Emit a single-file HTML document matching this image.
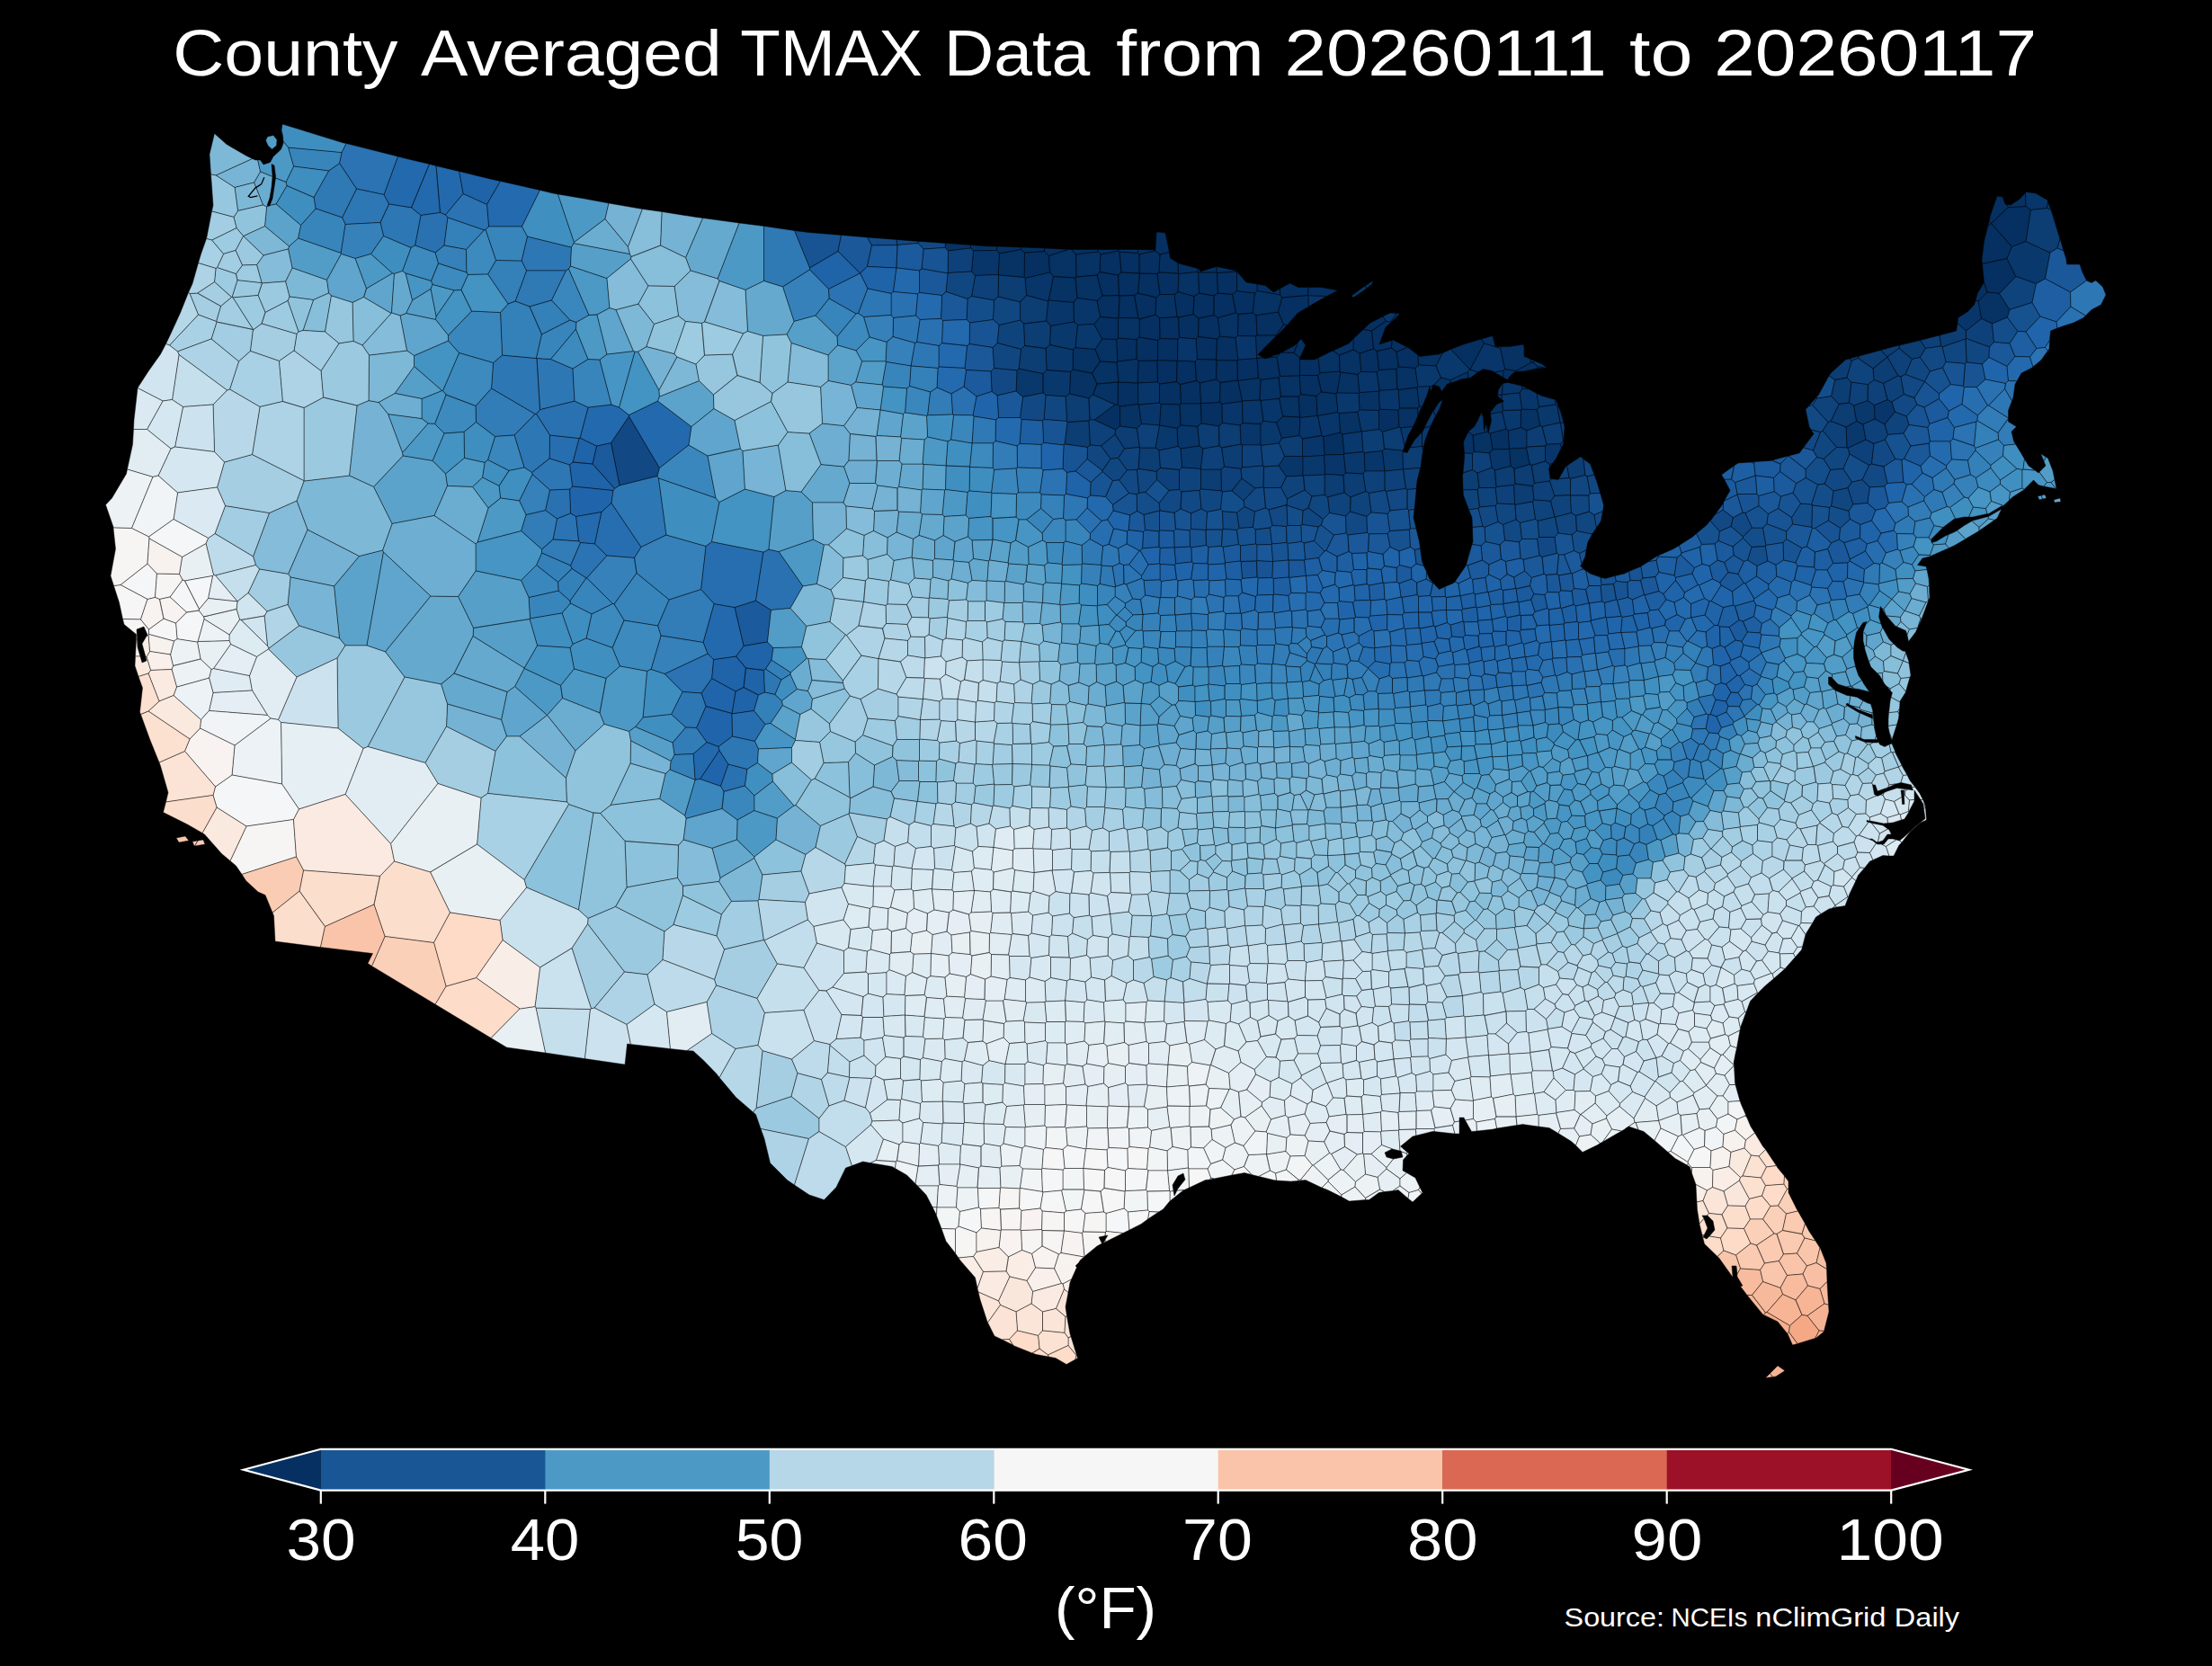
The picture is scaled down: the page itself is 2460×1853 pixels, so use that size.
<!DOCTYPE html>
<html><head><meta charset="utf-8"><title>County Averaged TMAX</title>
<style>html,body{margin:0;padding:0;background:#000;overflow:hidden}svg{display:block}text{font-family:"Liberation Sans",sans-serif;fill:#fff}</style></head>
<body><svg width="2460" height="1853" viewBox="0 0 2460 1853">
<rect width="2460" height="1853" fill="#000"/>
<g stroke="#000" stroke-opacity=".8" stroke-width=".55" stroke-linejoin="round"><path fill="#053061" d="M1139.5,281l-.5 27.5l1 1l27.5-6.5l-1-18.5l-5-5zM1108.5,278.5l3 3.5l24-4.5l0-2.5l-27-1zM1161.5,276l-11.5-.5l-14.5-.5l0 2.5l4 3.5l22-1.5zM1161.5,279.5l5 5l22-7l-27-1.5zM1196.5,283l24.5-3l-.5-2.5l-29 0zM1240.5,478l5-4l0-22l-2.5-2l-3 0l-23 17zM1359,449.5l-2.5-2l-21 1l0 .5l.5 22l19.5 3l4-3.5zM1243,450l2.5 2l20.5-2.5l-.5-23.5l-.5 0l-21-1l-.5 0zM1289.5,448l1.5 1.5l21 .5l1.5-1l-1-21.5l-4-3l-19 2.5zM1313.5,449l22 0l0-.5l-1-22.5l-4-2.5l-18 4zM1376.5,423l-19.5 2.5l-.5 22l2.5 2l22.5-3l0-.5l-4.5-22.5zM1287.5,425l-.5-24l-21 .5l-1 24.5l.5 0zM1287.5,425l2 2l19-2.5l.5-23l-21.5-1l-.5 .5zM1308.5,424.5l4 3l18-4l-1.5-21.5l-19.5-1l-.5 .5zM1331.5,399.5l-2.5 2.5l1.5 21.5l4 2.5l18-4l.5-21.5l-.5-.5zM1353,400.5l-.5 21.5l4.5 3.5l19.5-2.5l-.5-22zM1376,401l.5 22l.5 .5l22.5-3l-1.5-22l-.5 0l-20.5 1.5zM1398,398.5l1.5 22l2.5 2l20-2.5l1.5-1.5l-3.5-21.5l-10 1l-3 1l-1.5-1zM1243,402l21-2.5l0-22l-20.5-1.5l-2 1.5zM1287,401l.5-.5l0-22l-20.5-3.5l-3 2.5l0 22l2 2zM1309.5,401l.5-24l-20-.5l-2.5 2l0 22l21.5 1zM1332.5,374.5l-2.5 2.5l1.5 22.5l21 .5l1-23zM1352.5,400l.5 .5l23 .5l1-1l-3-24.5l-17-1.5l-3.5 3zM1419,373l-21 0l-1.5 1l1 24.5l.5 0l7.5-.5l-6.5-3.5l8-8.5l12-12zM1225.5,377l16 .5l2-1.5l0-22l-20-1.5l-7 8zM1290,376.5l-.5-23l-4.5-3.5l-18 5l0 20l20.5 3.5zM1311.5,375.5l-1-22.5l-1.5-.5l-19.5 1l.5 23l20 .5zM1333,354l-6-4.5l-16.5 3.5l1 22.5l18.5 1.5l2.5-2.5zM1357,374l-2.5-20.5l-4.5-3l-17 3.5l-.5 20.5l21 2.5zM1376.5,373.5l20 .5l1.5-1l-1-22.5l-3.5-2.5l-16.5 1.5zM1397,350.5l1 22.5l21 0l8.5-12l-6-14zM1220,334.5l3.5 18l20 1.5l.5-.5l1-24.5l-.5-.5l-18.5 .5zM1245,329l-1 24.5l22 .5l-4.5-25.5zM1266,354l1 1l18-5l1-19l-20.5-5l-4 2.5zM1327,349.5l1-20l-18-5l-4 3l3 25l1.5 .5zM1350,329l-16.5-3l-5.5 3.5l-1 20l6 4.5l17-3.5zM1354.5,326l-4.5 3l0 21.5l4.5 3l20-5.5l-4-20.5zM1370.5,327.5l4 20.5l2.5 1.5l16.5-1.5l2-22l-20-2.5zM1244.5,328.5l-1-22.5l-20.5-3.5l-3 3.5l6 23zM1265.5,326l2-22l-.5 0l-20-1l-3.5 3l1 22.5l.5 .5l16.5-.5zM1286,331l4-3.5l-3-23l-19.5-.5l-2 22zM1290,327.5l16 0l4-3l1-20l-.5-.5l-21.5-1l-2 1.5zM1353.5,303.5l-.5-.5l-20.5 0l1 23l16.5 3l4.5-3zM1375.5,302.5l-.5-.5l-21.5 1.5l1 22.5l16 1.5l5-4zM1398,323.5l25.5 4.5l0-7l-7 4l-9.5-7.5l-9-1.5zM1243.5,306l3.5-3l-2-23l-1-1l-20 4l-1 19.5zM1265.5,281.5l-20.5-1.5l2 23l20 1l0-21zM1267,304l.5 0l19.5 .5l2-1.5l1-20l-5.5-4l-17.5 4zM1290,283l-1 20l21.5 1l-.5-11.5l-8.5-5.5l-1-6.5zM1310.5,304l.5 .5l21-2l0-4l-21-5.5l-1-.5zM1332,302.5l.5 .5l20.5 0l0-6.5l-18 5.5l-2-3.5l-1 0zM1374.5,301l-21.5-4.5l0 6.5l.5 .5l21.5-1.5zM1224,283l20-4l0-1.5l-23.5 0l.5 2.5zM1284.5,279l0-1l-19-.5l0 4l1.5 1.5zM1286,259l-1 19l-.5 0l0 1l5.5 4l10.5-2.5l-4.5-21.5l-8-1zM1439,392.5l4.5-12l-3.5 3.5l-14.5 8l-.5 0zM1427.5,361l-8.5 12l0 1l6.5-6l5.5-6zM1455,329l-.5-.5l-29 2.5l-4 16l6 14l3.5 1l12.5-14l12-7zM1423.5,328l2 3l29-2.5l.5-9l-11.5 0l-9-4.5l-11 6zM1454.5,328.5l.5 .5l20.5 .5l12.5-6.5l-19-3.5l-14 0zM1494.5,505.5l.5-1l-2-21.5l-2.5-2l-19 4.5l1.5 20.5zM1533.5,456.5l0 21l4 3l18.5-5.5l-1-19l-20.5-1zM1446.5,438.5l-2.5 2.5l1.5 23l.5 .5l19-2l-1-22zM1469.5,436l-4-18.5l-20 0l-.5 .5l1.5 20.5l17.5 2zM1490,413l-22 1.5l-2.5 3l4 18.5l16.5 2l1-1l4-23zM1445.5,400l-.5 0l.5-1.5l0-1l-6.5-5l-14-.5l-1.5 1l-3.5 4l3.5 21.5l21.5-.5l.5-.5zM1445.5,417.5l20 0l2.5-3l-2-16.5l-4 2l-16.5 0zM1531,414l2.5-2.5l-2-21l-4-2.5l-15.5 5l1.5 20.5zM1555.5,408l-2.5-16.5l-5.5-4.5l-16 3.5l2 21l19.5-1zM1553,391.5l2.5 16.5l18.5 1.5l3.5-3.5l-.5-11l-11.5-9zM1439,392.5l6.5 5l.5 0l6-13.5l-5-7l-3.5 3.5zM1505,389l7 4l15.5-5l-2-20l-9.5-1.5l-8 7.5l-3 3zM1546.5,358l-5-1l-16 11l2 20l4 2.5l16-3.5l.5-8.5l-14 4.5l7-19l6-5.5zM1547.5,387l5.5 4.5l12.5-5.5l-.5 0l-16-8l-1 .5zM1678.5,499.5l0-.5l-1-20l-2.5-2l-18 5l3 18zM1686,412.5l-12.5-2l-1.5 1.5l-.5 7.5l5 3l2-3.5l5.5-5l2.5-.5zM1710,407.5l-4.5-4l-2.5-.5l-17 9.5l.5 1l8.5-.5l14-3l1 0zM1710,407.5l0 2.5l8-1zM2232,287.5l5.5-13l-23-26l-4 3.5l-4 16.5l-2.5 20l.5 5zM2214.5,248.5l-2.5-2.5l-1.5 6zM1650.5,382l-3-5l-20 6l-14 5.5l21 22.5l.5 0zM2253,268.5l5.5-35l-5.5-4l-19.5 1l-19 18l23 26zM2232,287.5l-27.5 6l2 20.5l3.5 11l13.5 1.5l18.5-19zM1546.5,358l.5 .5l10-9.5l-4-.5zM2200,335l10-10l-3.5-11l-7.5 12.5l-2 8zM1525.5,368l16-11l-3.5-5l-14 7l-8 7.5zM2214.5,248.5l19-18l-2-3l-1.5-.5l-2.5-7l-.5-1l-6-1l-7.5 21.5l-1.5 6.5zM1707,401.5l-5.5-2.5l1.5 4l2.5 .5z"/>
<path fill="#063264" d="M1190.5,413.5l-1 24.5l21.5 5l4.5-4l4.5-12l-5.5-12l-21.5-4zM1193.5,389l-.5 22l21.5 4l9-13l-5.5-13.5l-22-2zM1196,309l-24.5-1.5l-5.5 26.5l28 2.5l4-5zM1220,334.5l6-5.5l-6-23l-23 2l-1 1l2 22.5zM1139.5,281l-4-3.5l-24 4.5l-1.5 23.5l.5 .5l28.5 2.5zM1166.5,284.5l1 18.5l4 4.5l24.5 1.5l1-1l-.5-25l-5-5.5l-1.5 0l-1.5 0zM1220,306l3-3.5l1-19.5l-3-3l-24.5 3l.5 25zM1051,275.5l3.5 3.5l25-3l0-3.5l-28-2zM1079.5,276l3 3l26-.5l0-4.5l-8.5 0l-20.5-1.5zM1245.5,452l0 22l19 2.5l5-5l-3-21.5l-.5-.5zM1312,450l-21-.5l-1.5 23.5l19.5 3.5l4-3.5zM1332,474.5l4-3.5l-.5-22l-22 0l-1.5 1l1 23zM1220,427l-4.5 12l24.5 11l3 0l.5-25zM1352.5,422l-18 4l1 22.5l21-1l.5-22zM1381.5,446l19.5-1l1-22.5l-2.5-2l-22.5 3zM1424.5,441l-2.5-21l-20 2.5l-1 22.5l1 .5l20.5-2zM1220,427l23.5-2l.5 0l-2-22l-18.5-1l-9 13zM1244,425l21 1l1-24.5l-2-2l-21 2.5l-1 1zM1223.5,402l18.5 1l1-1l-1.5-24.5l-16-.5l-7.5 11.5zM1420,397l3.5-4l-13.5 5zM1264,377.5l3-2.5l0-20l-1-1l-22-.5l-.5 .5l0 22zM1374.5,348l-20 5.5l2.5 20.5l17 1.5l2.5-2l.5-24zM1306,327.5l-16 0l-4 3.5l-1 19l4.5 3.5l19.5-1zM1393.5,348l3.5 2.5l24.5-3.5l4-16l-2-3l-25.5-4.5l-2.5 2.5zM1332,302.5l-21 2l-1 20l18 5l5.5-3.5l-1-23zM1375.5,302.5l0 21l20 2.5l2.5-2.5l0-7.5l-12-2l-10-11.5zM1265.5,277.5l-21.5 0l0 1.5l1 1l20.5 1.5zM1446,464.5l-.5-.5l-19-1l-7 7l6 17.5l19.5-3zM1490.5,481l2.5 2l21-3l-4-22l-21 1.5zM1571.5,474.5l2.5-5l3-7.5l-.5-8l-20 0l-1.5 2l1 19l1.5 1zM1578.5,452l-2 2l.5 8l4.5-10zM1444,441l-19.5 0l-2 2.5l4 19.5l19 1zM1465,462.5l.5 0l22.5-4l-2-20.5l-16.5-2l-5.5 4.5zM1512,456l21.5 .5l1-1.5l-1-20l-21.5 1.5l-1 1zM1576.5,454l2-2l-2.5-21l-21 2.5l1.5 20.5zM1445,418l-21.5 .5l-1.5 1.5l2.5 21l19.5 0l2.5-2.5zM1491,414l-4 23l24 .5l1-1l-2-20zM1534,434.5l20-1.5l-1-22.5l-19.5 1l-2.5 2.5zM1555,433.5l21-2.5l1-1l-3-20.5l-18.5-1.5l-2.5 2.5l1 22.5zM1468,414.5l22-1.5l-.5-18l-7-5l-2.5 1l-14 7zM1513.5,413.5l-1.5-20.5l-7-4l-15.5 6l.5 18l1 1l19 2.5zM1577.5,406l19.5 1l7.5-14.5l-4.5 1.5l-21 2.5l-2-1.5zM1489.5,395l15.5-6l0-12l-5 5l-17.5 8zM1697.5,498l-19 1l0 .5l1.5 19l4 3l17.5-5zM1637.5,504.5l2-2l-1.5-18.5l-4.5-3.5l-1 .5l-5 10.5l1 12.5zM1654,480l-16 4l1.5 18.5l17 1.5l3.5-4l-3-18l-1.5-1l0 .5l0-.5zM1709.5,455.5l-17-.5l-1 1l-.5 19.5l7 3.5l15-5.5zM1670.5,458l1-1.5l-.5-9.5l-6.5 2.5l-7 9l0 2zM1613,422.5l-10.5-2.5l-8 8l6 2l3 5.5l6-8.5l3.5-1zM1604,446l.5-2.5l-2 2zM1632.5,413.5l-19.5 9l0 3.5l5.5-1.5l6-2.5l8.5-1.5zM1672,412l-10 2l7.5 4.5l2 1zM1693,432.5l7.5 .5l-8-4l-.5 0zM1520,320.5l6-4.5l1-4l-9.5 6.5zM2233.5,230.5l19.5-1l-.5-15l-6.5 7l-10 6.5l-4.5-.5zM1701.5,399l-6.5-2.5l0-11l-1-2.5l-15 2.5l-8.5 0l-2 2l5 23l12.5 2l17-9.5zM1650.5,382l18 5.5l2-2l-7.5 0l-3-12l-12.5 3.5zM2203.5,354.5l12 5.5l17-7l2.5-8.5l-11.5-18l-13.5-1.5l-10 10z"/>
<path fill="#08366a" d="M1166,334l-.5 1l-2 22l5 5.5l26-4.5l-.5-21.5zM1223.5,352.5l-3.5-18l-22-3l-4 5l.5 21.5l4 3.5l18-1zM1141.5,328.5l24 6.5l.5-1l5.5-26.5l-4-4.5l-27.5 6.5zM1111.5,282l-3-3.5l-26 .5l-2 23l4 4.5l25.5-1zM1332,474.5l-19-1.5l-4 3.5l1 20l3 2.5l21-3zM1402,471.5l-20-1l-3 2.5l1 21l1.5 1l20.5 0zM1266.5,450l3 21.5l20 1.5l1.5-23.5l-1.5-1.5zM1382,470.5l-.5-24l-22.5 3l.5 21l19.5 2.5zM1405,468.5l-3-23l-1-.5l-19.5 1l0 .5l.5 24l20 1zM1419.5,470l7-7l-4-19.5l-20.5 2l3 23zM1266,449.5l.5 .5l23-2l0-21l-2-2l-22 1zM1329,402l2.5-2.5l-1.5-22.5l-18.5-1.5l-1.5 1.5l-.5 24zM1377,400l20.5-1.5l-1-24.5l-20-.5l-2.5 2zM1375,302l.5 .5l.5 0l-1-1.5l-.5 0zM1455,329l.5 12l6.5-4l13.5-7.5zM1449,508l-.5-.5l-20 0l-6.5 10.5l8.5 12l18.5-1zM1473.5,527.5l20.5 1l2.5-2.5l-2-20.5l-21.5 .5l-.5 .5zM1537.5,501.5l-20.5 2l1 20.5l22 0zM1473,506l-1.5-20.5l-1.5-1l-21.5 3.5l0 19.5l.5 .5l23.5-1.5zM1465.5,462.5l-.5 0l-19 2l-1 20l3.5 3.5l21.5-3.5zM1490.5,481l-1.5-21.5l-1-1l-22.5 4l4.5 22l1.5 1zM1555,456l1.5-2l-1.5-20.5l-1-.5l-20 1.5l-.5 .5l1 20zM1578.5,452l3 0l.5-.5l5-12l3-9.5l1.5 5.5l1.5-5.5l0-.5l-16 .5l-1 1zM1512,436.5l21.5-1.5l.5-.5l-3-20.5l-17.5-.5l-3.5 3zM1659,520l3.5 3l17.5-4.5l-1.5-19l-18.5 .5l-3.5 4zM1735.5,493.5l-15.5 .5l-1.5 2l0 17l5 3.5l3-1l4-5.5l6-12zM1691,475.5l-13.5 3.5l1 20l19-1l.5-1l0-18zM1633.5,480.5l4.5 3.5l16-4l-.5-8.5l0-2l-3 10l-1-15l-1-3.5l-2.5 .5l-2.5 6l-4 7l-6 5zM1654,480l1.5 1l-2-9.5zM1602.5,445.5l-3 3l-5.5 9l2.5 5.5l5-9.5l2.5-7.5zM1648.5,461l-1-2.5l-1.5 3zM1670,439.5l-4.5-.5l0 1.5l5 4.5zM1693,432.5l-3 4.5l2.5 18l17 .5l2-3l-2.5-15l-8.5-4.5zM1730,450l2 2l1-.5l-2.5-6.5l-1-.5zM1635,411l-.5 0l-2 2.5l.5 7l2.5-.5l8-6zM1670.5,439l.5-12.5l-.5 .5l-4 6.5l-1 5.5l4.5 .5zM1670.5,439l19.5-2l3-4.5l-1-3.5l-15-3.5l-6 1zM1517.5,318.5l-2.5 1.5l-12 9l2 2l9-6l6-4.5zM1705.5,403.5l4.5 4l8 1.5l2-.5l-6-4l-7-3zM1541.5,357l5 1l6.5-9.5l-7-.5l-8 4zM2276.5,231.5l1-7l-.5-2l-13-7.5l-10.5-1.5l-1 1l.5 15l5.5 4zM1672,412l1.5-1.5l-5-23l-18-5.5l-15.5 29l8.5 3l6-3.5l10 2l2.5 1.5zM2186.5,368l17-13.5l-3.5-19.5l-3-.5l-1.5 4.5l-7 7.5l-11 7l-.5 6zM2099,444.5l-14.5 6l.5 15.5l11 6l11.5-14l-3.5-11zM1695,385.5l0-2.5l-1 0z"/>
<path fill="#09386d" d="M1131,412l-1 23l7.5 6.5l22.5-4.5l0-21.5l-27-5.5zM1160,415.5l0 21.5l3 2.5l22 1.5l4.5-3l1-24.5l-26.5-2zM1167.5,383.5l-4.5 4l1 24l26.5 2l2.5-2.5l.5-22zM1198.5,361.5l-4-3.5l-26 4.5l-1 21l26 5.5l2.5-2.5zM1218,388.5l7.5-11.5l-9-16.5l-18 1l-2.5 25zM1338,499l-4-3l-21 3l1.5 21l21 1.5zM1310,496.5l-1-20l-19.5-3.5l-4.5 25l4 3zM1402.5,495.5l20-2.5l3-5.5l-6-17.5l-14.5-1.5l-3 3l0 23.5zM1449.5,529l23.5-1l.5-.5l-1-21l-23.5 1.5l0 21zM1518,524l-1-20.5l-1-1l-21 2l-.5 1l2 20.5l19.5 1zM1537.5,501.5l2.5 22.5l20.5-2l-.5-19.5l0-1l0-.5l-20.5-2zM1581.5,496.5l1 5l1-5.5zM1514,480l-21 3l2 21.5l21-2l-1.5-22.5zM1562,496l4-11.5l5.5-10l-14 1.5zM1581.5,496.5l0-16l-8.5 9l-5 8.5zM1583.5,496l1.5-6.5l5-13l1-2.5l-7 2l-2 4.5l-.5 0l0 16zM1510,458l4 22l.5 0l19-2.5l0-21l-21.5-.5zM1591,474l4.5-9.5l1-1.5l-2.5-5.5l-.5 0l-6.5 12l-3 6.5zM1486,438l2 20.5l1 1l21-1.5l2-2l-1-18.5l-24-.5zM1593,429.5l.5-1l0-.5l1 0l8-8l-5.5-13l-19.5-1l-3.5 3.5l3 20.5zM1723.5,516.5l0 3l3-4zM1738.5,490l-3 3.5l1 4.5l2-4l.5-4zM1657,482l18-5l-4.5-19l-13 2.5l1 7l-3 13.5zM1670.5,458l4.5 19l2.5 2l13.5-3.5l.5-19.5l-20 .5zM1711.5,452.5l-2 3l3.5 18l2 1l20-4.5l-3-18l-2-2zM1735,470l.5 .5l3.5-.5l-3-11l-3-7.5l-1 .5zM1691.5,456l1-1l-2.5-18l-19.5 2l-.5 .5l.5 5.5l2 1l-1.5 1l.5 9.5zM1711.5,452.5l18.5-2.5l-.5-5.5l-15.5-4.5l-5-2.5zM2276.5,231.5l4.5 2l-3.5-9zM2264.5,315.5l10-5.5l5.5-29l-27-12.5l-15.5 6l-5.5 13l10 20zM2084.5,450.5l-7.5-5l-15.5 5.5l3 17.5l7.5 3.5l13-6zM2075,489l-3-17l-7.5-3.5l-11.5 6.5l1 23l1 .5zM1613.5,388.5l-9 4l-7.5 14.5l5.5 13l10.5 2.5l19.5-9l2-2.5z"/>
<path fill="#0c3d73" d="M1135.5,388.5l-2.5 21.5l27 5.5l4-4l-1-24l-23.5-3zM1163,387.5l4.5-4l1-21l-5-5.5l-25 3l1 24.5zM1141.5,328.5l-7 7.5l0 20l4 4l25-3l2-22zM1110.5,306l-.5 24l24.5 6l7-7.5l-1.5-19l-1-1zM1211,468l-24 1.5l-3 24.5l25.5 3.5l3-2.5zM1189.5,438l-4.5 3l1.5 27.5l.5 1l24-1.5l1-1l-1-24zM1211,443l1 24l5 0l23-17l-24.5-11zM1358.5,546l-.5-24l-22.5 0l0 22zM1285,498l-17.5 0l-1.5 23.5l20 3l4.5-4l-1.5-19.5zM1381.5,495l-1.5-1l-21.5 4l3 21l18.5 2.5l1.5-1.5zM1250.5,499l17-1.5l-3-21l-19-2.5l-5 4l-.5 5zM1338,499l18-3l-.5-22l-19.5-3l-4 3.5l2 21.5zM1379,473l-19.5-2.5l-4 3.5l.5 22l2.5 2l21.5-4zM1494,528.5l-20.5-1l-.5 .5l0 22.5l3.5 2.5l18.5-5zM1502,553l17-6.5l-3-19.5l-19.5-1l-2.5 2.5l1 19.5zM1560.5,522l19-1.5l.5-1l2-15l.5-3l-1-5l-13.5 1.5l-3 5.5l-5-1zM1448.5,488l-3.5-3.5l-19.5 3l-3 5.5l6 14.5l20 0zM1537.5,480.5l-4-3l-19 2.5l1.5 22.5l1 1l20.5-2l2-2.5zM1557.5,476l-1.5-1l-18.5 5.5l2 18.5l20.5 2l.5 0l1.5-5zM1684.5,561l.5 .5l19.5-3.5l1.5-2l-1.5-15.5l-19.5-2.5l-1.5 1.5zM1643,544.5l2-2l-2-16.5l-5.5-3.5l-10.5 3.5l-.5 3.5l.5 15.5zM1662.5,523l-3.5-3l-16 6l2 16.5l18 0l1-1zM1683.5,539.5l1.5-1.5l-1-16.5l-4-3l-17.5 4.5l1.5 18.5zM1701.5,516.5l-17.5 5l1 16.5l19.5 2.5l2-3l-3.5-20zM1703,517.5l3.5 20l17-2.5l1-2l0-1l-.5 0l-1.5-11l1-1.5l0-3l-5-3.5zM1745,531.5l1.5 1l16.5-4l-2-18l-3-2.5l-.5 0l-15 10zM1637.5,522.5l0-18l-9-.5l0 5.5l-1.5 16.5zM1718.5,496l-20.5 1l-.5 1l4 18.5l1.5 1l15.5-4.5zM1713,473.5l-15 5.5l0 18l20.5-1l1.5-2l-5-19.5zM1715,474.5l5 19.5l15.5-.5l3-3.5l-3-19.5l-.5-.5zM1735.5,470.5l3 19.5l.5 0l1-15l-1-5zM2158.5,385l1.5 1l26-9l.5-.5l0-8.5l-9.5-8.5l-1.5 8.5l-18.5 5zM2141.5,387.5l-6-9l-23 5.5l-.5 3.5l14.5 12l9-2zM2280,281l8-5l3-10l-7-23l-3-9.5l-4.5-2l-18 2l-5.5 35zM2040.5,422.5l13.5-2.5l5.5-19l-3-2l-4 1l-16.5 15l-2 3zM2091.5,389.5l-24 6.5l-1 2.5l16.5 11.5l16-13zM2083,410l1 12.5l10.5 4l16.5-8.5l-12-21zM2045,449.5l-9 19l17 6.5l11.5-6.5l-3-17.5l-5-3zM2112,387.5l.5-3.5l-8.5 2l-12.5 3.5l7.5 7.5zM2059.5,401l7-2.5l1-2.5l-11 3zM2036.5,440.5l8.5 9l11.5-1.5l2.5-23l-5-5l-13.5 2.5z"/>
<path fill="#0e4179" d="M1110,305.5l-25.5 1l-4 23l25 4.5l4.5-4l.5-24zM1080.5,302l2-23l-3-3l-25 3l-.5 24.5zM1212,467l-1 1l1.5 27l12 1l15.5-13l.5-5l-23.5-11zM1300,545.5l11.5-1l0-22l-21-2l-4.5 4l.5 9zM1370,546l11-14l-1-10.5l-18.5-2.5l-3.5 3l.5 24l1 1zM1313,499l-3-2.5l-21 4.5l1.5 19.5l21 2l3-2.5zM1335.5,522l22.5 0l3.5-3l-3-21l-2.5-2l-18 3l-2.5 22.5zM1404.5,518l-2-22.5l-.5-.5l-20.5 0l0 25zM1289.5,473l-20-1.5l-5 5l3 21l0 .5l17.5 0zM1522.5,548.5l17.5-3l0-21.5l-22 0l-2 3l3 19.5zM1560.5,522l-20.5 2l0 21.5l1.5 1l22-3zM1575,543.5l1-8.5l3.5-14.5l-19 1.5l3 21.5l1.5 1zM1663,542.5l2 17.5l19.5 1l-1-21.5l-19.5 2zM1706.5,537.5l-2 3l1.5 15.5l18.5 1.5l4.5-6l-5.5-16.5zM1724.5,533l4.5 0l-4.5-1zM1639.5,502.5l-2 2l0 18l5.5 3.5l16-6l-2.5-16zM2085,466l-13 6l3 17l9 4.5l12.5-4.5l3-5.5l-3.5-11.5zM1235,510.5l8.5-1l7-10.5l-10.5-16l-15.5 13zM2094.5,426.5l-10.5-4l-6.5 5l-.5 18l7.5 5l14.5-6zM2186.5,368l0 8.5l26 9.5l5-5.5l-2-20.5l-12-5.5zM2057,505l21.5 12.5l3-1.5l2.5-22.5l-9-4.5l-20 9.5zM2077.5,427.5l-18.5-2.5l-2.5 23l5 3l15.5-5.5zM2053,475l-17-6.5l-3 1l-6 9.5l15.5 18.5l11.5 .5zM2158.5,385l-1.5-12l-12 3l-9.5 2.5l6 9zM1370,546l13 11l13-14l-15-11zM2099,397l12 21l3 1l5-2.5l7.5-17l-14.5-12zM2117.5,438.5l-3.5-19.5l-3-1l-16.5 8.5l4.5 18l5 2.5z"/>
<path fill="#0f437b" d="M1109,381.5l26.5 7l4-4l-1-24.5l-4-4l-23.5 5.5zM1334,545.5l1.5-1.5l0-22l0-.5l-21-1.5l-3 2.5l0 22l2.5 2.5zM1380,521.5l1 10.5l15 11l9-1l.5-23l-1-1l-23 2zM1430.5,530l-8.5-12l-16.5 1l-.5 23l.5 .5l19 0zM1264.5,522.5l1.5-1l1.5-23.5l0-.5l-17 1.5l-7 10.5l10 13.5zM1405.5,519l16.5-1l6.5-10.5l-6-14.5l-20 2.5l2 22.5zM1476.5,553l2 17.5l18 3.5l5-5l.5-16l-7-5zM1501.5,569l18.5 5.5l5-4.5l-2.5-21.5l-3.5-2l-17 6.5zM1430.5,530l-6 12.5l7 12.5l19.5-10l-1.5-16l-.5 0zM1451,545l8 7l14-1.5l0-22.5l-23.5 1zM1710,579.5l19-4.5l-4.5-17.5l-18.5-1.5l-1.5 2l3 19.5zM1747.5,570.5l-1-19.5l0-.5l-17.5 1l-4.5 6l4.5 17.5l.5 0zM1644,565.5l1.5-1.5l-2.5-19.5l-16 .5l.5 6l6 16zM1663,562.5l2-2.5l-2-17.5l-18 0l-2 2l2.5 19.5zM1724.5,533l-1 2l5.5 16.5l17.5-1l0-18l-1.5-1l-11.5 1l-.5 1l-4-.5zM1745,531.5l-2.5-13.5l-1 .5l-8 14zM2260,336.5l4.5-21l-22.5-8l-18.5 19l11.5 18zM2020.5,443l-5 7.5l17.5 19l3-1l9-19l-8.5-9zM2066.5,398.5l-7 2.5l-5.5 19l5 5l18.5 2.5l6.5-5l-1-12.5zM2107.5,458l-11.5 14l3.5 11.5l17.5-1.5l6-9.5l-2.5-9.5z"/>
<path fill="#114781" d="M1109,381.5l-5 5l1.5 23l25.5 2.5l2-2l2.5-21.5zM1104.5,355.5l6.5 6l23.5-5.5l0-20l-24.5-6l-4.5 4zM1080.5,329.5l4-23l-4-4.5l-26.5 1.5l0 .5l-2 20.5l24 8zM1209.5,497.5l-.5 13l17 13l9-13l-10.5-14.5l-12-1zM1185,441l-22-1.5l-2 27l25.5 2zM1336,566l6.5 3.5l15-3l2-19.5l-1-1l-23-2l-1.5 1.5zM1286.5,533.5l-.5-9l-20-3l-1.5 1l2 26l7.5-1zM1395.5,569l-11.5-5.5l-8.5 6.5l2.5 17.5l15.5-1zM1466,586l3.5-2l2-6.5l-16.5-12.5l-6 3l-1 15.5zM1478.5,570.5l-2-17.5l-3.5-2.5l-14 1.5l-4 13l16.5 12.5zM1729,597.5l4-4.5l-3.5-18l-.5 0l-19 4.5l1.5 18zM1733,593l15 2l5.5-4.5l-1-17l-5-3l-18 4.5zM1767.5,569l-15 4.5l1 17l16.5 3.5l2-1.5l2-3.5l1.5-2l-2.5-14.5zM1671.5,583.5l14.5-5.5l-1-16.5l-.5-.5l-19.5-1l-2 2.5l3 18zM1704.5,558l-19.5 3.5l1 16.5l4.5 3.5l17-4zM1746.5,551l1 19.5l5 3l15-4.5l-.5-18zM1768.5,549l-3.5-19l-2-1.5l-16.5 4l0 18l0 .5l20.5 0zM1765,530l3.5 19l11-.5l0-.5l-3-10.5l-3.5-9.5zM1763,528.5l2 1.5l8-2l-4.5-12l-7.5-5.5zM2295,279l-3.5-12l-.5-1l-3 10zM2056,568.5l5-7.5l-6-18.5l-16 3.5l-2.5 17zM2160,386l4 16.5l21.5 2l1.5-1.5l-1-26zM2146.5,413l-11-15.5l-9 2l-7.5 17l21.5 8zM2050,521.5l7-16.5l-2-6.5l-1-.5l-11.5-.5l-14.5 13l7.5 12zM2186,377l1 26l17.5 2l7.5-7.5l.5-11.5l-26-9.5zM1226,523.5l0 1l11.5 10l7-.5l9-11l-10-13.5l-8.5 1zM1431,561.5l0 .5l18 6l6-3l4-13l-8-7l-19.5 10zM2028,510.5l14.5-13l-15.5-18.5l-2.5 1.5l-8 20.5l4 7.5z"/>
<path fill="#124984" d="M1130,435l1-23l-25.5-2.5l-3.5 3.5l1 22.5l6 4.5zM997.5,272.5l.5 0l23-2l.5-2l-24.5-2zM1021,270.5l6 6.5l24-1.5l.5-5l-28.5-2l-1.5 0zM1163,439.5l-3-2.5l-22.5 4.5l-3 23l1.5 2l23.5 1.5l1.5-1.5zM1290,568l16 2.5l7-4.5l1-19l-2.5-2.5l-11.5 1l-11 14zM1324.5,571l11.5-5l-2-20.5l-20 1.5l-1 19zM1405.5,542.5l-.5-.5l-9 1l-13 14l1 6.5l11.5 5.5l12-4zM1405.5,542.5l2 22.5l3.5 2l20-5.5l.5-6.5l-7-12.5zM1266.5,548.5l-2-26l-11 .5l-9 11l11 14.5l8.5 1.5zM1378,587.5l-2.5-17.5l-16-1.5l.5 20l15.5 1zM1415,584.5l15.5 1l1.5-1l-1-22.5l0-.5l-20 5.5zM1496.5,574l.5 19l2 2l21.5-2.5l-.5-18l-18.5-5.5zM1546,568l-4.5-21.5l-1.5-1l-17.5 3l2.5 21.5l18 1.5zM1565,566l0-21.5l-1.5-1l-22 3l4.5 21.5zM1573,566.5l2-20.5l0-2.5l-10 1l0 21.5l1.5 1.5zM1729,597.5l-17.5 0l-2 2l2.5 18.5l3 1.5l16.5-4zM1770,594l0 1.5l2-3zM1673.5,601l16 2l3-3.5l-2-18l-4.5-3.5l-14.5 5.5zM1773,572.5l2.5 14.5l5-7.5l2-11zM1663,562.5l-17.5 1.5l-1.5 1.5l5 20l2 1l15-6zM679.5,492.5l9.5 47.5l42-10.5l2.5-9l-34-57.5zM2077,559.5l2.5-17.5l-8.5-8.5l-11.5 2.5l-4.5 6.5l6 18.5zM2129,442.5l-11.5-4l-13.5 8.5l3.5 11l13 5l11.5-13zM2033,469.5l-17.5-19l-4 1l-3.5 4l4 19l2 3.5l10.5 2.5l2.5-1.5zM2160.5,409l3.5-6.5l-4-16.5l-1.5-1l-17 2.5l-6 10l11 15.5zM2024.5,480.5l-10.5-2.5l3 4.5l-11.5 15.5l11 3zM2095,519l13-8.5l-11.5-21.5l-12.5 4.5l-2.5 22.5zM2071,533.5l8.5 8.5l16.5-1l3-3.5l-4-18.5l-13.5-3l-3 1.5zM2039,546l16-3.5l4.5-6.5l-9.5-14.5l-14.5 1l-6.5 15.5zM1941,570.5l-3-.5l-10.5 5.5l-2.5 10l13.5 11.5l10-10zM2140.5,424.5l-21.5-8l-5 2.5l3.5 19.5l11.5 4zM1902,579.5l10.5 11.5l12.5-5.5l2.5-10l-11.5-8.5l-8.5 5z"/>
<path fill="#144e8a" d="M1080.5,329.5l-4.5 3l-1 23l3.5 3.5l26-3.5l1-21.5zM997,266.5l-32.5-2.5l5 9l28-.5zM1266.5,548.5l-2.5 1.5l.5 18.5l7.5 4l17.5-4.5l.5 0l-1-8.5l-15-12zM1357.5,566.5l2 2l16 1.5l8.5-6.5l-1-6.5l-13-11l-10.5 1zM1414,605.5l.5-.5l-2-18l-16.5 2l.5 16l1.5 1zM1341,589.5l.5-.5l1-19.5l-6.5-3.5l-11.5 5l0 17.5zM1396,589l16.5-2l2.5-2.5l-4-17.5l-3.5-2l-12 4l-2 17.5zM1449,568l-18-6l1 22.5l15 0l1-1zM1770,594l-16.5-3.5l-5.5 4.5l2.5 17.5l6 3l7.5-3.5l2-9.5l4-7zM1711.5,597.5l-1.5-18l-2.5-2l-17 4l2 18l17 0zM1633.5,567l3.5 8.5l.5 11l11.5-1l-5-20zM1943.5,623l10.5 6.5l12-5.5l-2.5-16.5l-15.5 1zM2217.5,380.5l17.5 1.5l9-13.5l-11.5-15.5l-17 7zM2050,521.5l9.5 14.5l11.5-2.5l7.5-16l-21.5-12.5zM2015,586.5l.5-24.5l-1-1l-12-1l-10 15.5l1 7.5zM2015.5,450.5l5-7.5l-.5-1l-8.5 9.5zM2036.5,563l2.5-17l-10-8l-7.5 1l-7 22l1 1l19 2.5zM2057.5,577.5l-1.5-9l-19.5-5.5l-2 1.5l-1 14.5l13 8.5zM2020.5,443l16-2.5l4-18l-6.5-4.5l-11.5 21l-2.5 3zM2008,531.5l13.5 7.5l7.5-1l6.5-15.5l-7.5-12l-7.5-2l-12.5 13.5zM1948.5,587l-10 10l0 1.5l9.5 10l15.5-1l.5-1l-3.5-19.5z"/>
<path fill="#175290" d="M1323,590l.5 18l1.5 1l16.5-2.5l-.5-17l-16.5-1zM1341.5,606.5l2.5 2l14.5-1l1-18.5l-18 0l-.5 .5zM1375.5,589.5l-15.5-1l-.5 .5l-1 18.5l1.5 1l17.5-3zM1378,587.5l-2.5 2l2 16l2 1.5l17-2l-.5-16l-2.5-2.5zM1431,603.5l-.5-18l-15.5-1l-2.5 2.5l2 18zM1447.5,602.5l-.5-18l-15 0l-1.5 1l.5 18l1 1zM1272,572.5l1.5 17l15.5 1.5l.5-1l0-22zM1359.5,589l.5-.5l-.5-20l-2-2l-15 3l-1 19.5zM1568.5,608.5l-1-19.5l-22 1.5l-2.5 3l3 15l10 4.5zM1545.5,590.5l22-1.5l1-1l-2-20.5l-1.5-1.5l-19 2l-3 3.5zM1566.5,567.5l2 20.5l6.5 0l-3-12.5l1-9zM1651,586.5l1 16l16 3.5l5.5-5l-2-17.5l-5.5-3zM1779.5,548.5l-11 .5l-1.5 2l.5 18l5.5 3.5l9.5-4l1-6.5l-3.5-12.5zM2125,496l-8-14l-17.5 1.5l-3 5.5l11.5 21.5l7 1l2.5-1zM1965,582.5l1.5-11l-10.5-9l-15 8l7.5 16.5l12 0zM1987,591l-22-8.5l-4.5 4.5l3.5 19.5l19-3l3.5-4zM1892.5,605.5l14.5-.5l4-3.5l1.5-10.5l-10.5-11.5l-.5 0l-3 4l-12 10zM2140.5,424.5l16 13.5l13-10.5l-9-18.5l-14 4zM1997.5,537.5l-3.5 10.5l8.5 12l12 1l7-22l-13.5-7.5zM2018.5,587.5l15-8.5l1-14.5l-19-2.5l-.5 24.5l.5 1zM1473,613l2-.5l8.5-17.5l-14-11l-3.5 2l-4.5 15.5zM2269,352l-9-15.5l-25 8l-2.5 8.5l11.5 15.5l9 .5zM1289,559.5l11-14l-13.5-12l-12.5 14z"/>
<path fill="#185493" d="M1078.5,359l-.5 23.5l26 4l5-5l2-20l-6.5-6zM1054.5,279l-3.5-3.5l-24 1.5l-2 22l29 5l0-.5zM1229.5,552.5l8-18l-11.5-10l-13 12l-.5 14.5zM1184,494l-1 1l-1 26.5l4.5 4l9.5-1.5l13-13.5l.5-13zM1161,466.5l-1.5 1.5l1 24.5l22.5 2.5l1-1l3-24.5l-.5-1zM1255.5,548.5l-18 13l.5 6.5l18.5 5l8-4.5l-.5-18.5zM1397.5,624l-17.5 .5l1.5 19l16.5-1.5zM1399,643l16-.5l.5-18l-17.5-1l-.5 .5l.5 18zM1398,623.5l0-17.5l-1.5-1l-17 2l0 17l.5 .5l17.5-.5zM1415.5,624.5l17.5-1.5l-1-18.5l-1-1l-16.5 1.5l-.5 .5zM1451.5,622.5l15-2l6.5-7.5l-11.5-11.5l-11.5 2.5zM1450,604l11.5-2.5l4.5-15.5l-18-2.5l-1 1l.5 18zM1290,568l-.5 0l0 22l16 .5l2-2l-1.5-18zM1307.5,588.5l15.5 1.5l1.5-1.5l0-17.5l-11.5-5l-7 4.5zM1483.5,595l13.5-2l-.5-19l-18-3.5l-7 7l-2 6.5zM1525,570l-5 4.5l.5 18l2 1.5l20.5-.5l2.5-3l-2.5-19zM1573,611.5l2 15.5l8.5 2.5l-2-5l-2-14.5zM1760,633l3.5 1.5l-4-3.5zM1756.5,615.5l2.5 12l4-8.5l1-7zM1712,618l-2.5-18.5l-17 0l-3 3.5l1.5 18l3 1.5zM1739.5,617l11-4.5l-2.5-17.5l-15-2l-4 4.5l2.5 18l2 1.5zM1649,585.5l-11.5 1l.5 16l-1 3l10 1.5l5-4.5l-1-16zM1797.5,667l-3-17.5l-13.5 1l-1 1l1.5 17.5l3 1.5zM1810.5,664.5l-.5-17l-12.5-1l-3 3l3 17.5l1 .5zM1781,650.5l13.5-1l3-3l-1.5-6l-11 3l-5-1.5zM1813,645.5l11.5 .5l2.5-3l-2-13l-13.5 5.5zM900.5,298l31.5-18.5l3.5-18l-36.5-3l-15.5-2zM1993.5,583l-1-7.5l-15-10l-11 6l-1.5 11l22 8.5zM2187,403l-1.5 1.5l-2 25l1 1l14 0l9.5-8.5l-3.5-17zM1938.5,597l-13.5-11.5l-12.5 5.5l-1.5 10.5l16 6.5l11.5-9.5zM1983,603.5l.5 19.5l13.5 3l7-16.5l-17.5-10zM1943.5,623l4.5-14.5l-9.5-10l-11.5 9.5l1 9.5l11.5 7zM2183.5,429.5l2-25l-21.5-2l-3.5 6.5l9 18.5zM2002.5,560l-8.5-12l-13.5 4l-3 13.5l15 10zM2140,453l16.5-9.5l0-5.5l-16-13.5l-11.5 18l3 7.5zM2146,471.5l-6-18.5l-8-3l-11.5 13l2.5 9.5l21 3zM2046.5,587.5l-13-8.5l-15 8.5l18 16.5l9-4zM1956,562.5l0-11l-2-2l-22 0l0 .5l6 20l3 .5zM1244.5,534l-7 .5l-8 18l8 9l18-13z"/>
<path fill="#1a5899" d="M1105.5,409.5l-1.5-23l-26-4l-2.5 2l-2.5 25l1.5 2l27.5 1.5zM1075,355.5l1-23l-24-8l-4.5 4l-1 26l2 2zM1022.5,301l0 24.5l25 3l4.5-4l2-20.5l-29-5zM1134.5,464.5l3-23l-7.5-6.5l-21 5l1.5 24.5zM1452.5,640.5l-2-17.5l-17.5 0l.5 19l.5 .5zM1415.5,624.5l-1.5-19l-16 .5l0 17.5zM1433,623l17.5 0l1-.5l-1.5-18.5l-2.5-1.5l-15.5 2zM1307.5,588.5l-2 2l.5 18.5l17.5-1l-.5-18zM1264.5,568.5l-8 4.5l-1.5 16.5l16.5 2l2-2l-1.5-17zM1500,613.5l-1-18.5l-2-2l-13.5 2l-8.5 17.5l12 6.5zM1521.5,613.5l1-19.5l-2-1.5l-21.5 2.5l1 18.5l3.5 2l16.5-.5zM1538,616.5l8-8l-3-15l-20.5 .5l-1 19.5zM1568.5,588l-1 1l1 19.5l4.5 3l6.5-1.5l-1-7.5l-3.5-14.5zM1712,618l-18 4.5l1.5 12.5l8 7.5l13.5-4l-2-19zM1731.5,615.5l-16.5 4l2 19l2.5 1l12-1l2-21.5zM1669.5,622l-1.5-16l-16-3.5l-5 4.5l1.5 16l7.5 5zM1691,621l-1.5-18l-16-2l-5.5 5l1.5 16l5 2.5zM1828.5,661.5l.5 .5l16-4.5l-4-16l-14 1.5l-2.5 3zM1733.5,640l-2-1.5l-12 1l1.5 19l12.5 .5l2.5-2zM1747.5,637.5l-14 2.5l2.5 17l12 .5l2.5-3l-2-16.5zM1841,641.5l4-5l-3-13.5l-8.5 1.5l-8 5l-.5 .5l2 13zM1739.5,617l-6 0l-2 21.5l2 1.5l14-2.5zM932,279.5l24.5 24.5l8-7.5l5-23.5l-5-9l-29-2.5zM1989,507l19 15l12.5-13.5l-4-7.5l-11-3l-4.5 6zM2125,496l-7.5 14.5l18.5 8l10.5-11.5l-1-14zM2057.5,622l-6.5-18.5l-5.5-3.5l-9 4l-4 6.5l6 16l16.5-.5l2-2zM1964,606.5l-.5 1l2.5 16.5l9 4.5l8.5-5.5l-.5-19.5zM1916,567l11.5 8.5l10.5-5.5l-6-20l-14.5 7l-1 2zM2117,536.5l-2-25l-7-1l-13 8.5l4 18.5zM2004,609.5l5.5-1.5l6-20.5l-.5-1l-21.5-3.5l-6.5 8l-.5 8.5zM1966.5,571.5l11-6l3-13.5l-7.5-5.5l-17 5l0 11zM2096.5,565l4-5.5l-4.5-18.5l-16.5 1l-2.5 17.5l9 8zM1952.5,529l-.5 0l-22.5 7.5l2.5 13l22 0zM2069,583.5l12.5-4.5l4.5-11.5l-9-8l-16 1.5l-5 7.5l1.5 9zM2146.5,491l-2.5-15.5l-21-3l-6 9.5l8 14l20.5-3zM1922,636.5l-9.5 11.5l1.5 3l12.5 7l13-9.5l-6.5-10zM2288,276l-8 5l-5.5 29l28 15l18-13l-4.5-9l-3-9l-14.5 0l-.5-5.5l-3-9.5zM2212,397.5l20 10l9-11l-6-14.5l-17.5-1.5l-5 5.5zM1989,507l-9 9l-.5 8.5l18 13l10.5-6l0-9.5zM1928,617.5l-10.5 8l4.5 11l11 2l6.5-14zM1196,524l17 12.5l13-12l0-1l-17-13z"/>
<path fill="#1b5a9c" d="M1102,413l-27.5-1.5l-2.5 18.5l14 11l17-5.5zM997.5,272.5l-28 .5l-5 23.5l32.5 1.5l1-25.5zM1021,270.5l-23 2l-1 25.5l25.5 3l2.5-2l2-22zM1415,642.5l1 1l17.5-1.5l-.5-19l-17.5 1.5zM1325.5,625l-.5-16l-1.5-1l-17.5 1l1.5 18zM1377.5,605.5l-17.5 3l2.5 17.5l17-2l0-17zM1289,608.5l0-17.5l-15.5-1.5l-2 2l-1 18.5zM1306,609l-.5-18.5l-16-.5l-.5 1l0 17.5l1 1zM1570,644l-.5-12.5l-13-3l-3.5 3l.5 16l2.5 1.5zM1706,660.5l-4.5-9l-15.5 3.5l2 14l1 1l13.5-3zM1703.5,642.5l-8-7.5l-12 7l2 12.5l.5 .5l15.5-3.5zM1635.5,642.5l2 2l14.5-2l3.5-3.5l.5-11l-7.5-5l-16.5 6zM1759.5,631l-2-1.5l1.5-2l-2.5-12l-6-3l-11 4.5l8 20.5l1 .5l11.5-5zM1648.5,623l-1.5-16l-10-1.5l-6.5 22.5l1.5 1zM1707,680.5l14-4l-3-15l-12-1l-3.5 6.5zM1750.5,654.5l-2.5 3l2 15l2.5 1.5l14.5-3l-3.5-15.5zM1767,671l.5 0l14-2l-1.5-17.5l-13 0l-3.5 4zM1810,647.5l.5 17l5 2.5l13-5.5l-4-15.5l-11.5-.5zM1763.5,634.5l3.5 17l13 0l1-1l-1-8.5l-11.5-4zM1797.5,646.5l12.5 1l3-2l-1.5-10l-5 2.5l-10.5 2.5zM659,516l24.5 27.5l5.5-3.5l-9.5-47.5l-16 3.5zM857.5,678.5l-17-10.5l-23.5 7.5l10 43l26.5-4.5zM1938.5,691l-4.5-1.5l-11 8l7 14.5l7 1.5l6.5-10.5zM1882,638l2.5-6.5l-15.5-14.5l-4 3l-3 20l1.5 2.5zM1910,623l-9 6.5l3.5 14.5l8 4l9.5-11.5l-4.5-11zM1994,548l3.5-10.5l-18-13l-7 7l.5 15l7.5 5.5zM1932,550l0-.5l-2.5-13l-4-3.5l-8 0l6.5 12.5l-6.5 11.5zM1950.5,515l1.5 14l.5 0l20 2.5l7-7l.5-8.5l-9.5-4l-2 .5l-17 1zM2166,464.5l1.5-7.5l-11-13.5l-16.5 9.5l6 18.5zM2051,603.5l17.5-5l.5-15l-11.5-6l-11 10l-1 12.5zM1980,516l9-9l-18.5 5zM1916,567l.5-8l-1.5 3l-7.5 10zM1927,608l-16-6.5l-4 3.5l3 18l7.5 2.5l10.5-8z"/>
<path fill="#1d5fa2" d="M1158,494.5l2.5-2l-1-24.5l-23.5-1.5l-2 27zM1433.5,642l-17.5 1.5l.5 17.5l16.5 1.5l3-3l-2-17zM1380,624.5l-.5-.5l-17 2l-.5 1l2 17l16 1l1.5-1.5zM1452.5,640.5l13-1l5-5l-4-14l-15 2l-1 .5zM1306.5,628.5l1-1.5l-1.5-18l-16 .5l-.5 17.5l.5 .5zM1325.5,625l1.5 1.5l16 .5l1-18.5l-2.5-2l-16.5 2.5zM1360,608.5l-1.5-1l-14.5 1l-1 18.5l1 1l18-1l.5-1zM1540,666.5l-1-18l-1-.5l-15.5 3l1 16.5l1 .5zM1558,664l1 .5l17-3l-.5-13.5l-5.5-4l-14 5zM1576,661.5l1.5 2l13-1l3-14l-7.5-4.5l-10.5 4zM1485,637l2-2l0-16l-12-6.5l-2 .5l-6.5 7.5l4 14zM1503.5,615.5l-3.5-2l-13 5.5l0 16l15.5 1.5l3-3zM1627,709l2.5-2.5l-1.5-14.5l-1-1l-14 4l1.5 13zM1676,687l.5 14l13.5 1.5l1.5-2l0-16l-1-.5zM1626.5,677.5l-1 1l1.5 12.5l1 1l15.5-.5l.5-1.5l-1.5-14l-1-1zM1688,669l-16 2.5l-.5 .5l3 13.5l1.5 1.5l14.5-3l-1.5-14zM1624,662.5l2.5 15l15-2.5l-1-14l-1.5-1.5zM1671.5,656.5l-2-1.5l-14.5 3.5l3 14l13.5-.5l.5-.5zM1685.5,654.5l-14 2l.5 15l16-2.5l-2-14zM1593.5,648.5l-3 14l1.5 1.5l15.5-.5l-.5-11l-6.5 3l-6.5-7zM1640.5,661l14-2.5l-2.5-16l-14.5 2l1.5 15zM1683.5,642l-7.5-3.5l-7.5 6.5l1 10l2 1.5l14-2zM1622,649l13.5-6.5l-3.5-13.5l-1.5-1l-.5 1.5l-12 17.5zM1674.5,624.5l-5-2.5l-13.5 6l-.5 11l13 6l7.5-6.5zM1683.5,642l12-7l-1.5-12.5l-3-1.5l-16.5 3.5l1.5 14zM1736.5,676.5l3.5 16.5l14-1.5l-1.5-17.5l-2.5-1.5zM1786.5,687l16.5-1.5l-4.5-18l-1-.5l-13 3.5l1 16zM1804,686.5l12-2l1.5-1.5l-2-16l-5-2.5l-12 3l4.5 18zM1835,679l9.5-1l8.5-11l-3-6.5l-5-3l-16 4.5zM1733.5,659l2 17l1 .5l13.5-4l-2-15l-12-.5zM1718,661.5l3-3l-1.5-19l-2.5-1l-13.5 4l-2 9l4.5 9zM1748.5,638l2 16.5l13 1l3.5-4l-3.5-17l-3.5-1.5zM1842,623l2-4l0-1l-2 1l-8.5 5.5zM1953,673l-2.5-5l-21 6l4.5 15.5l4.5 1.5l12-5.5zM1867.5,607l2.5 8l20.5-6.5l2-3l-6-12l-4 3.5l-15 9.5zM2018.5,587.5l-3 0l-6 20.5l9 6l14-3.5l4-6.5zM2287,358l16-17l-.5-16l-28-15l-10 5.5l-4.5 21l9 15.5zM1842,623l3 13.5l17 3.5l3-20l-21-1zM1950.5,515l1-1.5l-4 .5zM1925.5,533l4 3.5l22.5-7.5l-1.5-14l-3-1l-14.5 1l-4.5 3zM1997,626l2 3.5l18.5 1.5l1-17l-9-6l-5.5 1.5zM1910.5,695.5l2 1.5l10.5 .5l11-8l-4.5-15.5l-2-1l-11 2.5zM1976,641l-1-12.5l-9-4.5l-12 5.5l-.5 11.5l13.5 9zM2074.5,613l2-8l-8-6.5l-17.5 5l6.5 18.5zM1973,546.5l-.5-15l-20-2.5l1.5 20.5l2 2zM2032.5,610.5l-14 3.5l-1 17l2 3l12.5 0l6.5-7.5zM1925.5,533l3-15l-14 10l3 5zM1933,638.5l6.5 10l1.5 .5l12.5-8l.5-11.5l-10.5-6.5l-4 1.5zM1950.5,685.5l-12 5.5l5 12l14 1l2-10.5zM1586,644l7.5 4.5l.5 0l-4.5-5l-3-7.5zM2244,368.5l-9 13.5l6 14.5l16.5 .5l7.5-9.5l-12-18.5z"/>
<path fill="#1f63a8" d="M997,298l-32.5-1.5l-8 7.5l8.5 17l26 5.5l2.5-2zM1213,536.5l-17-12.5l-9.5 1.5l-1 24l24 4.5l3-3zM1399,643l-1 19l18-.5l.5-.5l-.5-17.5l-1-1zM1344,628l-1-1l-16-.5l-2.5 17.5l2.5 1.5l16.5-.5zM1270.5,610l1-18.5l-16.5-2l-1.5 1.5l-.5 14l14 7.5l1 0zM1561.5,681.5l16-.5l0-17.5l-1.5-2l-17 3zM1523.5,667.5l-1-16.5l-2.5-1.5l-14 2l1 16.5zM1520,649.5l0-16l-14.5 0l-3 3l2.5 14l1 1zM1522.5,651l15.5-3l-2-14.5l-15-1.5l-1 1.5l0 16zM1553,631.5l-13.5-2l-3.5 4l2 14.5l1 .5l14.5-1zM1575,627l-5.5 4.5l.5 12.5l5.5 4l10.5-4l.5-8l-3-6.5zM1520,633.5l1-1.5l-1-17l-16.5 .5l2 18zM1536,633.5l3.5-4l-1.5-13l-16.5-3l-1.5 1.5l1 17zM1556,613l-10-4.5l-8 8l1.5 13l13.5 2l3.5-3zM1569.5,631.5l5.5-4.5l-2-15.5l-4.5-3l-12.5 4.5l.5 15.5zM1709,712.5l-2-13l-15.5 1l-1.5 2l2.5 12.5l2 1.5zM1643.5,691.5l2 13.5l13.5-.5l2-2.5l-1.5-13l-.5 0l-15 1zM1691.5,684.5l0 16l15.5-1l2.5-3.5l-5-12zM1659,689l.5 0l15-3.5l-3-13.5l-13.5 .5l-1 1zM1689,670l1.5 14l1 .5l13-.5l2.5-3.5l-4.5-13.5zM1608.5,664.5l-1-1l-15.5 .5l1.5 15.5l15-1zM1608.5,664.5l0 14l17 0l1-1l-2.5-15zM1641.5,675l1 1l14.5-2.5l1-1l-3-14l-.5 0l-14 2.5zM1607.5,663.5l1 1l15.5-2l-2-13.5l-4-2l-1.5 1.5l-9.5 4zM1655,658.5l14.5-3.5l-1-10l-13-6l-3.5 3.5l2.5 16zM1769.5,690l-.5 1l5 16l13.5-.5l1.5-1.5l-2.5-18l-1-.5zM1804,686.5l-1.5 17l.5 0l17-.5l1.5-1.5l-5.5-17zM1816,684.5l5.5 17l13.5-3.5l-2.5-16.5l-15 1.5zM1704.5,684l5 12l13.5-1l-.5-17l-1.5-1.5l-14 4zM1723,695l0 .5l16-1.5l1-1l-3.5-16.5l-1-.5l-13 2zM1754,691.5l1.5 1l13.5-1.5l.5-1l-2-19l-.5 0l-14.5 3zM1784.5,670.5l-3-1.5l-14 2l2 19l16-3.5zM1832.5,681.5l2.5-2.5l-6-17l-.5-.5l-13 5.5l2 16zM1718,661.5l3 15l1.5 1.5l13-2l-2-17l-12.5-.5zM515,215.5l26.5 12l15-26l-11.5-2.5l-34.5-8.5zM644,487.5l-7 26.5l22 2l4.5-20l-18.5-9zM682,545.5l1.5-2l-24.5-27.5l-22-2l-3.5 3l3 24zM900.5,298l0 2l21 21.5l35-17.5l-24.5-24.5zM829.5,743l-11-13l-25 3.5l-2 21l26.5 14.5l9-4.5zM851.5,744l6.5-10l2-13.5l-6.5-6.5l-26.5 4.5l-8.5 11.5l11 13l20 2.5zM850.5,770l-1-24.5l-20-2.5l-2.5 21.5l16.5 8.5zM827,764.5l-9 4.5l-4 24.5l0 .5l24.5-3.5l5-17.5zM2169,491l3-3l1.5-12.5l-7.5-11l-20 7l-2 4l2.5 15.5zM1983.5,623l-8.5 5.5l1 12.5l16.5 6.5l3-2.5l3.5-15.5l-2-3.5zM1867.5,607l-.5 0l-6 3.5l-17 7.5l0 1l21 1l4-3l1-2zM1937,713.5l-7-1.5l-12 8l7 14.5l10.5-4.5l3.5-12.5zM1873.5,659l15-8.5l-6.5-12.5l-18.5 4.5l0 3zM1893,627.5l8 2l9-6.5l-3-18l-14.5 .5l-2 3zM1850,660.5l3 6.5l9 3l10.5-5.5l1-5.5l-10-13.5zM2076.5,605l11.5-3.5l4-8.5l-10.5-14l-12.5 4.5l-.5 15zM2073.5,633.5l10.5-7l-9.5-13.5l-17 9l-.5 2zM1902,794.5l7 2.5l11-5l2-6.5l-2.5-5.5l-11.5-2zM2038.5,626.5l-6.5 7.5l6 12.5l12 .5l4.5-4l.5-17zM1941,649l-1.5-.5l-13 9.5l1 15l2 1l21-6l.5-2zM1906.5,695.5l4 0l6-20l-13.5-7l-2 0l-5 15.5zM1999,629.5l-3.5 15.5l18.5 6l5.5-17l-2-3zM1897,703l1.5 16l5.5 2.5l9-3.5l-.5-21l-2-1.5l-4 0zM1869,617l15.5 14.5l8.5-4l-2.5-19l-20.5 6.5zM1863.5,642.5l-1.5-2.5l-17-3.5l-4 5l4 16l5 3l13.5-15zM1953.5,641l-12.5 8l10 17l16-11l0-5zM1918,720l12-8l-7-14.5l-10.5-.5l.5 21zM2115,511.5l2 25l3.5 2.5l5.5-.5l12-12.5l-2-7.5l-18.5-8z"/>
<path fill="#2065ab" d="M1158,521l2 2l22-1.5l1-26.5l-22.5-2.5l-2.5 2zM1083,463l24.5 4l3-2.5l-1.5-24.5l-6-4.5l-17 5.5l-4 21zM1468,659.5l3.5-5.5l-6-14.5l-13 1l1 18zM1291.5,646.5l17-2l-2-16l-16.5-1l0 17.5zM1308.5,644.5l1.5 1.5l14.5-2l2.5-17.5l-1.5-1.5l-18 2l-1 1.5zM1345,646l17.5-1l1.5-1l-2-17l-18 1l-.5 17zM1289.5,627l.5-17.5l-1-1l-18.5 1.5l-2.5 2.5l9 15.5zM1231.5,578l7 10l15 3l1.5-1.5l1.5-16.5l-18.5-5zM1596,697l-1.5-1l-15.5 3l2 16.5l14-2l3.5-4zM1525.5,700l2.5 2l14.5-1.5l.5-17l-19 1.5l-2 2zM1577.5,681l-16 .5l-2 2.5l2 14.5l1 1l15.5-1zM1579,699l15.5-3l-2.5-15l-14.5 0l.5 17.5zM1504.5,670l-15-1.5l-2 2l1.5 17.5l1 1l16-1.5l1.5-1zM1522,687l2-2l.5-17l-1-.5l-16.5 .5l-2.5 2l3 16.5zM1543,683.5l16.5 .5l2-2.5l-2.5-17l-1-.5l-16.5 3.5zM1577.5,663.5l0 17.5l14.5 0l1.5-1.5l-1.5-15.5l-1.5-1.5zM1648.5,734.5l-1.5-14l-2-1.5l-14 4l3 14.5zM1629,721.5l2 1.5l14-4l-1-12l-14.5-.5l-2.5 2.5zM1659,704.5l-13.5 .5l-1.5 2l1 12l2 1.5l14.5-2zM1675,717l0-14.5l-14-.5l-2 2.5l2.5 14l1 1zM1677.5,719l15-4l-2.5-12.5l-13.5-1.5l-1.5 1.5l0 14.5zM1614.5,708l-1.5-13l-3.5-2.5l-13.5 4.5l2.5 12.5l13 1.5zM1675,702.5l1.5-1.5l-.5-14l-1.5-1.5l-15 3.5l1.5 13zM1608.5,678.5l-15 1l-1.5 1.5l2.5 15l1.5 1l13.5-4.5zM1644,690l15-1l-2-15.5l-14.5 2.5zM1637.5,644.5l-2-2l-13.5 6.5l2 13.5l15-3zM1740.5,712l-1.5-18l-16 1.5l2 18l.5 .5zM1741,712.5l14.5-1.5l0-18.5l-1.5-1l-14 1.5l-1 1l1.5 18zM1789,705l13.5-1.5l1.5-17l-1-1l-16.5 1.5zM1851.5,695.5l1-5.5l-8-12l-9.5 1l-2.5 2.5l2.5 16.5l2 1zM634.5,571l6 3.5l28.5-5l11-10l2-14l-45.5-4.5l-3 3zM791.5,754.5l-11.5 16.5l5 14.5l29 8l4-24.5zM814,793.5l-29-8l-10.5 24l11.5 16l13 5l15.5-11.5l-.5-25zM778.5,866.5l23 8l8.5-24.5l-10-15.5zM2208,422l22.5 4.5l3-3l-1.5-16l-20-10l-7.5 7.5zM2265,387.5l9.5-1l5-8l1-10.5l7.5-3l-1-7l-18-6l-16 17zM1923.5,737l1.5-2.5l-7-14.5l-5-2l-9 3.5l1.5 17.5l7.5 2zM1919.5,761l12.5-10l-8.5-14l-10.5 4l1 18.5zM1914.5,809.5l-5.5-12.5l-7-2.5l-2 .5l-3 15.5l3.5 4.5l10.5 1zM1896,684l5-15.5l-5.5-3l-15 6l0 15.5l.5 0zM1943.5,703l-6.5 10.5l2 4l17.5 3.5l2.5-15l-1.5-2zM1922,785.5l12.5 .5l3.5-7.5l-5-8l-8-.5l-5.5 10zM2156.5,438l0 5.5l11 13.5l14.5-7.5l2.5-19l-1-1l-14-2zM1925,770l8 .5l7.5-9l-5.5-10l-3-.5l-12.5 10zM1903,668.5l13.5 7l11-2.5l-1-15l-12.5-7zM1907.5,762l-3 10.5l3.5 5.5l11.5 2l5.5-10l-5.5-9l-5.5-1.5zM2100.5,559.5l14.5-1.5l5.5-19l-3.5-2.5l-18 1l-3 3.5zM1889.5,651l15-7l-3.5-14.5l-8-2l-8.5 4l-2.5 6.5l6.5 12.5zM1867.5,702l7-13.5l-9.5-5l-12.5 6.5l-1 5.5l5 6.5z"/>
<path fill="#2369ad" d="M1047.5,381.5l-3.5 3l0 23.5l29 1.5l2.5-25zM1078.5,359l-3.5-3.5l-26.5 1l-1 25l28 3l2.5-2zM1022.5,301l-25.5-3l-3.5 26.5l27 2.5l2-1.5zM1229.5,552.5l-17-1.5l-3 3l-.5 11l16 14.5l6.5-1.5l6.5-10l-.5-6.5zM1377,663l2.5 19l1 .5l15-4l1-15l-15-4.5zM1395.5,678.5l4 3l16-1l.5-19l-18 .5l-1.5 1.5zM1415.5,680.5l1.5 1.5l18-3l-2-16.5l-16.5-1.5l-.5 .5zM1452,678l2 2l14.5-2l4.5-7.5l-5-11l-14.5-1l-1.5 1.5zM1362.5,645l.5 18l14 0l4.5-4l-1.5-14l-16-1zM1381.5,643.5l-1.5 1.5l1.5 14l15 4.5l1.5-1.5l1-19l-1-1zM1290,645l0-17.5l-.5-.5l-12.5 1l-7.5 12.5l0 3l2.5 2zM1595,713.5l-14 2l0 .5l2 14.5l13.5 2.5l3.5-6zM1581,715.5l-2-16.5l-1-.5l-15.5 1l2 18l16.5-1.5zM1543,683.5l-1.5-16l-1.5-1l-15.5 1.5l-.5 17zM1489,654l-4.5-4l-13 4l-3.5 5.5l5 11l14.5 0l2-2zM1507,668l-1-16.5l-1-1l-16 3.5l.5 14.5l15 1.5zM1553.5,647.5l-14.5 1l1 18l1.5 1l16.5-3.5l-2-15zM1484.5,650l.5-13l-14.5-2.5l-5 5l6 14.5zM1502.5,636.5l-15.5-1.5l-2 2l-.5 13l4.5 4l16-3.5zM1661.5,718.5l-14.5 2l1.5 14l1.5 1.5l12.5-2.5l0-14zM1662.5,733.5l2.5 2l14.5-3.5l-2-13l-2.5-2l-12.5 2.5zM1712.5,715.5l-3.5-3l-14.5 4l1.5 14l.5 .5l14-2.5zM1598.5,709.5l-3.5 4l5 13.5l13.5-3l-2-13zM1613.5,724l2 2l13.5-4.5l-2-12.5l-12.5-1l-3 3zM1628,692l1.5 14.5l14.5 .5l1.5-2l-2-13.5zM1608.5,678.5l1 14l3.5 2.5l14-4l-1.5-12.5zM1725.5,714l-.5-.5l-12.5 2l-2 13l5.5 6l10-1.5l1-1zM1758.5,730.5l1.5-2l-4-17l-.5-.5l-14.5 1.5l2 18.5zM1772.5,709l1.5-2l-5-16l-13.5 1.5l0 18.5l.5 .5zM699.5,463l34 57.5l32.5-25.5l3-20.5l-37.5-28.5l-32 15.5zM427,216.5l5.5 10.5l25 4l20-48.5l-27.5-6.5l-7.5-2zM457.5,231l10.5 8.5l21.5-3l-4.5-52l-7.5-2zM515,215.5l-4.5-25l-25.5-6l4.5 52l6 2.5zM688.5,453l-8.5-3l-26 3l-9 34l18.5 9l16-3.5l20-29.5l0-1.5zM817,675.5l-23-4l-12 43l5 12.5l6.5 6.5l25-3.5l8.5-11.5zM773,867.5l5.5-1l21.5-32l-1-4l-13-5l-15 13zM1939,717.5l-3.5 12.5l9.5 6.5l14-10l0-.5l-2.5-5zM1951,666l-.5 2l2.5 5l18 5.5l3.5-3l2.5-10.5l-10-10zM1862,670l-9-3l-8.5 11l8 12l12.5-6.5zM2055,626l-.5 17l18 4.5l1-14l-16.5-9.5zM2014,651l1 2l17.5 1.5l5.5-8l-6-12.5l-12.5 0zM2243,424l5-9l11-5.5l2-1.5l-3.5-11l-16.5-.5l-9 11l1.5 16zM2199,468l.5-6l-17.5-12.5l-14.5 7.5l-1.5 7.5l7.5 11l24.5-6.5zM1935,751.5l10.5-8l-.5-7l-9.5-6.5l-10.5 4.5l-1.5 2.5l8.5 14zM1887,701.5l10 1.5l9.5-7.5l-10.5-11.5l-15 3zM1904.5,644l-15 7l6 14.5l5.5 3l2 0l11-17.5l-1.5-3zM1967,655l10 10l13-4l2.5-13.5l-16.5-6.5l-9 9z"/>
<path fill="#246aae" d="M1073,409.5l-29-1.5l-1 1.5l-1 21.5l16 7l14-8l2.5-18.5zM1047.5,328.5l-25-3l-2 1.5l-2 24l4.5 4.5l23.5-1zM1136,466.5l-1.5-2l-24 0l-3 2.5l-.5 23.5l24 5.5l3-2.5zM1436,659.5l16 .5l1.5-1.5l-1-18l-18.5 2zM1528.5,721l.5 14.5l17 3l1.5-1.5l-1-18.5l-17.5 2zM1511,715l5 4.5l12.5 1.5l.5-.5l-1-18.5l-2.5-2l-14.5 7.5zM1562.5,699.5l-1-1l-16 4.5l1.5 15l16.5 .5l1-1zM1545.5,703l16-4.5l-2-14.5l-16.5-.5l-.5 17zM1696,730.5l-15 2.5l1.5 14l14 0l2.5-2.5l-2.5-13.5zM1710.5,728.5l-14 2.5l2.5 13.5l12.5 1.5l4.5-11.5zM1694.5,716.5l-2-1.5l-15 4l2 13l1.5 1l15-2.5zM1774,726.5l-1.5-17.5l-16.5 2.5l4 17zM1774.5,727l14-2l2-2.5l-3-16l-13.5 .5l-1.5 2l1.5 17.5zM1802.5,703.5l-13.5 1.5l-1.5 1.5l3 16l16.5-1l-4-18zM1725,713.5l-2-18l0-.5l-13.5 1l-2.5 3.5l2 13l3.5 3zM661.5,605l7.5-35.5l-28.5 5l3 27.5l2 1.5zM541.5,227.5l2 24.5l37 0l20-40.5l-44-10zM2106,590l2-8l-11.5-17l-10.5 2.5l-4.5 11.5l10.5 14zM2146.5,507l18 11l6-7l-1.5-20l-22.5 0l-1 2zM2052,666.5l2-3l-4-16.5l-12-.5l-5.5 8l4 13zM1880.5,671.5l-8-7l-10.5 5.5l3 13.5l9.5 5l6-1.5zM2088,601.5l9.5 13.5l13-4l-1-17.5l-3.5-3.5l-14 3zM1872.5,664.5l8 7l15-6l-6-14.5l-1-.5l-15 8.5zM1971,678.5l-18-5.5l-2.5 12.5l9 8l9.5-5z"/>
<path fill="#276eb0" d="M1212.5,593.5l-.5 6l14.5 8l6.5-2l5.5-17.5l-7-10l-6.5 1.5zM1433,662.5l2 16.5l1.5 1l15.5-2l0-18l-16-.5zM1273.5,662l16.5 3l1-.5l.5-18l-1.5-1.5l-18 .5zM1327,645.5l1.5 18.5l12.5 .5l3.5-3.5l.5-15l-1.5-1zM1243.5,610l9.5-5l.5-14l-15-3l-5.5 17.5zM1521.5,743l0 .5l12.5 11.5l11-3.5l1-13l-17-3zM1599.5,741.5l-3-8.5l-13.5-2.5l-5 5l3.5 16l1.5 .5l14.5-4zM1516,719.5l-5.5 16l11 7.5l7.5-7.5l-.5-14.5zM1562,737l3-2.5l-1.5-16l-16.5-.5l-.5 .5l1 18.5zM1564.5,717.5l-1 1l1.5 16l13 1l5-5l-2-14.5zM1473.5,688l-4.5 10l4.5 8l2 2l13-4l1.5-15l-1-1zM1490,689l-1.5 15l3.5 2l14-3l0-15.5zM1506,687.5l0 15.5l5 4.5l14.5-7.5l-3.5-13l-14.5-.5zM1650.5,767.5l14.5-3l-1.5-13l-12.5-2l-3.5 3l2.5 14.5zM1666.5,748l-3 3.5l1.5 13l.5 .5l16.5-2.5l-1.5-13.5zM1647.5,752.5l3.5-3l-1-13.5l-1.5-1.5l-14.5 3l-.5 1l2 12.5zM1662.5,733.5l-12.5 2.5l1 13.5l12.5 2l3-3.5l-1.5-12.5zM1666.5,748l14 1l2-2l-1.5-14l-1.5-1l-14.5 3.5zM1600,727l-3.5 6l3 8.5l17.5-3l-1.5-12.5l-2-2zM1615.5,726l1.5 12.5l1 1l15.5-1l.5-1l-3-14.5l-2-1.5zM1726,733l3.5 18l1.5 1l12-4.5l-1-16l-15 .5zM1807,721.5l-16.5 1l-2 2.5l5 15.5l2 1l11.5-1.5zM1742,731.5l1-.5l-2-18.5l-.5-.5l-15 2l1.5 18zM1822.5,718.5l-2.5-15.5l-17 .5l4 18l15-2.5zM1839.5,714.5l-2.5-15.5l-2-1l-13.5 3.5l-1.5 1.5l2.5 15.5l13.5-.5zM1856.5,702l-5-6.5l-14.5 3.5l2.5 15.5l13 .5zM675,618l30.5 2.5l7.5-12l-33-49l-11 10l-7.5 35.5zM794,671.5l23 4l23.5-7.5l8.5-54l-57.5-11.5l-6.5 5l-5.5 48zM637,514l7-26.5l-32.5-3.5l-.5 26l22.5 7zM838.5,790.5l-24.5 3.5l.5 25l25 5.5l11.5-19zM2138,526l-12 12.5l14.5 14l10.5-8l-2-13zM2076.5,605l-2 8l9.5 13.5l6.5 1l2.5-1.5l4.5-11l-9.5-13.5zM1920,792l-11 5l5.5 12.5l12.5-4l1.5-2.5zM2199.5,462l11-11l-12-20.5l-14 0l-2.5 19zM1940.5,761.5l8.5 2l5-2.5l4.5-8.5l-.5-1l-12.5-8l-10.5 8zM2136,518.5l2 7.5l11 5.5l15.5-11l0-2.5l-18-11zM1277,628l-9-15.5l-1 0l-11.5 15.5l14 12.5z"/>
<path fill="#2a71b2" d="M1046.5,354.5l-23.5 1l-3.5 25l24.5 4l3.5-3l1-25zM993.5,324.5l-2.5 2l0 24l2.5 3l25-2.5l2-24zM1086,441l-14-11l-14 8l1.5 23l1 .5l21.5 .5zM1245,626.5l4.5 2l6-.5l11.5-15.5l-14-7.5l-9.5 5zM1436.5,680l-1.5-1l-18 3l1.5 16.5l18.5-1zM1452,699l2.5-2.5l-.5-16.5l-2-2l-15.5 2l.5 17.5l.5 .5zM1454.5,696.5l14.5 1.5l4.5-10l-5-10l-14.5 2zM1344.5,661l16.5 3.5l2-1.5l-.5-18l-17.5 1zM1578,735.5l-13-1l-3 2.5l2.5 16.5l.5 .5l16.5-2.5zM1492,706l3.5 14l3 1.5l12.5-6.5l0-7.5l-5-4.5zM1529,720.5l17.5-2l.5-.5l-1.5-15l-3-2.5l-14.5 1.5zM1473,670.5l-4.5 7.5l5 10l15.5 0l-1.5-17.5zM1682.5,747l-2 2l1.5 13.5l0 .5l15.5-1l-1-15zM1618,753.5l0-14l-1-1l-17.5 3l-2 6.5l5.5 7l13 0zM1716,734.5l-4.5 11.5l4.5 7.5l13.5-2.5l-3.5-18zM1742,731.5l1 16l5 2.5l13.5-3.5l-3-16l-15.5 .5zM879,676.5l14-24.5l-27-38.5l-11-2.5l-6 3l-8.5 54l17 10.5zM495.5,239l-6-2.5l-21.5 3l-6.5 33.5l22.5 8l10-8l4-31zM596.5,460.5l15 23.5l32.5 3.5l1-.5l9-34l-15-7l-38.5 9.5zM611.5,545l-5 22.5l13 9.5l15-6l-1-27zM828.5,874l2.5-18.5l-21-5.5l-8.5 24.5l3.5 6zM2233.5,423.5l-3 3l-1 6l8 13.5l1.5-4l2-14.5l2-3.5zM1876,713.5l1-.5l10-11.5l-6-14.5l-.5 0l-6 1.5l-7 13.5zM1877,713l16 8l5.5-2l-1.5-16l-10-1.5zM2303,341l-16 17l1 7l7-2.5l11-3.5l11-5.5l2.5-2.5zM2208,422l-9.5 8.5l12 20.5l1 0l18-18.5l1-6zM1959.5,693.5l-2 10.5l1.5 2l19.5 1.5l.5-9.5l-10-9.5zM1992.5,647.5l-2.5 13.5l8.5 8l14-7l2.5-9l-1-2l-18.5-6zM2122,564l17.5-7l1-4.5l-14.5-14l-5.5 .5l-5.5 19zM2068,661l5-13l-.5-.5l-18-4.5l-4.5 4l4 16.5zM1209,565l-12 13l15.5 15.5l12.5-14zM1913,741l-7.5-2l-6 3l-1.5 14l9.5 6l6.5-2.5zM1889.5,775.5l-1 1.5l9 17l2.5 1l2-.5l6-16.5l-3.5-5.5z"/>
<path fill="#2b73b3" d="M1156.5,548l1.5 2l25.5 1l2-1.5l1-24l-4.5-4l-22 1.5zM1131,496l.5 24l26.5 1l0-26.5l-24-1zM1269.5,640.5l-14-12.5l-6 .5l.5 21l2.5 .5l17-6.5zM1379.5,701.5l2-2.5l-1-16.5l-1-.5l-16.5 .5l-1 17.5zM1380.5,682.5l1 16.5l16.5 2l1-1l.5-18.5l-4-3zM1399.5,681.5l-.5 18.5l18.5 0l1-1.5l-1.5-16.5l-1.5-1.5zM1344.5,682l16-2l.5-15.5l-16.5-3.5l-3.5 3.5zM1361,664.5l-.5 15.5l2.5 2.5l16.5-.5l-2.5-19l-14 0zM1291,664.5l15.5 .5l3-2l.5-17l-1.5-1.5l-17 2zM1324.5,644l-14.5 2l-.5 17l15.5 4l3.5-3l-1.5-18.5zM1237,630l3.5 22.5l9.5-3l-.5-21l-4.5-2zM1545,751.5l3.5 3l16-1l-2.5-16.5l-14.5 0l-1.5 1.5zM1475.5,719l7 6l13-5l-3.5-14l-3.5-2l-13 4zM1701.5,776.5l14-2.5l2.5-3.5l-4-11.5l-16 3.5l2 12.5zM1634,768l16-1l-2.5-14.5l-12-1.5l-3 4l1 12.5zM1696.5,747l1 15l.5 .5l16-3.5l2-5.5l-4.5-7.5l-12.5-1.5zM1635.5,751l-2-12.5l-15.5 1l0 14l14.5 1.5zM636,632.5l16 10.5l.5 0l22.5-25l-13.5-13l-16-1.5l-11 25.5zM396.5,210l30.5 6.5l15.5-42.5l-57.5-14.5l-5 10l-2.5 12zM541.5,227.5l-26.5-12l-19.5 23.5l2.5 3l40.5 14l1.5-.5l3.5-3.5zM643.5,602l-3-27.5l-6-3.5l-15 6l-4.5 23zM956.5,304l-35 17.5l.5 10.5l30 17l2.5-.5l10.5-27.5zM739,749.5l20 20l21 1.5l11.5-16.5l2-21l-6.5-6.5zM2170.5,511l18 1l8.5-11l0-2.5l-1.5-2.5l-23.5-8l-3 3zM2265,387.5l-7.5 9.5l3.5 11l9-7.5l7.5-10.5l-3-3.5zM2034.5,670l2-2.5l-4-13l-17.5-1.5l-2.5 9l8.5 11zM1958,751.5l6.5-15l-5.5-10l-14 10l.5 7zM2198,469l-24.5 6.5l-1.5 12.5l23.5 8zM1884,797.5l-3.5 10.5l2 3l14.5-.5l3-15.5l-2.5-1zM2096.5,565l11.5 17l14.5-8.5l-.5-9.5l-7-6l-14.5 1.5zM1938,778.5l9.5-1l1.5-14l-8.5-2l-7.5 9z"/>
<path fill="#2e77b5" d="M1013,407l30 2.5l1-1.5l0-23.5l-24.5-4l-2 1zM1017.5,381.5l2-1l3.5-25l-4.5-4.5l-25 2.5l-.5 21zM991,326.5l-26-5.5l-10.5 27.5l6 4l30.5-2zM1185.5,549.5l-2 1.5l-1 25.5l2.5 2l12-.5l12-13l.5-11zM1224.5,628.5l.5 .5l12 1l8-3.5l-1.5-16.5l-10.5-4.5l-6.5 2zM1462,738.5l1.5-.5l8-16.5l-13-2l-5 7.5l-.5 5l.5 3zM1398.5,717.5l-.5-16.5l-16.5-2l-2 2.5l0 16.5l17.5 .5zM1437,697.5l-18.5 1l-1 1.5l1.5 16l14 2l3-2.5l1.5-17.5zM1457.5,712.5l16-6.5l-4.5-8l-14.5-1.5l-2.5 2.5l1 9.5zM1324.5,682.5l1.5 18.5l15.5 .5l2-1.5l0-16.5l-18.5-1.5zM1269.5,643.5l-17 6.5l7 16l9 1l5-5l-1.5-16.5zM1498,739.5l4-4.5l-3.5-13.5l-3-1.5l-13 5l.5 12.5zM1502,735l8.5 .5l5.5-16l-5-4.5l-12.5 6.5zM1458.5,719.5l13 2l4-2.5l0-11l-2-2l-16 6.5zM1670,780l13.5-2l-1.5-15l0-.5l-16.5 2.5l2.5 13.5zM1698,762.5l-.5-.5l-15.5 1l1.5 15l1 1l15.5-4zM1616,755l-13 0l-3 12.5l2.5 3l15.5-1.5zM1734.5,768.5l-3.5-16.5l-1.5-1l-13.5 2.5l-2 5.5l4 11.5l13.5 .5zM1758.5,730.5l3 16l.5 .5l14.5-2l-2-18l-.5-.5l-14 2zM1793.5,740.5l-5-15.5l-14 2l2 18l.5 0zM1822,719l-15 2.5l0 18.5l2.5 1.5l14.5-4zM689,540l-5.5 3.5l-1.5 2l-2 14l33 49l28-13.5l-8.5-63l-1.5-2.5zM380.5,242l3.5 7.5l39-2l9.5-20.5l-5.5-10.5l-30.5-6.5zM468,239.5l-10.5-8.5l-25-4l-9.5 20.5l3.5 15l30.5 13l4.5-2.5zM596.5,398.5l-38-3.5l-10 8.5l-2 28.5l48.5 28.5l1.5 0l4-5l-3.5-57zM611,510l.5-26l-15-23.5l-1.5 0l-23 23.5l11 36l8.5 5.5zM636.5,541l-3-24l-22.5-7l-19.5 15.5l.5 2l19.5 17.5l22-1zM629.5,301l3-2l2-3l1-21l-49-12l-6.5 27l5.5 11zM600.5,455.5l38.5-9.5l-2-36l-24.5-10.5l-15.5-1zM862,772.5l7-16.5l-17.5-12l-2 1.5l1 24.5zM746.5,794.5l16 14.5l12 .5l10.5-24l-5-14.5l-21-1.5zM810,850l21 5.5l11.5-7l1-15.5l-4-8.5l-25-5.5l-15.5 11.5l1 4zM1956.5,721l2.5 5l20-7l1.5-8.5l-2-3l-19.5-1.5zM2330.5,312l-4.5 2.5l-5.5-2.5l-18 13l.5 16l16.5 10l6.5-6.5l10.5-5.5l5.5-11l-3.5-9l-6.5-6zM1871.5,720l4.5-6.5l-8.5-11.5l-11 0l-4 13l2 2.5zM1880,845.5l3-1l6.5-16.5l-9-7l-10 5l5.5 17.5zM2274.5,386.5l3 3.5l1.5-2l.5-9.5zM1992,685l6-6l.5-10l-8.5-8l-13 4l-2.5 10.5zM1885.5,737.5l14 4.5l6-3l-1.5-17.5l-5.5-2.5l-5.5 2l-7.5 16zM2229.5,432.5l-18 18.5l22 14l0-8.5l4-10.5zM1897,810.5l-14.5 .5l-2 10l9 7l5-.5l6-12.5zM1940,796.5l-5.5-10.5l-12.5-.5l-2 6.5l8.5 11l11.5-6z"/>
<path fill="#2f79b5" d="M1081,493l23.5 0l2.5-2.5l.5-23.5l-24.5-4zM1240,653l.5-.5l-3.5-22.5l-12-1l-2 20.5zM1203,606.5l.5 20.5l21 1.5l2-21l-14.5-8zM1399,700l-1 1l.5 16.5l19 0l1.5-1.5l-1.5-16zM1452,699l-14.5-1l-1.5 17.5l7 .5l10-7.5zM1325,702l1-1l-1.5-18.5l-17.5 1.5l1.5 18zM1306.5,665l-15.5-.5l-1 .5l-2 17l2.5 2.5l16-.5zM1307,684l17.5-1.5l.5-.5l0-15l-15.5-4l-3 2l0 19zM1463.5,738l17.5 1l2-1.5l-.5-12.5l-7-6l-4 2.5zM1602,782.5l.5-12l-2.5-3l-15.5 .5l1 16l2 2zM1534,755l-4 14l2.5 2.5l16-.5l0-16.5l-3.5-3zM1548.5,771l1 .5l16-3l-.5-14.5l-.5-.5l-16 1zM1581.5,751.5l-16.5 2.5l.5 14.5l2 1.5l16.5-2l-1-16zM1583,752l1 16l.5 0l15.5-.5l3-12.5l-5.5-7zM1634,768l-.5-.5l-14 3l0 13.5l1 1l15.5-2zM1639,785l12-5l-.5-12.5l-.5-.5l-16 1l2 15zM1632.5,755l-14.5-1.5l-2 1.5l2 14l1.5 1.5l14-3zM1743,747.5l-12 4.5l3.5 16.5l12.5-.5l1.5-1.5l-.5-16.5zM1748.5,766.5l14-.5l2-2l-2.5-17l-.5-.5l-13.5 3.5zM365.5,190l-16.5 29.5l2 12.5l29.5 10l16-32l-19-28.5zM849.5,312.5l21 6.5l30-19l0-2l-17-41.5l-34-5zM613.5,334l16-33l-44 0l-12.5 34l16 6zM2160,547.5l-9-3l-10.5 8l-1 4.5l8.5 13.5l17.5-7zM2073,648l16 2l1-1l.5-21.5l-6.5-1l-10.5 7l-1 14zM2164.5,520.5l9.5 13l17.5-5.5l-3-16l-18-1l-6 7zM2164.5,520.5l-15.5 11l2 13l9 3l13-9.5l1-4.5zM1911,816l-10.5-1l-6 12.5l8 7l6-1.5l4.5-13.5zM1889.5,828l-6.5 16.5l8.5 3.5l8-3l3-10.5l-8-7zM1940,796.5l14.5-13l-7-6l-9.5 1l-3.5 7.5zM2109.5,593.5l18.5 .5l2-14l-7.5-6.5l-14.5 8.5l-2 8z"/>
<path fill="#327cb7" d="M1107,490.5l-2.5 2.5l-.5 27.5l1.5 2l24.5-1.5l1.5-1l-.5-24zM1058,438l-16-7l-7.5 5l-3 26l28-1zM1414.5,739l1-.5l2-21l-19 0l-1.5 1l1.5 19.5zM1433,718l-14-2l-1.5 1.5l-2 21l14 1.5l5-14zM1453.5,727l-10.5-11l-7-.5l-3 2.5l1.5 8l18.5 6zM1343.5,683.5l0 16.5l17 1l1.5-1l1-17.5l-2.5-2.5l-16 2zM1260,684l11-.5l-2.5-16.5l-9-1l-8 5l-.5 4zM1271,683.5l17-1.5l2-17l-16.5-3l-5 5zM1328.5,664l-3.5 3l0 15l18.5 1.5l1-1.5l-3.5-17.5zM1481,739l-.5 16l1.5 1.5l16-2l1-.5l-1-14.5l-15-2zM1510.5,735.5l-8.5-.5l-4 4.5l1 14.5l5 1.5l10.5-2l7-10l0-.5zM1701.5,791l1-1l-1-13.5l-1.5-1.5l-15.5 4l2.5 14zM1776.5,745l-14.5 2l2.5 17l14.5-.5l2.5-2.5l-4.5-16zM1781.5,761l12.5-.5l1.5-19l-2-1l-16.5 4.5zM1840,736l1-1.5l-5-16.5l-13.5 .5l-.5 .5l2 18.5l1 .5zM1852.5,715l-13-.5l-3.5 3.5l5 16.5l11-3l2.5-14zM634.5,629l11-25.5l-2-1.5l-28.5-2l-12.5 11l0 4zM550.5,485.5l21.5-1.5l23-23.5l-48.5-28.5l-17.5 19.5l.5 18zM615,600l4.5-23l-13-9.5l-21.5 5l-5.5 18l23 20.5zM744,667l-12.5 29l3.5 11l47 7.5l12-43l-14.5-16zM774.5,809.5l-12-.5l-14.5 17l2 13.5l21-1l15-13zM2211.5,451l-1 0l-11 11l-.5 6l23 13.5l11.5-16l0-.5zM1877.5,864l2.5-18.5l-4-2l-14 4l-1.5 8.5l12 11.5zM2139.5,557l-17.5 7l.5 9.5l7.5 6.5l16.5-4l1.5-5.5zM1876,781.5l0 6.5l8 9.5l13.5-3.5l-9-17zM1880,745.5l3.5 12.5l2.5 1.5l12-3.5l1.5-14l-14-4.5zM2060.5,682.5l16.5-7.5l.5-1.5l-9.5-12.5l-14 2.5l-2 3l4 14zM2222,481.5l.5 7.5l6 6.5l13-1.5l-2-3.5l-2.5-10.5l5.5-5.5l-9-5.5l0-3.5zM1979,698l13-11l0-2l-17.5-9.5l-3.5 3l-2 10z"/>
<path fill="#3480b9" d="M1011.5,429.5l23 6.5l7.5-5l1-21.5l-30-2.5zM1131.5,520l-1.5 1l2.5 27l24 0l3.5-25l-2-2zM1398.5,738l-1.5-19.5l-17.5-.5l-2 1.5l3 19.5l15 1zM1325,720.5l17 0l1-1.5l-1.5-17.5l-15.5-.5l-1 1l0 18zM1360.5,701l1 18l0 .5l16 0l2-1.5l0-16.5l-17.5-1.5zM1307.5,702.5l1-.5l-1.5-18l-.5 0l-16 .5l-1 17l1.5 1zM1521.5,769l-7-15.5l-10.5 2l3.5 17l8.5 .5zM1447.5,758l1 .5l8-1.5l6-17l-.5-1.5l-8.5-3.5l-7.5 7zM1472,757l8.5-2l.5-16l-17.5-1l-1.5 .5l.5 1.5zM1443,716l10.5 11l5-7.5l-1-7l-4.5-4zM1620.5,785l2 14.5l.5 .5l15.5-2.5l1.5-2l-1-10.5l-3-2zM1640,795.5l14.5 3l2.5-2.5l-2-13l-4-3l-12 5zM1702.5,790l15.5 0l.5-.5l-3-15.5l-14 2.5zM1619.5,770.5l-1.5-1.5l-15.5 1.5l-.5 12l3.5 3l14-1.5zM1665.5,765l-.5-.5l-14.5 3l.5 12.5l4 3l13-4.5zM1731.5,771l-13.5-.5l-2.5 3.5l3 15.5l14.5-2.5l0-.5zM596.5,628.5l24 19l15.5-15l-1.5-3.5l-32-14zM620.5,647.5l.5 9.5l13 11.5l18-25.5l-16-10.5zM494,273l24.5 4.5l20-21.5l-40.5-14zM580,290l-28.5-.5l-9 15.5l22.5 33l8-3l12.5-34zM589,341l-16-6l-8 3l-8.5 9.5l2 47.5l38 3.5l6-26.5zM634,356l-20.5-22l-24.5 7l13.5 31zM869,756l10-6l.5-2l-21.5-14l-6.5 10zM857,804.5l13.5-20l-1-5l-7.5-7l-11.5-2.5l-7 3l-5 17.5l12.5 15zM771,838.5l-21 1l-4 7l-1 9.5l28 11.5zM1923,823l9-6l-5-11.5l-12.5 4l-3.5 6.5l2 3.5zM1823,936.5l8 3l12-6l-5-15l-5.5-2l-9.5 5zM1895,866.5l-3.5-18.5l-8.5-3.5l-3 1l-2.5 18.5zM2146.5,576l-16.5 4l-2 14l3 4l14 0l6-13.5zM2079,673l11.5-16l-1.5-7l-16-2l-5 13l9.5 12.5zM2052,666.5l-15.5 1l-2 2.5l5 19.5l2.5 0l14-9zM1872,726.5l13.5 10.5l7.5-16l-16-8l-1 .5l-4.5 6.5zM1852,731.5l9.5 6l10.5-11l-.5-6.5l-17-2.5zM2197.5,531.5l16.5-11l0-3l-17-16.5l-8.5 11l3 16zM2197,498.5l25.5-9.5l-.5-7.5l-23-13.5l-1 1l-2.5 27zM1860.5,856l-10.5 7l4.5 14.5l17-7l1-3z"/>
<path fill="#3681ba" d="M1017.5,381.5l-24.5-7l-7 6l-1 21.5l.5 .5l27.5 4.5zM993.5,353.5l-2.5-3l-30.5 2l6.5 22.5l19 5.5l7-6zM1171.5,577.5l11-1l1-25.5l-25.5-1l-.5 15.5zM1259.5,666l-7-16l-2.5-.5l-9.5 3l-.5 .5l0 10.5l11.5 7.5zM1223,649.5l2-20.5l-.5-.5l-21-1.5l-.5 1l-.5 21l18 2.5zM1343,719l-1 1.5l1 21.5l1 0l15.5-1.5l2-21l0-.5zM1307.5,719.5l17.5 .5l0-18l-16.5 0l-1 .5zM1271,702l18.5-.5l1-17l-2.5-2.5l-17 1.5l-1 17.5zM1446,742l7.5-7l-.5-3l-18.5-6l-5 14l.5 1zM1604.5,802l1-16.5l-3.5-3l-14.5 3.5l.5 15.5zM1567.5,770l-2-1.5l-16 3l2 16l16.5-1l.5-.5zM1584.5,768l-.5 0l-16.5 2l1 16l17-2zM1672.5,810l15.5-2l.5-1l-1.5-14l-16.5 2.5zM1655,783l2 13l13.5-.5l-.5-15.5l-2-1.5zM1670.5,795.5l16.5-2.5l-2.5-14l-1-1l-13.5 2zM1807,740l-11.5 1.5l-1.5 19l17.5-2l1-1.5l-3-15.5zM708,637.5l36 29.5l35.5-11.5l5.5-48l-44-12.5l-28 13.5l-7.5 12zM652.5,643l29 28.5l1.5 .5l25-34.5l-2.5-17l-30.5-2.5zM379.5,282.5l15.5 5l17.5-5l14-20l-3.5-15l-39 2l-5 32zM484,281l3.5 12l31.5 10l-.5-25.5l-24.5-4.5zM577.5,557l7.5 15.5l21.5-5l5-22.5l-19.5-17.5zM921.5,321.5l-21-21.5l-30 19l12.5 38.5l24-6.5l15-19zM782,714.5l-47-7.5l-11 37.5l15 5l48-22.5zM2012.5,662l-14 7l-.5 10l16.5 5.5l3-2l3.5-9.5zM2128,608l3-10l-3-4l-18.5-.5l1 17.5l2.5 1.5zM1862,847.5l14-4l-5.5-17.5l-3-1l-10 7.5l1.5 12.5zM1845,884l-4.5 14l10.5 9l9-5l1-10l-8.5-10zM2108,633.5l9-8l-4-13l-2.5-1.5l-13 4l-4.5 11zM1872,726.5l-10.5 11l1.5 7.5l17 .5l5.5-8l0-.5zM2173,538l11.5 15l4.5 1l11-12l-2.5-10.5l-6-3.5l-17.5 5.5zM1978.5,739l-14-2.5l-6.5 15l.5 1l12.5 3.5l5-3.5zM2227.5,507l1-11.5l-6-6.5l-25.5 9.5l0 2.5l17 16.5zM1907.5,762l-9.5-6l-12 3.5l3.5 16l15-3zM2034.5,670l-13.5 3l-3.5 9.5l15.5 10.5l6.5-3.5zM1979,719l-20 7l0 .5l5.5 10l14 2.5l5.5-4l1.5-3zM1902.5,834.5l-3 10.5l14 10l1.5 0l1.5-17l-8-5zM1514.5,753.5l7 15.5l8.5 0l4-14l-12.5-11.5zM1963.5,772.5l-9.5-11.5l-5 2.5l-1.5 14l7 6l2 .5zM2160,547.5l5.5 16l3 1l16-11.5l-11.5-15z"/>
<path fill="#3885bc" d="M1008.5,432l3-2.5l1.5-22.5l-27.5-4.5l-4.5 25.5l1.5 2zM1185,578.5l0 23.5l18 4.5l9-7l.5-6l-15.5-15.5zM1242,684l10 8l8-8l-9-9zM1240,663.5l0-10.5l-17-3.5l-2.5 2l0 22l10.5-1zM1325,720.5l0-.5l-17.5-.5l-1.5 2l1 14l11 6l6-1zM1327,742l16 0l-1-21.5l-17 0l-1 20zM1341.5,701.5l1.5 17.5l18.5 0l-1-18l-17-1zM1252,692l.5 4l10.5 5.5l7-.5l1-17.5l-11 .5zM1431.5,759l16-1l-1.5-16l-16-1zM1533,788.5l-.5-17l-2.5-2.5l-8.5 0l-5.5 4l1.5 16.5zM1550,789l1.5-1.5l-2-16l-1-.5l-16 .5l.5 17l.5 .5zM1467,761l5-4l-9.5-17l-6 17zM1623,800l1.5 13.5l15.5 0l-1.5-16zM1640,813.5l.5 .5l14.5-3l-.5-12.5l-14.5-3l-1.5 2zM1620.5,785l-1-1l-14 1.5l-1 16.5l18-2.5zM1722,806l12-1l-1-18l-14.5 2.5l-.5 .5l.5 13.5zM1733,786.5l0 .5l1 18l3 2l13.5-6.5l-2.5-13.5zM1747,768l-12.5 .5l-3 2.5l1.5 15.5l15 .5l2.5-3zM1765,783.5l1-1l-3.5-16.5l-14 .5l-1.5 1.5l3.5 16zM1780.5,780.5l-1.5-17l-14.5 .5l-2 2l3.5 16.5zM1825,738l-1-.5l-14.5 4l3 15.5l15.5-.5l.5 0zM1844.5,752.5l-4.5-16.5l-15 2l3.5 18.5zM634,668.5l.5 2.5l23.5 12l23.5-11.5l-29-28.5l-.5 0zM744,667l-36-29.5l-25 34.5l11 18l37.5 6zM589.5,688l35.5-6l9.5-11l-.5-2.5l-13-11.5l-33 7.5zM380,169.5l-59.5-5.5l6 21l39 5l12-8.5zM384,249.5l-3.5-7.5l-29.5-10l-16.5 18.5l-3 14.5l47.5 16.5zM586.5,263l-6-11l-37 0l-3.5 3.5l11.5 34l28.5 .5zM907,351l24 23.5l21-25.5l-30-17zM596.5,398.5l.5 0l15.5 1l28-33.5l.5-7.5l-7-2.5l-31.5 16zM639,446l15 7l26-3l-13-50l-13-.5l-17 10.5zM1852.5,882l8.5 10l18-5.5l-7.5-16l-17 7zM1817.5,938.5l-5.5 12.5l7.5 9l14-4l-2.5-16.5l-8-3zM1869,908l-9-6l-9 5l-1 3.5l10.5 17.5l3.5 .5l3-1.5zM1141.5,578l17.5 15l12.5-15.5l-14-12zM2090.5,627.5l-.5 21.5l19.5-4.5l0-.5l-1.5-10.5l-15-7.5zM1838,918.5l12-8l1-3.5l-10.5-9l-11.5 3l3.5 15.5z"/>
<path fill="#3a87bd" d="M1182.5,576.5l-11 1l-12.5 15.5l.5 8l4 2.5l19.5 0l2-1.5l0-23.5zM1130.5,549.5l2-1.5l-2.5-27l-24.5 1.5l-3 25.5l.5 .5zM1060.5,461.5l-3 27.5l23.5 4l2-30l-1-1zM1030.5,462.5l1-.5l3-26l-23-6.5l-3 2.5l-2 27zM1183,603.5l-2 24l.5 1l21.5-.5l.5-1l-.5-20.5l-18-4.5zM1296.5,740.5l10.5-5l-1-14l-16.5-1.5l-2 1.5l1 16zM1378.5,740.5l2-1.5l-3-19.5l-16 0l-2 21l1.5 1zM1287.5,721.5l2-1.5l1.5-17.5l-1.5-1l-18.5 .5l1 17.5zM1289.5,720l16.5 1.5l1.5-2l0-17l-16.5 0zM1251.5,671l-11.5-7.5l-9 9l10.5 11.5l.5 0l9-9zM1467.5,774.5l15.5 1.5l2-1.5l-3-18l-1.5-1.5l-8.5 2l-5 4l-.5 12.5zM1361,741.5l-1.5-1l-15.5 1.5l0 19l18 2l1.5-2.5zM1395.5,740l-15-1l-2 1.5l.5 20l1.5 1l16-2zM1414.5,739l-16-1l-3 2l1 19.5l1 1l16.5-1zM1430.5,760l1-1l-1.5-18l-.5-1l-14-1.5l-1 .5l-.5 20.5l0 .5zM1588,801.5l-.5-15.5l-2-2l-17 2l-.5 .5l2.5 17l16.5-1zM1498,754.5l-3.5 19l6 2.5l7-3.5l-3.5-17l-5-1.5zM1655,811l.5 1l17-1.5l0-.5l-2-14.5l-13.5 .5l-2.5 2.5zM1687,793l1.5 14l16.5 0l-3.5-16zM1718.5,803.5l-.5-13.5l-15.5 0l-1 1l3.5 16zM1779,763.5l1.5 17l0 .5l15.5-1.5l1.5-2l-3.5-17l-12.5 .5zM1844.5,752.5l15.5-2l3-5.5l-1.5-7.5l-9.5-6l-11 3l-1 1.5zM579.5,645.5l8.5 19l33-7.5l-.5-9.5l-24-19zM733.5,520.5l-2.5 9l1.5 2.5l63.5 22l-9-47l-21-12zM524.5,346l-26 27l0 6l12 13.5l38 11l10-8.5l-2-47.5zM542.5,511.5l23.5 12l17-3.5l-11-36l-21.5 1.5zM641,358.5l14-8l-22.5-51.5l-3 2l-16 33l20.5 22zM761.5,907l1.5 3.5l40-11l2-19l-3.5-6l-23-8l-5.5 1zM803,899.5l17 12.5l19-10.5l0-16.5l-10.5-11l-23.5 6.5zM1798,935l-.5 16l1.5 1.5l13-1.5l5.5-12.5l-11.5-6.5zM1850,863l-6-2.5l-12.5 10.5l3.5 7.5l10 5.5l7.5-2l2-4.5zM1891.5,848l3.5 18.5l1.5 1.5l17-13l-14-10zM1971,756l-12.5-3.5l-4.5 8.5l9.5 11.5l9.5-1.5zM2128,608l-15 4.5l4 13l9.5 2.5l7.5-11zM1806,932l11.5 6.5l5.5-2l0-15l-9.5-5l-5.5 3zM1861,892l-1 10l9 6l9-2.5l5-14.5l-2-3.5l-2-1zM1792,932l6 3l8-3l2-12.5l-12-4.5l-4.5 3zM1908.5,833l8 5l8.5-3.5l-2-11.5l-10-3.5z"/>
<path fill="#3c8abe" d="M1133,578l8.5 0l16-12.5l.5-15.5l-1.5-2l-24 0l-2 1.5l-.5 25.5zM1081,493l-2.5 26l0 .5l25.5 1l.5-27.5zM1263,701.5l-10.5-5.5l-7.5 6.5l6.5 12.5zM1181,627.5l2-24l-19.5 0l1.5 22.5zM1241.5,684l-8.5 10.5l8 7.5l4 .5l7.5-6.5l-.5-4l-10-8zM1516,773l-8.5-.5l-7 3.5l2 13.5l14 1l1-1zM1466.5,773.5l.5-12.5l-10.5-4l-8 1.5l1 16.5zM1485,774.5l9.5-1l3.5-19l-16 2zM1378.5,740.5l-17.5 1l2.5 19l15.5 0zM1570.5,803.5l-1 1.5l1 15.5l3 2.5l15.5-3.5l-2-17zM1551.5,787.5l-1.5 1.5l2 15.5l17.5 .5l1-1.5l-2.5-17zM1622.5,799.5l-18 2.5l2.5 14.5l16.5-2l1-1l-1.5-13.5zM1813,775.5l-1.5-17l-17.5 2l3.5 17l14.5-.5zM652,710l29 10.5l13-30.5l-11-18l-1.5-.5l-23.5 11.5zM731.5,696l-37.5-6l-13 30.5l8.5 20.5l30 5.5l4.5-2l11-37.5zM487.5,293l-3.5-12l-22.5-8l-4.5 2.5l-9.5 26l3.5 2.5l28.5 8.5zM540,255.5l-1.5 .5l-20 21.5l.5 25.5l1.5 2.5l22-.5l9-15.5zM505,323l8-.5l7.5-17l-1.5-2.5l-31.5-10l-8 19.5l1.5 4zM546.5,432l2-28.5l-38-11l-18 42l3.5 4.5l33 12.5zM529,451.5l-33-12.5l-12.5 32.5l10.5 10.5l22-1.5l13.5-11zM954.5,348.5l-2.5 .5l-21 25.5l.5 9.5l20.5 6l15-15l-6.5-22.5zM637,410l17-10.5l-13.5-33.5l-28 33.5zM2200,542l13 5l11.5-8.5l0-4.5l-10.5-13.5l-16.5 11zM1797.5,966l-15 4l-2.5 9l6 6.5l15-2l4-10zM1876,788l-11.5 11.5l.5 5l15.5 3.5l3.5-10.5zM1829,901l11.5-3l4.5-14l-10-5.5l-12.5 14.5l1 5zM1816,972l3.5-12l-7.5-9l-13 1.5l-1.5 13.5l7.5 7.5zM1823,921.5l9.5-5l-3.5-15.5l-5.5-3l-9.5 7.5l-.5 11zM1843,933.5l4 1l13.5-6.5l-10.5-17.5l-12 8zM1779,944l3 6l15.5 1l.5-16l-6-3l-9 2.5zM2151,584.5l-6 13.5l3 4l0-2.5l11.5-11.5l1.5-1.5zM1871.5,870.5l7.5 16l2 1l16.5-16l-1-3.5l-1.5-1.5l-17.5-2.5l-5 3.5zM1728,826.5l10.5-12.5l-1.5-7l-3-2l-12 1l-2 14z"/>
<path fill="#3f8ec0" d="M1105.5,522.5l-1.5-2l-25.5-1l-.5 26.5l24.5 2zM1241.5,684l-10.5-11.5l-10.5 1l-.5 .5l1.5 21.5l.5 0l11-1zM1220.5,673.5l0-22l-18-2.5l-2 2l-.5 20l2.5 2l17.5 1zM1288.5,737.5l-1-16l-15.5-2l-2.5 2l-.5 15l13 5zM1251.5,717.5l3.5 3l14.5 1l2.5-2l-1-17.5l-1-1l-7 .5l-11.5 13.5zM1415,776.5l3 2.5l14.5-2l-2-17l-16.5 0zM1326.5,762l2.5 1.5l14.5-2l.5-.5l0-19l-1 0l-16 0zM1589,819.5l2 1l15.5-2.5l.5-1.5l-2.5-14.5l-16.5-.5l-1 1zM1709.5,836.5l-1-14l-2.5-2.5l-15 4.5l2.5 13.5l15-.5zM1609.5,831l16-1l.5 0l-2.5-15.5l-16.5 2l-.5 1.5zM1688,808l2 15.5l1 1l15-4.5l-1-13l-16.5 0zM1705,807l1 13l2.5 2.5l11.5-2.5l2-14l-3.5-2.5zM1748,787l2.5 13.5l7 3.5l9-3l-1.5-17.5l-14.5 .5zM1765,783.5l1.5 17.5l5 2l11-5.5l-2-16.5l0-.5l-14.5 2zM1796,779.5l-15.5 1.5l2 16.5l11 4l5-3.5zM625,682l12 34.5l15-6.5l6-27l-23.5-12zM741,595l44 12.5l6.5-5l8.5-44l-4-4.5l-63.5-22zM320.5,164l59.5 5.5l5-10l-3-.5l-68-21l-1 7l1.5 6l.5 6zM318,202.5l1 4l30 13l16.5-29.5l-39-5zM319,206.5l-12 20.5l27.5 23.5l16.5-18.5l-2-12.5zM457,275.5l-30.5-13l-14 20l24 21.5l2 .5l9-3zM516,480.5l.5 29l22.5 5l3.5-3l8-26l-21-16zM886.5,766.5l-7.5-16.5l-10 6l-7 16.5l7.5 7zM739,749.5l-15-5l-4.5 2l-4.5 51.5l31.5-3.5l12.5-25zM1843.5,845l-3.5 5l4 10.5l6 2.5l10.5-7l1.5-8.5l-3-2.5zM2228.5,495.5l-1 11.5l15.5 14.5l6 1l1-.5l1.5-11.5l-3.5-6l-6.5-10.5zM2168.5,564.5l6 12.5l10-2l5 0l5-11l-5.5-10l-4.5-1zM1880.5,808l-15.5-3.5l-5 7l7.5 13.5l3 1l10-5l2-10zM1289,762.5l10-4.5l-2.5-17.5l-8-3l-6.5 4l-2 17zM2067.5,699l4.5-6.5l4-1l-1 3l5-5l-3-14.5l-16.5 7.5l5 16zM1960,788l-3.5-4l-2-.5l-14.5 13l0 .5l2 2.5l15.5 2zM1797.5,966l1.5-13.5l-1.5-1.5l-15.5-1l-5 10.5l5.5 9.5zM1991,765l-2-6.5l-13-6l-5 3.5l2 15l3 2zM1992,687l11.5 17l7.5-5l3.5-14.5l-16.5-5.5l-6 6zM2224.5,534l18.5-12.5l-15.5-14.5l-13.5 10.5l0 3zM2095,677.5l9-11l-13.5-9.5l-11.5 16l12 3.5l.5-2l1.5 2.5zM1843.5,845l15.5 0l-1.5-12.5l-9.5-3.5l-6 6z"/>
<path fill="#408fc1" d="M1103,548.5l-.5-.5l-24.5-2l-2 1.5l-2 25.5l3.5 3.5l24.5-2zM1078,546l.5-26.5l0-.5l-26.5-1l-.5 26.5l24.5 3zM1054,491l-2 27l26.5 1l2.5-26l-23.5-4zM1059.5,461l-28 1l-1 .5l1 23.5l22.5 5l3.5-2l3-27.5zM1347,796l-.5-16l-1.5-1l-16 1.5l.5 15l15.5 2zM1432.5,777l-14.5 2l-1.5 16.5l14.5 1l2.5-2.5zM1466,792l.5 1l16.5-1l1-.5l-1-15.5l-15.5-1.5zM1500.5,776l-6-2.5l-9.5 1l-2 1.5l1 15.5l15.5 1l3-3zM1310.5,764l0 15.5l18.5 1l0-17l-2.5-1.5zM1362,763l-18-2l-.5 .5l1.5 17.5l1.5 1l15.5-2.5zM1380.5,761.5l-1.5-1l-15.5 0l-1.5 2.5l0 14.5l1.5 1l15 0l1.5-1zM1414,759.5l-16.5 1l.5 19l17-3l-1-16.5zM1449.5,775l-1-16.5l-1-.5l-16 1l-1 1l2 17l16-.5zM1318,741.5l-11 19l3.5 3.5l16-2l.5-20l-3-1.5zM1607,836l2.5-5l-3-13l-15.5 2.5l2 16.5l1 1zM1550,789l-16.5 0l-.5 18.5l1.5 1l16-2l1.5-2zM1641,828l17-.5l-2.5-15.5l-.5-1l-14.5 3zM1658,827.5l.5 .5l15.5-4l-1.5-13.5l-17 1.5zM1674,824l2 1.5l14-2l-2-15.5l-15.5 2l0 .5zM1812,777l-14.5 .5l-1.5 2l2.5 18.5l5.5 0l10.5-7.5zM1812.5,757l-1 1.5l1.5 17l14.5-1.5l2.5-2.5l-2-15zM1828,756.5l2 15l14 1l2-2.5l-1.5-17.5l-16 4zM597.5,718l36.5 2.5l3-4l-12-34.5l-35.5 6l-.5 .5zM634,720.5l4.5 23.5l35.5 10.5l15.5-13.5l-8.5-20.5l-29-10.5l-15 6.5zM536.5,531l18.5 9.5l11-17l-23.5-12l-3.5 3zM591.5,525.5l-8.5-5.5l-17 3.5l-11 17l1.5 13.5l21 3l14.5-29.5zM580.5,252l6 11l49 12l2.5-4.5l.5-1l-18-53.5l-5.5-1l-14.5-3.5zM762.5,809l-16-14.5l-31.5 3.5l-8.5 10.5l41.5 17.5zM842.5,848.5l-11.5 7l-2.5 18.5l10.5 11l20.5-16l-.5-8zM2126.5,628l-9.5-2.5l-9 8l1.5 10.5l18-.5l2.5-8.5zM1782,915.5l-9 8l10 11l9-2.5l-.5-14zM2104,666.5l7.5-8.5l-2-13.5l-19.5 4.5l-1 1l1.5 7zM2042,689.5l-2.5 0l-6.5 3.5l-4.5 10.5l.5 2.5l12 7l12.5-5l.5-2zM2224.5,538.5l11 9l13.5-4.5l0-20.5l-6-1l-18.5 12.5zM1872,763l1 16l3 2.5l12.5-4.5l1-1.5l-3.5-16l-2.5-1.5zM1757.5,804l-7-3.5l-13.5 6.5l1.5 7l14 9l2.5-.5zM1944,812.5l-2-13l-2-2.5l-11.5 6l-1.5 2.5l5 11.5l4.5 1.5zM2275.5,508.5l-6-4l3.5 8.5zM2168.5,564.5l-3-1l-17.5 7l-1.5 5.5l4.5 8.5l10 2l12-9l1.5-.5zM1913.5,855l-17 13l1 3.5l8.5 8l11 0l4-7l-4.5-17l-1.5-.5zM1848,829l9.5 3.5l10-7.5l-7.5-13.5l-2 .5l-11 10zM1999,727.5l0-18l-18.5 1l-1.5 8.5l6.5 13zM1808,919.5l5.5-3l.5-11l-16-6.5l-2 16zM1299,758l8 2.5l11-19l-11-6l-10.5 5z"/>
<path fill="#4393c3" d="M1006.5,459l2-27l-26-2l-3.5 26l25.5 4.5zM1241,702l-8-7.5l-11 1l1 20l9.5 1.5zM1202.5,673l-3 21l2.5 3l19.5-1.5l-1.5-21.5zM1202.5,649l.5-21l-21.5 .5l-1 20.5l0 .5l20 1.5zM1245,702.5l-4-.5l-8.5 15l5 4l14-3.5l0-2.5zM1398,779.5l.5 13l16.5 4.5l1.5-1.5l1.5-16.5l-3-2.5zM1343.5,761.5l-14.5 2l0 17l16-1.5zM1396.5,759.5l-16 2l-.5 16l18 2l-.5-19zM1570.5,820.5l-1-15.5l-17.5-.5l-1.5 2l3.5 16.5l2 1.5zM1613,846.5l12-2l.5-14.5l-16 1l-2.5 5zM1625,844.5l3 2.5l14.5-2.5l0-.5l-3-14.5l-13.5 .5l-.5 0zM1641,828l-1.5 1.5l3 14.5l17-2.5l-1-13.5l-.5-.5zM1691,824.5l-1-1l-14 2l.5 15l16-1l1-1.5zM1725,835l3.5-6.5l-.5-2l-8-6.5l-11.5 2.5l1 14zM1624.5,813.5l-1 1l2.5 15.5l13.5-.5l1.5-1.5l-.5-14l-.5-.5zM638.5,744l-4.5-23.5l-36.5-2.5l-14.5 25l0 .5l40.5 19zM828.5,544l-28.5 14.5l-8.5 44l57.5 11.5l6-3l6-58.5zM542.5,305l-22 .5l-7.5 17l11.5 23.5l32 1.5l8.5-9.5zM485,352l-.5 3.5l14 17.5l26-27l-11.5-23.5l-8 .5zM498.5,379l-38 16.5l0 12l31 27l1 0l18-42zM494,482l-13 30.5l14.5 14.5l21-17.5l-.5-29zM709.5,391l-3.5 0l-17.5 62l11 8.5l32-15.5l2-5l-.5-7zM879.5,748l18-16l-6-12.5l-31.5 1l-2 13.5zM1773,819.5l2.5-3l-4-13.5l-5-2l-9 3l-2.5 18.5l1.5 .5zM1761,950.5l8.5-8l-5-10l-12.5 4l1.5 12.5zM1979,698l-.5 9.5l2 3l18.5-1l4-3.5l.5-2l-11.5-17zM1755,822.5l-2.5 .5l-9 11l1.5 8.5l3 2l17-4l-8.5-17.5zM1829.5,831l-4.5 2.5l4.5 16l10.5 .5l3.5-5l-1.5-10zM1773,819.5l-16.5 3.5l8.5 17.5l.5 0l11.5-3.5zM2148.5,603.5l-.5 .5l0-2l-3-4l-14 0l-3 10l6 9l12.5 .5l4-11.5zM1767.5,960.5l9.5 0l5-10.5l-3-6l-9.5-1.5l-8.5 8zM1738.5,814l-10.5 12.5l.5 2l15 5.5l9-11zM1863.5,759.5l-7 10l7 9.5l9.5 0l-1-16zM1782.5,970l-5.5-9.5l-9.5 0l-8 9.5l6 13l14.5-4zM2150.5,606l13-1l3.5-10.5l-3.5 1.5l-10 6l-5 1.5zM2065.5,698.5l-5-16l-4.5-2l-14 9l12 16.5zM1798.5,798l-5 3.5l-.5 10.5l13 7.5l8-3.5l2-3l-12-15zM2009.5,753l-3.5-6.5l-11 1.5l-6 10.5l2 6.5l3 2l12.5-3zM2208.5,565.5l-14-1.5l-5 11l4.5 0l16-3.5zM2146.5,617.5l-12.5-.5l-7.5 11l3.5 7l13-1.5l-1-3.5l-9.5-1.5l5.5-7.5l8-2l1-.5zM2017.5,682.5l-3 2l-3.5 14.5l17.5 4.5l4.5-10.5zM1863,745l-3 5.5l3.5 9l8.5 3.5l11.5-5l-3.5-12.5zM1271.5,760.5l8.5-2l2-17l-13-5l-7 5.5l.5 14.5z"/>
<path fill="#4695c4" d="M967,375l-15 15l6.5 12l26.5 0l1-21.5zM1104,576.5l-2-2l-24.5 2l-1 20.5l4.5 4l23-.5l0-.5zM1124,604l5.5-3l3.5-23l-3-3l-26 1.5l0 23.5zM1129.5,601l14 7.5l16-7.5l-.5-8l-17.5-15l-8.5 0zM1104,576.5l26-1.5l.5-25.5l-27.5-1l-1 26zM1255,720.5l-3.5-3l-14 3.5l0 16.5l3.5 2.5l10.5-2.5zM1262,742l7-5.5l.5-15l-14.5-1l-3.5 17zM1502.5,789.5l-3 3l2 16.5l15.5-2.5l-.5-16zM1346.5,780l.5 16l14 2.5l2.5-2l0-18l-1.5-1zM1398,779.5l-18-2l-1.5 1l2 18l15-1l3-3zM1451.5,790.5l14.5 1.5l1.5-17.5l-1-1l-17 1.5l-1 1.5zM1575.5,839.5l17.5-2.5l-2-16.5l-2-1l-15.5 3.5zM1550.5,806.5l-16 2l.5 14l4 3l15-2.5zM1533.5,789l-.5-.5l-15.5 1l-1 1l.5 16l2 1.5l14-.5zM1628.5,860.5l17 0l-3-16l-14.5 2.5zM1645.5,860.5l2 2l8.5-1l5-6.5l-1-13l-.5-.5l-17 2.5l0 .5zM1692.5,839.5l-16 1l-.5 .5l2 15.5l15.5-4.5zM1693.5,838l-1 1.5l1 12.5l7 5.5l1.5 0l9.5-5l-3-15zM1658.5,828l1 13.5l.5 .5l16-1l.5-.5l-.5-15l-2-1.5zM1846.5,786.5l-2.5-14l-14-1l-2.5 2.5l3 15zM602.5,611l-23-20.5l-48.5 12.5l-2 2l0 30l50.5 10.5l17-17l6-13.5zM479.5,312.5l-28.5-8.5l7.5 30l20.5-12.5l2-5zM492.5,434.5l-1 0l-22.5 9l0 22l7 5.5l7.5 .5l12.5-32.5zM675,394l-8 6l13 50l8.5 3l17.5-62l-1.5-.5zM839.5,824.5l4 8.5l37-1.5l4-8l0-1l-27.5-18l-6 1zM2249,522.5l0 20.5l2 1.5l10.5-10.5l5.5 5.5l6 1.5l3.5-4.5l-8.5-11.5l-1 1l-4-3l-13-1zM1776.5,891l12.5-7.5l1-7l-9-4.5l-12.5 7.5l.5 4zM2194.5,564l14 1.5l6-8l-1.5-10.5l-13-5l-11 12zM1822.5,893l12.5-14.5l-3.5-7.5l-4-1.5l-16.5 9.5l.5 4zM1799,834.5l2-1l5-14l-13-7.5l-5.5 5.5l2.5 14zM2017.5,719.5l-14.5-13.5l-4 3.5l0 18l8 4zM1798,899l16 6.5l9.5-7.5l-1-5l-11-10l-13 12zM1745,896.5l6.5-6.5l-3.5-11l-8.5-1.5l-8 14.5l2.5 3zM2053.5,708l6.5 13l1.5 .5l1-8.5l2-9.5l3-4.5l-2-.5l-11.5 7.5zM2028.5,703.5l-17.5-4.5l-7.5 5l-.5 2l14.5 13.5l3-.5l8.5-13zM1743,913.5l7.5 8.5l13-3l-1-11.5l-14.5-.5zM1844,803.5l5-14l-2.5-3l-16 2.5l-4 6l13 10zM1984,735l11 13l11-1.5l3-9l-2-6l-8-4l-13.5 4.5zM1782.5,797.5l-11 5.5l4 13.5l12 1l5.5-5.5l.5-10.5zM1763.5,905.5l-1 2l1 11.5l4.5 5l5-.5l9-8l-3.5-13.5l-1.5-1zM2079,673l-1.5 .5l-.5 1.5l3 14.5l12 4.5l-2.5-8l1.5-9.5zM1881,887.5l2 3.5l16.5 6l6.5-17.5l-8.5-8zM1873,779l-9.5 0l-9.5 10.5l10.5 10l11.5-11.5l0-6.5zM1778.5,902l19.5-3l.5-4l-9.5-11.5l-12.5 7.5l.5 10zM2250,522l13 1l-7-5l-4.5-7.5zM1745,896.5l-11-1.5l-3 15l5.5 4.5l6.5-1l5-6.5zM1814,816l8.5 17l2.5 .5l4.5-2.5l5-15l-16-4l-2.5 1zM1750.5,860.5l-12.5 1.5l-2.5 11l4 4.5l8.5 1.5l6.5-7.5zM2235.5,547.5l-11-9l-11.5 8.5l1.5 10.5l13.5 5l6.5-6zM1977.5,781l-1.5-8l-3-2l-9.5 1.5l-7 11.5l3.5 4l9.5 1zM1778,859.5l7.5-6l-8-16.5l-.5 0l-11.5 3.5l.5 14l4.5 4zM1796,915l2-16l-19.5 3l3.5 13.5l9.5 2.5zM2020.5,719l-3 .5l-10.5 12l2 6l19.5 1l3-7zM1978.5,739l-2.5 13.5l13 6l6-10.5l-11-13z"/>
<path fill="#4c99c6" d="M1050,574.5l24-1.5l2-25.5l-24.5-3l-1 .5l-2.5 27.5zM1027,516.5l25 1.5l2-27l-22.5-5l-3.5 3l-2 27zM1180.5,649.5l-2 23l.5 .5l21-2l.5-20zM1180.5,649l1-20.5l-.5-1l-16-1.5l-3.5 3l1.5 19zM1165,626l-1.5-22.5l-4-2.5l-16 7.5l.5 19l17.5 1.5zM1271.5,760.5l-2.5 22l10 1l10.5-9l-.5-12l-9-4zM1415,797l-1 14.5l2 2l17-.5l-2-16.5l-14.5-1zM1447.5,795.5l2.5 15l1 .5l14.5-1.5l1-16.5l-.5-1l-14.5-1.5zM1363.5,778.5l0 18l16.5 .5l.5-.5l-2-18zM1432.5,777l1 17l14 1.5l4-5l-3-14zM1556.5,839l.5 1l18 0l.5-.5l-2-16.5l-3-2.5l-14.5 4zM1661,855l17 2l0-.5l-2-15.5l-16 1zM1826.5,795l4-6l-3-15l-14.5 1.5l-1 1.5l2.5 13.5l11 4.5zM1860,750.5l-15.5 2l1.5 17.5l10.5-.5l7-10zM674,754.5l-35.5-10.5l-15 18.5l2 14l41.5 16.5zM706.5,808.5l8.5-10.5l4.5-51.5l-30-5.5l-15.5 13.5l-7 38.5l5 12.5l27.5 8zM625.5,776.5l-2-14l-40.5-19l-10.5 20l36 32zM916.5,606l-12-6l-38.5 13.5l27 38.5l15.5-2.5zM863,934l1.5-24l-25.5-8.5l-19 10.5l-.5 22l19.5 19zM319,206.5l-1-4l-11.5-4.5l-1.5 10l-2 13l-3 7.5l7-1.5zM318,202.5l8.5-17.5l-6-21l-5.5-7l0 2.5l-2.5 6.5l-3.5 3.5l-5 4.5l-3.5 6.5l-7.5 2.5l-3.5-5l-3 0l3 13l13.5 5.5l0-1l-1-13l3 1.5l1.5 11.5l0 2.5zM395,287.5l12.5 33.5l29-17l-24-21.5zM479,321.5l6 30.5l20-29l-24-6.5zM483.5,471.5l-7.5-.5l-28.5 32.5l.5 3.5l33 5.5l13-30.5zM556.5,554l-1.5-13.5l-18.5-9.5l-11 10.5l17.5 23.5zM531,603l48.5-12.5l5.5-18l-7.5-15.5l-21-3l-13.5 11zM638.5,269.5l34.5-26l4-17.5l-27-5l-29.5-5zM849.5,312.5l0-61l-27.5-3.5l-24 62l2 2.5l29 10zM655,350.5l9-.5l14-7.5l-3-33l-40.5-13.5l-2 3zM664,350l-9 .5l-14 8l-.5 7.5l13.5 33.5l13 .5l8-6zM2038.5,766.5l3 1.5l-3-2.5zM1691.5,869l7.5 11.5l3 .5l3.5-1l3.5-6l-7-16.5l-1.5 0zM1860,811.5l5-7l-.5-5l-10.5-10l-5 0l-5 14l14 8.5zM2163.5,605l-13 1l-4 11.5l.5 1l20.5-9zM1702,881l-1.5 14.5l5 4l12.5-6l1-2l-13.5-11.5zM1785.5,853.5l7 .5l3-1.5l3.5-18l-9-3l-12.5 5.5zM1916.5,838l-1.5 17l1.5 .5l14.5-3l4-13.5l-10-4.5zM1776.5,891l-7.5-7.5l-11.5 8l6 14l13.5-4.5zM1852,953l-5-18.5l-4-1l-12 6l2.5 16.5l5 3l10.5-2zM1770.5,858.5l-4.5-4l-14 3.5l-1.5 2.5l4 11l8.5 1.5zM2095,677.5l-2-.5l3.5 6l.5 .5zM1769,883.5l-.5-4l-5.5-6.5l-8.5-1.5l-6.5 7.5l3.5 11l6 1.5zM1765.5,840.5l-.5 0l-17 4l4 13.5l14-3.5zM1720.5,911l-3 2.5l-.5 2l7 12l9-1l3.5-12l-5.5-4.5zM1757.5,891.5l-6-1.5l-6.5 6.5l3 10.5l14.5 .5l1-2zM1768.5,879.5l12.5-7.5l-3-12.5l-7.5-1l-7.5 14.5zM1721,860l13.5-2l1-10l-9-4.5l-10.5 10zM2281,536.5l-4.5 0l-3.5 4.5l13.5 2.5zM1821.5,857l6 12.5l4 1.5l12.5-10.5l-4-10.5l-10.5-.5zM1822.5,833l-9.5 5l0 17l8.5 2l8-7.5l-4.5-16zM1743.5,834l-15-5.5l-3.5 6.5l1.5 8.5l9 4.5l9.5-5.5zM1790,831.5l-2.5-14l-12-1l-2.5 3l4 17.5l.5 0zM1858,812l-14-8.5l-4.5 1.5l-4 10.5l11.5 6.5zM2249,543l-13.5 4.5l-1 9l3.5-3.5l12.5-8l.5-.5zM2060,721l-11.5 10l5.5 13l9.5-3l-2-9l0-9.5l0-1zM1814.5,790.5l-10.5 7.5l12 15l2.5-1l7-17zM1747,932.5l5 4l12.5-4l3.5-8.5l-4.5-5l-13 3zM1718,893.5l-12.5 6l0 8l12 6l3-2.5zM1957.5,801.5l-15.5-2l2 13l10 2.5l4.5-12z"/>
<path fill="#529dc8" d="M985,402l-26.5 0l-7 23l29.5 3l4.5-25.5zM1262.5,756.5l-.5-14.5l-10.5-4.5l-10.5 2.5l.5 18l7.5 4.5zM1223,715.5l-4 3l-1.5 19.5l1.5 1.5l18.5-2l0-16.5l-5-4zM1121,626l.5 1l21 1.5l1.5-1l-.5-19l-14-7.5l-5.5 3zM1345,797.5l-15.5-2l-3.5 3.5l1.5 13.5l3 3l12.5-2.5zM1465.5,809.5l1.5 1l17-1.5l-1-17l-16.5 1zM1483,792l1 17l17 0l.5 0l-2-16.5l-15.5-1zM1329,780.5l-18.5-1l-3.5 4.5l5.5 12.5l13.5 2.5l3.5-3.5zM1576.5,855l14.5 1.5l4-4l-1-14.5l-1-1l-17.5 2.5l-.5 .5zM1595,852.5l14.5 2l3.5-8l-6-10.5l-13 2zM1535,822.5l-.5-14l-1.5-1l-14 .5l-1.5 16.5l4.5 3zM1609.5,854.5l2 5.5l14.5 3l2.5-2.5l-.5-13.5l-3-2.5l-12 2zM1711.5,852.5l4.5 1l10.5-10l-1.5-8.5l-15.5 1.5l-1 1zM1844,772.5l2.5 14l2.5 3l5 0l9.5-10.5l-7-9.5l-10.5 .5zM295.5,156l2.5 6l4.5 4l5-4l.5-6.5l-4-5l-6.5 1.5zM325,298l38.5 13.5l16-29l-.5-1l-47.5-16.5l-10 9l-1 3zM516.5,509.5l-21 17.5l2 13.5l28 1l11-10.5l2.5-16.5zM860,720.5l31.5-1l5.5-23l-18-20l-21.5 2l-4 35.5zM745,856l-5 4.5l-6.5 28l28 18.5l11.5-39.5zM839,885l0 16.5l25.5 8.5l18.5-14l-23.5-27zM2163.5,605l4 4.5l5.5-2.5l13-7.5l-9.5-9.5l-3.5 2l-6 2.5zM1724,927.5l-7 11l11 7l6-2l5-10l-6-7zM1626,863l1 7.5l13 7.5l2.5-1.5l5-14l-2-2l-17 0zM1769.5,942.5l9.5 1.5l4-9.5l-10-11l-5 .5l-3.5 8.5zM2276.5,536.5l4.5 0l4-3l-2-10l-5.5-14l-2-1l-2.5 4.5l2 5l-7 7zM1818.5,812l16 4l1-.5l4-10.5l-13-10l-1 0zM2030.5,746l-2-7.5l-19.5-1l-3 9l3.5 6.5l12.5 1.5zM2037.5,750l-7-4l-8.5 8.5l3 14.5l1 .5l12.5-3l0-1l-5-4.5l0-8l3 0l1.5 1.5zM2029,706l-8.5 13l11 12.5l8-3.5l1.5-15zM1736.5,914.5l-3.5 12l6 7l8-1l3.5-10.5l-7.5-8.5zM2281,536.5l5.5 7l.5 0l-2-10zM1724,873.5l11.5-.5l2.5-11l-3.5-4l-13.5 2l-.5 10.5zM2048.5,731l-9-3l-8 3.5l-3 7l2 7.5l7 4l15-3l1.5-3zM1709,874l11.5-3.5l.5-10.5l-5-6.5l-4.5-1l-9.5 5zM1795.5,852.5l15.5 3.5l2-1l0-17l-12-4.5l-2 1zM1932,817l-9 6l2 11.5l10 4.5l.5-.5l5-11l-4-9zM1781,872l9 4.5l5-3.5l-2.5-19l-7-.5l-7.5 6zM1647.5,862.5l-5 14l14.5 6.5l5.5-3l1-7.5l-7.5-11zM1798.5,895l13-12l-.5-4l-5-5l-11-1l-5 3.5l-1 7zM1693.5,852l-15.5 4.5l0 .5l.5 9.5l3 3l10-.5l9-11.5zM1719,891.5l3.5-1.5l1.5-16.5l-3.5-3l-11.5 3.5l-3.5 6zM2041,713l-1.5 15l9 3l11.5-10l-6.5-13zM2076,707l15-3.5l2.5-5l-1-3.5l-.5-1l-12-4.5l-5 5l-3 8zM2270.5,551l-4.5 1l2 4l3.5-1zM2201,586.5l10.5-9.5l-.5-2.5l-17 4.5l-1 .5zM1752,936.5l-5-4l-8 1l-5 10l13.5 10.5l6-5zM1739.5,877.5l-4-4.5l-11.5 .5l-1.5 16.5l9 2zM2214.5,557.5l-6 8l1.5 6l1.5 0l15-9l.5 1l1-1zM1801,833.5l12 4.5l9.5-5l-8.5-17l-8 3.5zM2130.5,649l-3-5.5l-18 .5l0 .5l2 13.5l12.5 2.5zM1289.5,774.5l-10.5 9l10 14l14.5-13.5zM2006.5,764l-12.5 3l1.5 10.5l11.5 6.5l2-1l4-12.5z"/>
<path fill="#569fc9" d="M1221.5,695.5l-19.5 1.5l-1.5 18l18.5 3.5l4-3l-1-20zM1200,671l-21 2l.5 19l1.5 2l18.5 0l3-21zM1269,782.5l-1 24.5l19-1l1-1l1-7.5l-10-14zM1303.5,784l-14.5 13.5l-1 7.5l18 2.5l6.5-11l-5.5-12.5zM1289,762.5l.5 12l14 9.5l3.5 0l3.5-4.5l0-15.5l-3.5-3.5l-8-2.5zM1517.5,824.5l1.5-16.5l-2-1.5l-15.5 2.5l-.5 0l1.5 17l.5 0zM1347.5,816.5l14.5-2.5l-1-15.5l-14-2.5l-2 1.5l-2 15.5zM1363.5,796.5l-2.5 2l1 15.5l1.5 1l16-2l.5-16zM1380,797l-.5 16l2.5 2l15.5-3l-2-16.5l-15 1zM1398.5,792.5l-3 3l2 16.5l2.5 1.5l14-2l1-14.5zM1595,852.5l-4 4l3.5 16.5l12-3.5l5-9.5l-2-5.5zM1556.5,856l17.5 1.5l2.5-2.5l-1.5-15l-18 0zM1554,823l-15 2.5l.5 15l17-1.5l-.5-14.5zM529,635l-19.5 28.5l17 35l62.5-10l.5-.5l-1.5-23.5l-8.5-19zM583,743l14.5-25l-8.5-29.5l-62.5 10l-.5 9zM855,611l11 2.5l38.5-13.5l-1-41l-12.5-12l-17-1.5l-13 7zM458.5,334l-7 14.5l33 7l.5-3.5l-6-30.5zM439,437.5l30 6l22.5-9l-31-27zM675,309.5l26.5-21.5l.5-2.5l-1.5-3l-62.5-12l-2.5 4.5l-1 21zM883,357.5l-8 14.5l5 9.5l41 13.5l10.5-11l-.5-9.5l-24-23.5zM746,846.5l4-7l-2-13.5l-41.5-17.5l-7 5l2 10.5zM1816,972l-11 1.5l-4 10l5.5 11l12.5-1l2-16.5zM1747.5,954l-1.5 5l3.5 8l10 3l8-9.5l-6.5-10l-7.5-1.5zM2052.5,747l-15 3l.5 4.5l6 6.5l10 3l4-1zM1731.5,892l-9-2l-3.5 1.5l-1 2l2.5 17.5l10.5-1l3-15zM1786,985.5l-6-6.5l-14.5 4l-1 1.5l4.5 15l10 4l6-2l.5-.5zM1894.5,913.5l7.5-12l-2.5-4.5l-16.5-6l-5 14.5l8 8.5zM2054,744l-1.5 3l5.5 16l1 .5l11.5-7l-3.5-5l-3.5-10l0-.5zM1752,858l-4-13.5l-3-2l-9.5 5.5l-1 10l3.5 4l12.5-1.5zM1994,767l-3-2l-15 8l1.5 8l9 5l9-8.5zM1878,927.5l8-13.5l-8-8.5l-9 2.5l-2 19zM1867,949l-3-20.5l-3.5-.5l-13.5 6.5l5 18.5zM1725.5,959l3.5 3.5l17-3.5l1.5-5l-13.5-10.5l-6 2zM2059.5,763.5l-.5 0l-1-.5l-4 1l1.5 .5l3.5 1zM1937.5,859l-6.5-6.5l-14.5 3l4.5 17l13.5-1.5zM1792.5,854l2.5 19l11 1l5-18l-15.5-3.5zM1717,938.5l-1 0l-4.5 4l-1 15l2 2.5l13-1l2.5-13.5zM2111.5,658l-7.5 8.5l14 13l.5 0l7.5-14l-2-5zM2059.5,763.5l-.5 2l3.5 .5zM2022,754.5l-12.5-1.5l-3 11l6.5 6.5l12-1.5zM2211.5,577l6.5 1.5l3-2l5-10.5l-14.5 8.5l-.5 0zM1835.5,815.5l-1 .5l-5 15l12.5 4l6-6l-1-7zM1700.5,895.5l-10 2.5l1.5 12l5.5 2.5l8-5l0-8z"/>
<path fill="#5ca3cb" d="M1077.5,576.5l-3.5-3.5l-24 1.5l-1 21l13 7l14.5-5.5zM1050.5,545l1-.5l.5-26.5l-25-1.5l-1 27.5zM1001.5,486l1 1.5l25.5 1.5l3.5-3l-1-23.5l-24-3.5l-2 1.5zM1241,740l-3.5-2.5l-18.5 2l.5 19l9.5 4l12.5-4.5zM1200.5,715l-2.5 2l.5 19.5l2.5 2l16.5-.5l1.5-19.5zM1178.5,672.5l2-23l0-.5l-17.5-1l-3 2.5l-.5 20zM1141,647l1.5-18.5l-21-1.5l-3 19.5l19.5 3.5zM1160,650.5l3-2.5l-1.5-19l-17.5-1.5l-1.5 1l-1.5 18.5zM1081,601l1.5 20.5l17 2.5l1-1l3.5-22.5zM1104,600.5l-3.5 22.5l20.5 3l3-22l-20-4zM1287,806l-19 1l-.5 21.5l5 4l16-3l1-1zM1251.5,805l16.5 2l1-24.5l-18-.5zM1241.5,758l-12.5 4.5l1.5 22.5l20-3.5l-1.5-19zM1250.5,781.5l.5 .5l18 .5l2.5-22l-9-4l-13.5 6zM1451,811l1 17.5l15.5 1l1.5-1.5l-2-17.5l-1.5-1zM1501,809l-17 0l.5 18l1 .5l17-1.5zM1539,825.5l-4-3l-13 5l1 13l14.5 2.5l2-2.5zM425.5,612l-26 6.5l-28 33.5l6 58l6.5 8l24 0l18.5-104zM296.5,230l-2 21.5l27 22.5l10-9l3-14.5l-27.5-23.5l-7 1.5l0 .5l-1 0zM447.5,503.5l28.5-32.5l-7-5.5l-37.5-5zM481,512.5l-33-5.5l-32.5 34.5l20.5 41l47-9l14.5-33l-2-13.5zM951.5,425l7-23l-6.5-12l-20.5-6l-10.5 11l0 28.5l25.5 5zM733.5,441l-2 5l37.5 28.5l25-20l-.5-15.5l-16-15.5zM884.5,822.5l5.5-28l-19.5-10l-13.5 20zM2059,763.5l.5 0l3 2.5l4.5 .5l12 3l-6-8.5l-2.5-4.5zM1838.5,959l-5-3l-14 4l-3.5 12l5 5l15 0zM1617,880.5l12 9l8-2l3-9.5l-13-7.5zM1697.5,912.5l2 12l6.5 1l11-10l.5-2l-12-6zM2044,783l-2.5-15l-3-1.5l-12.5 3l2 18l2.5 1zM1940.5,827.5l14.5-1l2-5.5l-3-6l-10-2.5l-7.5 6zM2201,586.5l-8-7l-8.5 5l-8 5.5l9.5 9.5l.5-.5l14.5-8.5zM1706,925.5l-6.5-1l-3.5 3l-1.5 9.5l3 5l14 .5l4.5-4zM1663.5,872.5l-1 7.5l9 6.5l9.5-5l.5-12l-3-3zM2211.5,577l-10.5 9.5l0 4l.5-.5l16.5-11.5zM2113.5,686.5l4.5-7l-14-13l-9 11l2 6l1 1.5zM1699,880.5l-11.5 5l0 11l3 1.5l10-2.5l1.5-14.5zM1786,985.5l-.5 15.5l18.5-2.5l2.5-4l-5.5-11zM2271.5,555l4.5-1l-2-4l-3.5 1zM1637,887.5l5 6.5l11.5 0l3.5-11l-14.5-6.5l-2.5 1.5zM1656,861.5l7.5 11l15-6l-.5-9.5l-17-2zM1681,881.5l-9.5 5l0 6l8 6l8-2l0-11zM1806,874l5 5l16.5-9.5l-6-12.5l-8.5-2l-2 1zM1724,927.5l-7-12l-11 10l10 13l1 0zM1969.5,789l-9.5-1l-2.5 13.5l1 1.5l13 3l3.5-3l.5-1zM1699,880.5l-7.5-11.5l-10 .5l-.5 12l6.5 4zM1697.5,942l-3 11.5l1.5 3l14.5 1l1-15z"/>
<path fill="#5fa5cd" d="M1050.5,545l-24.5-1l-1 1l-1.5 25l2 2l22.5 .5zM979,456l-4 28.5l26.5 1.5l3-25.5zM982.5,430l-1.5-2l-29.5-3l-5 3.5l6.5 25l26 2.5zM1199.5,694l-18.5 0l-.5 21l17.5 2l2.5-2l1.5-18zM1039.5,621.5l20.5 1.5l2-20.5l-13-7l-9.5 5.5zM1076.5,597l-14.5 5.5l-2 20.5l1 1l16.5 1.5l5-4l-1.5-20.5zM1308,826l3-8.5l-5-10l-18-2.5l-1 1l2.5 22.5zM1504,842.5l2 1.5l15-1.5l2-2l-1-13l-4.5-3l-14.5 1.5zM1330.5,815.5l-3-3l-16.5 5l-3 8.5l5 6.5l16.5 1.5l.5-1zM1346.5,833l1-16.5l-4.5-3.5l-12.5 2.5l-.5 17.5l16 1zM1397.5,812l-15.5 3l1 15l15.5 1.5l1-1l.5-17zM1416,813.5l.5 17.5l.5 1l17.5-2l-1-16.5l-.5-.5zM1433.5,813.5l1 16.5l0 .5l14.5 .5l3-2.5l-1-17.5l-1-.5zM1484.5,827l-.5-18l-17 1.5l2 17.5zM1326,799l-13.5-2.5l-6.5 11l5 10l16.5-5zM1594.5,873l-.5 .5l3 15l1 .5l12.5-.5l6.5-8l-10.5-11zM408,718l20.5 7l50.5-62l-52.5-49zM608.5,795.5l-36-32l-8.5 6l-6.5 31l6 18.5l14.5 0zM787,507l36.5-8l-6.5-31.5l-23-13l-25 20l-3 20.5zM796,554l4 4.5l28.5-14.5l-2.5-42.5l-2.5-2.5l-36.5 8zM820,912l-17-12.5l-40 11l-3 23.5l32 9.5l27.5-9.5zM498.5,379l0-6l-14-17.5l-33-7l-6.5 2.5l7.5 39l8 5.5zM392,336.5l12.5-6l3-9.5l-12.5-33.5l-15.5-5l-16 29l2 14.5l3 3zM438.5,304.5l-2-.5l-29 17l-3 9.5l30.5 18l.5-.5zM685,344.5l-7-2l-14 7.5l11 44l29.5-3.5zM870.5,784.5l19.5 10l12-6l1.5-11l-5-9l-12-2l-17 13zM842.5,848.5l16.5 12.5l21.5-13l0-16.5l-37 1.5zM1988.5,792.5l-2-6.5l-9-5l-8 8l6 13zM2075.5,718l.5-11l-4-4.5l0 1l0 9.5l1.5 6zM1696,927.5l3.5-3l-2-12l-5.5-2.5l-9 3.5l-1 9.5zM2026,769.5l-1-.5l-12 1.5l-4 12.5l14 6.5l5-2zM1906,879.5l-6.5 17.5l2.5 4.5l12.5 2.5l2-2l4-16l-3.5-6.5zM2130,635l-2.5 8.5l3 5.5l13 3.5l2-1.5l-.5-7.5l-2-10zM2094.5,714l-3.5-10.5l-15 3.5l-.5 11l8 5.5zM1729,976l0-13.5l-3.5-3.5l-13 1l-3 12l1.5 2.5l18 2zM1662.5,880l-5.5 3l-3.5 11l4.5 6.5l3 1l10.5-9l0-6zM1683,913.5l9-3.5l-1.5-12l-3-1.5l-8 2l-3 9.5zM1617,880.5l10-10l-1-7.5l-14.5-3l-5 9.5zM1658,900.5l-4.5-6.5l-11.5 0l-3 12.5l7 5.5z"/>
<path fill="#65a9cf" d="M1049,595.5l1-21l-2-2l-22.5-.5l-3.5 23.5l17.5 5.5zM1026,544l1-27.5l-1-.5l-23 0l-3.5 25.5l25.5 3.5zM1138.5,669l20.5 1.5l.5 0l.5-20l-19-3.5l-3 3zM1097,646.5l1-.5l1.5-22l-17-2.5l-5 4l3.5 20zM1519.5,860.5l3-2l-1.5-16l-15 1.5l1.5 15zM1502.5,826l-17 1.5l.5 16l5 2.5l13-3.5l-1-16.5zM1364,832.5l1-.5l-1.5-17l-1.5-1l-14.5 2.5l-1 16.5zM1363.5,815l1.5 17l14.5 1l3.5-3l-1-15l-2.5-2zM1431,796.5l2 16.5l.5 .5l16.5-3l-2.5-15l-14-1.5zM1555,876.5l1.5 14l1.5 1.5l18.5-.5l1-16.5l-3.5-3l-18.5 4zM1577.5,875l-1 16.5l1.5 1.5l19-4.5l-3-15zM1574,872l3.5 3l16.5-1.5l.5-.5l-3.5-16.5l-14.5-1.5l-2.5 2.5zM1537.5,843l2 13l14 2.5l3-2.5l.5-16l-.5-1l-17 1.5zM526.5,698.5l-17-35l-30.5-.5l-50.5 62l21.5 28l40.5 8l14.5-12l21-41.5zM583,743.5l0-.5l-57-35.5l-21 41.5l59 20.5l8.5-6zM505,749l-14.5 12l7 22l60 17.5l6.5-31zM913,516.5l-22 30.5l12.5 12l34.5 0l7-21.5l-6.5-18.5zM839,953l-19.5-19l-27.5 9.5l9 33l38-22zM447.5,301.5l-9 3l-3 43.5l9.5 3l6.5-2.5l7-14.5l-7.5-30zM762.5,286.5l5.5 14.5l30 9l24-62l-40.5-5.5zM848.5,373.5l26.5-1.5l8-14.5l-12.5-38.5l-21-6.5l-20.5 10l2.5 46zM1740.5,979l9-12l-3.5-8l-17 3.5l0 13.5zM1661,901.5l-3-1l-12 11.5l1.5 7l5.5 2l13-8.5l.5-2zM2058,774l-4-.5l-11.5-5l-1-.5l2.5 15l7.5 3.5l3-1.5l-1.5-1l1-2l2.5 1.5zM2285,559l7-1l-1-4l-7 2zM2007,784l-11.5-6.5l-9 8.5l2 6.5l4 2.5l10-1.5zM1679,952l15.5 1.5l3-11.5l-3-5l-16.5 2.5l-2.5 8zM2114,691.5l-.5-5l-15.5-1.5l10 11.5l1.5 .5z"/>
<path fill="#6bacd1" d="M1023.5,570l-24-1l-2.5 23l18.5 7.5l6.5-4l3.5-23.5zM1000,512.5l3 3.5l23 0l2-27l-25.5-1.5zM1201,738.5l-1.5 20.5l11.5 4.5l8.5-5l-.5-19l-1.5-1.5zM1176.5,735.5l3 4l19-3l-.5-19.5l-17.5-2l-2 1.5zM1179,673l-.5-.5l-19-2l-.5 0l-2.5 23l2.5 2l20.5-3.5zM1037.5,623.5l2-2l0-20.5l-17.5-5.5l-6.5 4l-1.5 20.5l.5 .5zM1249,851.5l1.5 1.5l19-1.5l3-19l-5-4l-19 1.5zM1230.5,785l-2 1.5l1.5 17.5l18 3.5l3.5-2.5l-.5-23l-.5-.5zM1219.5,758.5l-8.5 5l-1 19.5l18.5 3.5l2-1.5l-1.5-22.5zM1348,851l15-2l1-16.5l-17.5 .5l-.5 1zM1398.5,848l0-16.5l-15.5-1.5l-3.5 3l2.5 15l3 2.5zM1434.5,847.5l2 2l15-2.5l-2.5-16l-14.5-.5zM1485.5,827.5l-1-.5l-15.5 1l-1.5 1.5l1 15l4.5 2.5l13-3.5zM1578,893l1 8l8.5 7l10-5.5l.5-13.5l-1-.5zM1597.5,902.5l7.5 4l10.5-5.5l-5-12.5l-12.5 .5zM1534,877.5l3 16l1.5 1l18-4l-1.5-14l-19.5-.5zM1536,859.5l-.5 16.5l19.5 .5l.5-.5l-2-17.5l-14-2.5zM1555.5,876l18.5-4l0-14.5l-17.5-1.5l-3 2.5zM1537.5,843l-14.5-2.5l-2 2l1.5 16l13.5 1l3.5-3.5zM667,793l-41.5-16.5l-17 19l31.5 39.5l32-29.5zM289.5,191l-7 12l10 25l4 2l2.5-1l-2-.5l3-8.5l2-12l1-11.5zM525.5,541.5l-28-1l-14.5 33l46 31.5l2-2l12-38zM698.5,274.5l-25.5-31l-34.5 26l-.5 1l62.5 12zM886.5,766.5l12 2l4.5-12l-4-24l-1.5-.5l-18 16l-.5 2zM2009,783l-2 1l-4.5 9.5l7 9.5l7.5 0l6-13.5zM1676.5,908l3-9.5l-8-6l-10.5 9l5.5 9zM1622.5,903.5l3 4.5l13.5-1.5l3-12.5l-5-6.5l-8 2zM1921,872.5l-4 7l3.5 6.5l14.5 2l4.5-10.5l-5-6.5zM1610.5,888.5l5 12.5l7 2.5l6.5-14l-12-9zM1753,1009.5l2 .5l14-10.5l-4.5-15l-12 4l-1 18.5zM2126,665.5l-7.5 14l16 5.5l7.5-15zM1752.5,988.5l12-4l1-1.5l-6-13l-10-3l-9 12l3.5 6.5zM1935,839l-4 13.5l6.5 6.5l9.5-1l4-4.5l-2-10.5l-13.5-4.5zM2085.5,730l-2-6.5l-8-5.5l-2 1l.5 3.5l3 9.5l1.5 4zM1678,939.5l16.5-2.5l1.5-9.5l-14-4.5l-8 6zM2037.5,804.5l13-5l1-13l-7.5-3.5l-13.5 5.5zM2051.5,786.5l-1 13l6.5 6l8.5-.5l3-12l-1.5-.5l-12.5-7.5zM1935.5,838.5l13.5 4.5l9-8l-3-8.5l-14.5 1zM2094.5,714l8.5 3.5l3-1.5l-5-5l-7-12.5l-.5 0l-2.5 5z"/>
<path fill="#6eaed2" d="M944,512l-5.5 7l6.5 18.5l28.5 0l2-25l-.5-.5zM975.5,512.5l-2 25l2.5 2.5l22 3l1.5-1.5l3.5-25.5l-3-3.5zM1081,645.5l-3.5-20l-16.5-1.5l-3 20l18.5 4.5zM1099.5,624l-1.5 22l19.5 1l1-.5l3-19.5l-.5-1l-20.5-3zM1272.5,832.5l-3 19l2 2.5l18 2l5.5-5.5l-6.5-21zM1313,832.5l-5-6.5l-18.5 2.5l-1 1l6.5 21l13 1zM1248.5,830l19-1.5l.5-21.5l-16.5-2l-3.5 2.5l-1.5 20.5zM1506.5,878l.5 .5l13-3.5l-.5-14.5l-12-1.5l-4 4zM1420,865l14 1.5l3-2.5l-.5-14.5l-2-2l-15 1.5zM1455.5,849.5l-4-2.5l-15 2.5l.5 14.5l16 2l2.5-2.5zM1486,843.5l-13 3.5l2.5 15l11.5 2.5l3.5-3.5l.5-15zM1490.5,861l13 2l4-4l-1.5-15l-2-1.5l-13 3.5zM1379.5,833l-14.5-1l-1 .5l-1 16.5l4.5 3.5l14.5-4.5zM1467.5,829.5l-15.5-1l-3 2.5l2.5 16l4 2.5l13-5zM1400,813.5l-.5 17l17 .5l-.5-17.5l-2-2zM1524.5,897.5l12.5-4l-3-16l-9 0l-4.5 17.5zM529,605l-46-31.5l-47 9l-10.5 29.5l1 2l52.5 49l30.5 .5l19.5-28.5zM938.5,473.5l-24-2.5l-14.5 11l13 34.5l25.5 2.5l5.5-7l1.5-29.5zM421,447.5l10.5 13l37.5 5l0-22l-30-6zM2143.5,652.5l-13-3.5l-6.5 11.5l2 5l16 4.5l2.5-1.5zM1958.5,803l-4.5 12l3 6l12.5-2.5l2-12.5zM1723,991.5l.5 1l12 5l8.5-12l-3.5-6.5l-11.5-3l0 .5zM1625.5,910l0-2l-3-4.5l-7-2.5l-10.5 5.5l1 11.5l5 3.5zM1666,912.5l7.5 16l.5 .5l8-6l1-9.5l-6.5-5.5l-10 2.5zM1709.5,972l3-12l-2-2.5l-14.5-1l-3.5 15zM1653,921l6 10.5l14.5-3l-7.5-16zM2068,787l4-7.5l-6.5-4l-7.5-1.5l-1.5 9.5l2.5 1.5zM1711,974.5l-2 12.5l14 4.5l6-15zM2069.5,789.5l-1.5-2.5l-9-2l8 4.5l2.5 1z"/>
<path fill="#75b2d4" d="M999.5,569l-1.5-1.5l-25.5 1l-1 22l15.5 7.5l10-6zM998,543l-22-3l-6 26l2.5 2.5l25.5-1zM999.5,541.5l-1.5 1.5l0 24.5l1.5 1.5l24 1l1.5-25zM945.5,482.5l-1.5 29.5l31 0l-1-26.5zM974,485.5l1 26.5l.5 .5l24.5 0l2.5-25l-1-1.5l-26.5-1.5zM979,456l-26-2.5l-14.5 20l7 9l28.5 3l1-1zM1118.5,646.5l-1 .5l-.5 23.5l20 0l1.5-1.5l-.5-19zM1055,646l3-2l3-20l-1-1l-20.5-1.5l-2 2l0 18.5zM1272.5,877.5l19-2.5l-2-19l-18-2l-2 21.5zM1492.5,914.5l-1-16.5l-.5 0l-16 0l-3 4l2 14l16.5 .5zM1312,855l1.5 12.5l15.5 3l3.5-2l0-16.5l-3.5-2.5zM1385,850.5l-3-2.5l-14.5 4.5l-.5 14.5l15 2l3.5-2.5zM1401.5,850l-3-2l-13.5 2.5l.5 16l13 2.5l4.5-4zM1417,867l3-2l-.5-16l-2.5-2l-15.5 3l1.5 15zM1329.5,834l-16.5-1.5l-5 19l4 3.5l17-5.5zM1330,833l-.5 1l-.5 15.5l3.5 2.5l15.5-1l-2-17zM1399.5,830.5l-1 1l0 16.5l3 2l15.5-3l0-15l-.5-1zM1419.5,849l15-1.5l0-17l0-.5l-17.5 2l0 15zM1568,910l11-9l-1-8l-1.5-1.5l-18.5 .5l0 13zM1522.5,858.5l-3 2l.5 14.5l5 2.5l9 0l1.5-1.5l.5-16.5zM342,589l-21.5 49.5l2.5 3.5l48.5 10l28-33.5zM557.5,800.5l-60-17.5l-1 25l54.5 27.5l12.5-16.5zM608.5,795.5l-30.5 23.5l51.5 46.5l10.5-30.5zM941,563l-3-4l-34.5 0l1 41l12 6l5 0l20-18zM885,895.5l-2 .5l-18.5 14l-1.5 24l33 16.5l11-8l5.5-24zM421,447.5l-11-2l-13 5.5l-8.5 78l27 12.5l32.5-34.5l-.5-3.5l-16-43zM673,243.5l25.5 31l16-42l-14.5-2.5l-23-4zM762.5,286.5l19-44l-7.5-1l-38-6l-1.5 37.5zM753,397l-3-3.5l-31-8l-9.5 5.5l23.5 43zM1659,931.5l-4.5 10.5l9.5 7l11.5-1.5l2.5-8l-4-10.5l-.5-.5zM2068,787l1.5 2.5l12.5 3.5l1-.5l-.5-3l-2-6.5l-3.5-1l-5-2.5zM1621.5,932l9.5-8.5l-5.5-13.5l-14.5 11.5l1.5 5zM2093.5,748.5l2-2l-1-11l-9-5.5l-7 6l2 5.5l7.5 7.5zM2143.5,652.5l1 16l1.5-3.5l-.5-14zM1735.5,997.5l1 4.5l15 5l1-18.5l-8.5-3zM2028,787.5l-5 2l-6 13.5l6 7.5l14-4.5l.5-1.5l-7-16zM1692.5,971.5l3.5-15l-1.5-3l-15.5-1.5l-1.5 13.5l13.5 7zM1769,999.5l-14 10.5l8 8l11.5-1l4.5-13.5zM1785.5,1001l-.5 .5l9 16.5l13.5-4l-3.5-15.5zM1660.5,962.5l3.5-13.5l-9.5-7l-4 1l-5.5 16l11.5 5.5zM1568,910l-10-5l-9.5 8.5l12.5 13l10-5zM1639,906.5l-13.5 1.5l0 2l5.5 13.5l8.5 2.5l8-7l-1.5-7zM1975,803l12.5 9.5l6-3.5l-1-14l-4-2.5l-13 9.5zM2082,806l0-7l-13.5-6l-3 12l5 4z"/>
<path fill="#78b4d5" d="M938,559l3 4l29 3l6-26l-2.5-2.5l-28.5 0zM1015.5,599.5l-18.5-7.5l-10 6l-.5 18.5l7.5 7l20-3.5zM1179.5,739.5l-1.5 17.5l10 5.5l11.5-3.5l1.5-20.5l-2.5-2zM1178.5,716.5l2-1.5l.5-21l-1.5-2l-20.5 3.5l1.5 17.5zM1156.5,693.5l2.5-23l-20.5-1.5l-1.5 1.5l.5 21.5l2 2zM1098,646l-1 .5l0 21.5l19.5 2.5l.5 0l.5-23.5zM1308,851.5l-13-1l-5.5 5.5l2 19l1 1l16-1.5l5-7l-1.5-12.5zM1246.5,828l1.5-20.5l-18-3.5l-4.5 4.5l2.5 20l.5 .5zM1208,784.5l2-1.5l1-19.5l-11.5-4.5l-11.5 3.5l1.5 18zM1509.5,895.5l-1 .5l1.5 17l16 0l-1.5-15.5l-4-2.5zM1347.5,885.5l-1-15.5l-14-1.5l-3.5 2l.5 16l2 1zM1398.5,869l1.5 14.5l1.5 1.5l16-2.5l-.5-15.5l-14-2zM1490.5,861l-3.5 3.5l2 14.5l1.5 1l16-2l-3-15zM1332.5,852l0 16.5l14 1.5l3-3l-1.5-16zM1367.5,852.5l-4.5-3.5l-15 2l1.5 16l16 1.5l1.5-1.5zM1468.5,844.5l-13 5l0 14l14.5 3l5.5-4.5l-2.5-15zM1526,913l1.5 1.5l14-2.5l-3-17.5l-1.5-1l-12.5 4zM1548.5,913.5l9.5-8.5l0-13l-1.5-1.5l-18 4l3 17.5l3 1.5zM323,642l-3 30.5l12.5 23.5l45 14l-6-58zM874,545.5l-8.5-50.5l-39.5 6.5l2.5 42.5l32.5 8.5zM240,195l21 13.5l21.5-5.5l7-12l-3-13l-2.5 0l-3.5-1.5zM921,423.5l-8.5 7l2 40.5l24 2.5l14.5-20l-6.5-25zM701,849l39 11.5l5-4.5l1-9.5l-44.5-22.5zM1672,968.5l5.5-3l1.5-13.5l-3.5-4.5l-11.5 1.5l-3.5 13.5zM2114,691.5l9.5 8.5l9-1.5l.5-1l3-9.5l-1.5-3l-16-5.5l-.5 0l-4.5 7zM1587.5,914l-13.5 8.5l7.5 14l11-4.5l2-10.5zM2002.5,793.5l-10 1.5l1 14l9 2.5l7-8.5zM1785,1001.5l-6 2l-4.5 13.5l6 8l11-2l2.5-5zM1880.5,950l3-16.5l-5.5-6l-11-.5l-3 1.5l3 20.5l7 4zM2037,806l5.5 13l10-1.5l4.5-12l-6.5-6l-13 5zM1711,974.5l-1.5-2.5l-17-.5l-1.5 1l-.5 4l8 14l4.5 .5l6-4zM1709,987l-6 4l7 17l7-2.5l6.5-13l-.5-1zM1587.5,908l-8.5-7l-11 9l3 11.5l3 1l13.5-8.5zM1659,931.5l-6-10.5l-5.5-2l-8 7l1.5 12.5l9.5 4.5l4-1zM2093.5,748.5l-5.5 .5l2.5 2.5l3.5 6z"/>
<path fill="#7eb8d7" d="M1017,643l18 1.5l2.5-2.5l0-18.5l-23-3zM1250,875.5l2 1.5l17.5-1.5l2-21.5l-2-2.5l-19 1.5zM1228,828.5l-2.5-20l-16.5-1l-4 20l3.5 3zM1204.5,803.5l4.5 4l16.5 1l4.5-4.5l-1.5-17.5l-18.5-3.5l-2 1.5zM1455,901l-1.5 15.5l2.5 2.5l17.5-2.5l.5-.5l-2-14l-15.5-1.5zM1507.5,915.5l2.5-2.5l-1.5-17l-17 2l1 16.5zM1367.5,903.5l16.5-1l0-16l-1.5-1l-16.5 .5l0 16.5zM1403,901l16.5 0l1.5-1l0-14.5l-3.5-3l-16 2.5zM1421,885.5l0 14.5l14 3l2-2l2.5-16.5l-4.5-3zM1489,879l-17 4l3 15l16 0l-.5-18zM1490.5,880l.5 18l.5 0l17-2l1-.5l-2.5-17l-.5-.5zM1509.5,895.5l11-.5l4.5-17.5l-5-2.5l-13 3.5zM1367,867l-1.5 1.5l-.5 16.5l1 1l16.5-.5l-.5-16.5zM1417.5,882.5l3.5 3l14-4l-1-15l-14-1.5l-3 2zM1437,864l-3 2.5l1 15l4.5 3l6.5-1l6.5-4.5l.5-13zM1453,866l-.5 13l9.5 5l9.5-1.5l-1.5-16l-14.5-3zM1487,864.5l-11.5-2.5l-5.5 4.5l1.5 16l.5 .5l17-4zM1446,883.5l8.5 17.5l.5 0l1.5-.5l5.5-16.5l-9.5-5zM436,582.5l-20.5-41l-27-12.5l-50.5 6l-8 22l12 32l57.5 29.5l26-6.5zM928,665.5l-4-9.5l-15.5-6.5l-15.5 2.5l-14 24.5l18 20l26-5zM801,976.5l-1.5 4l14 22l29.5-.5l1-1.5l4-27.5l-9-18.5zM460.5,395.5l-8-5.5l-42 5l-.5 50.5l11 2l18-10l21.5-30zM240,195l40.5-18.5l-7-3.5l-21.5-12.5l-13.5-12l-5.5 23l1.5 22.5zM261,208.5l3.5 26l28-6.5l-10-25zM321.5,274l-27-22.5l-24 11l22.5 21.5l27.5-7zM348.5,333.5l17-7.5l-2-14.5l-38.5-13.5l-7.5 15l4.5 17zM706,391l3.5 0l9.5-5.5l8.5-25l-17.5-22.5l-25 6.5l19.5 46zM753,397l-20 37l.5 7l44-17.5l-3.5-18.5zM992.5,841.5l-20 9.5l-1.5 24l20 5.5l9-12l-3-23zM1916.5,902l17 2l6-6l-4.5-10l-14.5-2zM1819,993.5l-12.5 1l-2.5 4l3.5 15.5l5.5 3l13.5-17.5zM2142,670l-7.5 15l1.5 3l1 .5l1-2.5l6.5-17.5zM1660,996.5l9.5 1l7.5-6.5l0-4.5l-7.5-8l-10 2.5l-1.5 12.5zM1581.5,936.5l-2 4.5l14 14l2.5-.5l7.5-13l-1.5-3.5l-9.5-6zM1630.5,957l10 3.5l4.5-1.5l5.5-16l-9.5-4.5l-9 4.5zM1958,835l5 2.5l12-6l.5-7.5l-6-5.5l-12.5 2.5l-2 5.5zM1883.5,933.5l10-1l6-10l-5-9l-8.5 .5l-8 13.5zM2123.5,700l-9.5-8.5l-4.5 5.5l10 4.5l1.5 4.5zM1632,943l9-4.5l-1.5-12.5l-8.5-2.5l-9.5 8.5l1.5 6zM2094.5,735.5l8.5-6l0-12l-8.5-3.5l-11 9.5l2 6.5z"/>
<path fill="#84bcd9" d="M972.5,568.5l-2.5-2.5l-29-3l.5 25l19.5 7.5l10.5-5zM1097,668l0-21.5l-16-1l-4.5 3l-2 18.5l2 2l19 0zM1292.5,876l-1-1l-19 2.5l1.5 21l17.5 1l1.5-1zM1000,868.5l21.5 0l0-22l-24.5-1zM1228.5,853l20.5-1.5l-.5-21.5l-2-2l-18 1l-1 23zM1509.5,930.5l-2-15l-15-1l-2 2l1.5 15.5l2 1.5zM1512,932l13.5-3l2-14.5l-1.5-1.5l-16 0l-2.5 2.5l2 15zM1437.5,917l-2.5-14l-14-3l-1.5 1l-1 20l18.5-3zM1366,902.5l0-16.5l-1-1l-17 1l1 17zM1439.5,884.5l-2.5 16.5l17.5 0l-8.5-17.5zM1456.5,900.5l15.5 1.5l3-4l-3-15l-.5-.5l-9.5 1.5zM1385.5,866.5l-3.5 2.5l.5 16.5l1.5 1l16-3l-1.5-14.5zM342,589l-12-32l-30.5 13.5l-18 48.5l3 9.5l4 4.5l32 5.5zM916.5,606l-8 43.5l15.5 6.5l13.5-13.5l.5-22l-16.5-14.5zM792,943.5l-32-9.5l-5.5 6l-1 36.5l6 9l40-5l1.5-4zM435,348.5l-32 35.5l7.5 11l42-5l-7.5-39l-9.5-3zM317.5,313l7.5-15l-4.5-21l-27.5 7l-7.5 10.5l5.5 20l.5 .5zM685,344.5l25-6.5l11-20l-19.5-30l-26.5 21.5l3 33zM798,310l-30-9l-18 17.5l4.5 33l8 6l18 2l3-1.5l16.5-45.5zM831.5,368.5l-2.5-46l-29-10l-16.5 45.5l43 13zM912.5,430.5l8.5-7l0-28.5l-41-13.5l-4 43.5zM903,756.5l34.5 3l0-2.5l-19-23.5l-19.5-1zM898.5,768.5l5 9l36-11.5l-2-6.5l-34.5-3zM1914.5,904l-12.5-2.5l-7.5 12l5 9l16 2.5l1.5-2.5zM1616,953.5l14 4l.5-.5l1.5-14l-9-5l-9 7.5zM1558,934l3-7.5l-12.5-13l-4 0l-2.5 16.5l9 7.5zM2082,806l2.5 1.5l-1-8l-.5-7l-1 .5l0 2l.5 .5l0 4l-.5-.5zM1548,950l-.5-2l-17-3l-3 3l2.5 12.5l11 1.5zM1723.5,992.5l-6.5 13l12.5 7.5l7-11l-1-4.5zM1677.5,965.5l-5.5 3l-2.5 10l7.5 8l13.5-10l.5-4zM1698.5,990.5l-9.5 8l0 10l17.5 4.5l3.5-5l-7-17zM1730,1015l13.5 6.5l9.5-12l-1.5-2.5l-15-5l-7 11zM1971.5,806l-2 12.5l6 5.5l10.5-4.5l1.5-7l-12.5-9.5zM2070.5,809l-5-4l-8.5 .5l-4.5 12l7 6.5l7-1.5l-3-1.5l0-2.5l6 2.5zM2123.5,700l-2.5 6l1.5 7.5l8-10.5l2-4.5zM1654,976l2.5-11.5l-11.5-5.5l-4.5 1.5l-.5 19zM1602,938l1.5 3.5l10.5 4l9-7.5l-1.5-6l-9-5.5zM1592.5,932l9.5 6l10.5-11.5l-1.5-5l-5-3.5l-11.5 3.5zM2023,810.5l-1 4l7.5 11l10-1l3-5.5l-5.5-13zM1606,918l-1-11.5l-7.5-4l-10 5.5l0 6l7 7.5zM1951,853.5l10.5 0l4.5-6l-3-10l-5-2.5l-9 8zM1542,930l-12 3.5l.5 11.5l17 3l3.5-10.5zM2082,793l-12.5-3.5l0 1l12.5 4.5z"/>
<path fill="#87beda" d="M1014,620l-20 3.5l-3.5 21.5l20 4.5l6.5-6.5l-2.5-22.5zM971.5,590.5l-10.5 5l-1.5 22.5l5.5 4.5l21.5-6l.5-18.5zM1155.5,717.5l1 18l20 0l2-19l-18-3.5zM1118,691.5l19.5 .5l-.5-21.5l-20 0l-.5 0l-1.5 18zM1033.5,665l20.5 1.5l1-20.5l-17.5-4l-2.5 2.5zM1020.5,891.5l2.5-22l-1.5-1l-21.5 0l-9 12l3.5 7.5l25.5 3.5zM1314,888.5l-5.5-14l-16 1.5l.5 22.5l16 1zM1227.5,852l1-23l-.5-.5l-19.5 2l-1 20.5l1.5 1.5zM1169.5,783.5l16 .5l4-3.5l-1.5-18l-10-5.5l-9 4l-1.5 21zM1350.5,939.5l1.5 1.5l14.5-4l-1-15.5l-15.5-1.5l-2 1.5zM1370,939.5l15-2.5l0-15.5l-.5-1l-18-.5l-1 1.5l1 15.5zM1418.5,921l-15.5-2.5l-1.5 1.5l-.5 17l4.5 3l14-6.5zM1456,934l0-15l-2.5-2.5l-16 .5l-.5 1l2 17.5l3 2zM1490.5,916.5l-16.5-.5l-.5 .5l1 15.5l3 3l14.5-3zM1350,920l-1.5-16.5l-17 1l-1 1l1 16l1 1.5l15.5-1.5zM1418.5,921l1-20l-16.5 0l-2 2l2 15.5zM1437,901l-2 2l2.5 14l16-.5l1.5-15.5l-.5 0zM1348.5,903.5l.5-.5l-1-17l-.5-.5l-16 2l0 17zM1400,883.5l-16 3l0 16l.5 .5l16.5 0l2-2l-1.5-16zM1329.5,886.5l-.5-16l-15.5-3l-5 7l5.5 14zM891,547l22-30.5l-13-34.5l-24-1.5l-10.5 14.5l8.5 50.5zM361.5,369l7-40l-3-3l-17 7.5l-11.5 34zM393,379.5l10 4.5l32-35.5l-30.5-18l-12.5 6zM734.5,273l1.5-37.5l-21.5-3l-16 42l2 8l1.5 3zM768,301l-5.5-14.5l-28-13.5l-32.5 12.5l-.5 2.5l19.5 30l29 .5zM972.5,851l-21-13.5l-8 10l1.5 39.5l.5 1l25.5-13zM859,861l.5 8l23.5 27l2-.5l17.5-28l-22-19.5zM994.5,888l-3.5-7.5l-20-5.5l-25.5 13l-1 16l42 7l3.5-2.5zM679,895.5l54.5-7l6.5-28l-39-11.5zM2116.5,735l-13.5-5.5l-8.5 6l1 11l15 2.5zM2082,806l-11.5 3l-1 12l3.5 1.5l12.5 0l1-4l-2-9.5l0-1.5zM2095.5,746.5l-2 2l.5 9l2 3.5l3 3l3 2l10-5.5l2-6l-3.5-5.5zM1624,992.5l8.5-11.5l-9.5-9.5l-8.5 .5l-2.5 13.5l8.5 7.5zM2017,803l-7.5 0l-7 8.5l2.5 8l6 2.5l11-7.5l1-4zM2103,717.5l0 12l13.5 5.5l3-9l-.5-1.5l-3-.5l-6-4l-4-4zM1937.5,859l-3 12l5 6.5l8.5-.5l5-7.5l-6-11.5zM1690.5,976.5l-13.5 10l0 4.5l12 7.5l9.5-8zM1542,930l2.5-16.5l-3-1.5l-14 2.5l-2 14.5l4.5 4.5zM1546.5,973l13-7l-2-11l-9.5-5l-7 12zM1659.5,981l10-2.5l2.5-10l-11.5-6l-4 2l-2.5 11.5zM1640,1002l10 9.5l4.5-.5l5.5-14.5l-2-3l-12.5-.5zM1761.5,1033l15.5-1l3.5-7l-6-8l-11.5 1l-2 15zM1603.5,941.5l-7.5 13l13.5 6.5l6.5-7.5l-2-8z"/>
<path fill="#8dc2dc" d="M961,595.5l-19.5-7.5l-20 18l16.5 14.5l21.5-2.5zM1159,695.5l-2.5-2l-17 .5l-3.5 19.5l19.5 4l5-4.5zM1054,666.5l1.5 1.5l19-1l2-18.5l-18.5-4.5l-3 2zM1041,894l2-1l-.5-23l-1.5-.5l-18 0l-2.5 22zM1274,898.5l-1.5-21l-3-2l-17.5 1.5l-.5 20.5l20.5 2.5zM1022.5,846l-1 .5l0 22l1.5 1l18 0l.5-23zM1230,875.5l0 .5l20-.5l.5-22.5l-1.5-1.5l-20.5 1.5zM1186.5,829.5l-15 .5l-4.5 21l1 1l18.5 2l4.5-4zM1208.5,830.5l-3.5-3l-16 0l-2.5 2l4.5 20.5l16.5 1zM1188,805.5l-19.5 .5l-2 19.5l5 4.5l15-.5l2.5-2zM1185.5,784l2.5 21.5l16.5-2l3.5-19l-18.5-4zM1476.5,951.5l1 12l8 7l2 0l8.5-8.5l-.5-11.5l-.5 0zM1495.5,950.5l.5 11.5l11.5 6l6-6l-2.5-13zM1477.5,935l-3-3l-17 3.5l4.5 15.5l14.5 .5zM1495,950.5l.5 0l15.5-1.5l1.5-1.5l-.5-15.5l-2.5-1.5l-15.5 3zM1424.5,938l14.5-2.5l-2-17.5l-18.5 3l1 12.5zM1350,920l15.5 1.5l1-1.5l1-16.5l-1.5-1l-17 .5l-.5 .5zM1401.5,920l1.5-1.5l-2-15.5l-16.5 0l0 17.5l.5 1zM1346.5,870l1 15.5l.5 .5l17-1l.5-16.5l-16-1.5zM632.5,894.5l-49.5 84l2.5 8.5l58 25l16.5-108zM578,819l-14.5 0l-12.5 16.5l-8.5 47l88 9.5l-1-26.5zM826,501.5l39.5-6.5l10.5-14.5l-18.5-34l-40.5 21l6.5 31.5zM667.5,904.5l27.5 31l59.5 4.5l5.5-6l3-23.5l-1.5-3.5l-28-18.5l-54.5 7zM754.5,940l-59.5-4.5l2 51.5l56.5-10.5zM848,973l43-4l5-18.5l-33-16.5l-24 19l0 1.5zM754.5,351.5l-4.5-33l-29-.5l-11 20l17.5 22.5zM903.5,777.5l-1.5 11l20.5 16.5l23-31l-6-8zM916,848.5l-10 17.5l39 21l-1.5-39.5zM1557.5,955l14-8l.5-1l-14-12l-7 3.5l-3.5 10.5l.5 2zM1553,991.5l1.5-6l-8-11.5l-11.5 6l.5 11.5l6 4.5zM2102,766l-3-2l3 4zM1584.5,986l3.5 12l10 4l1.5-1l4-13.5l-7-6.5zM1571,921.5l-10 5l-3 7.5l14 12l7.5-5l2-4.5l-7.5-14zM1530,960.5l-4.5 5l.5 10.5l9 4l11.5-6l0-1l-5.5-11zM1935.5,919.5l-2-15.5l-17-2l-2 2l2.5 18.5l18-2.5zM2112,760.5l-10 5.5l0 2l2.5 2.5l-1.5 5l10 5.5l0-1l6-9.5l.5-1.5zM1584,965.5l-8-3l-10 6l2 13l5 3l7.5-1zM1982.5,839l-7.5-7.5l-12 6l3 10l14 2zM1593.5,955l-14-14l-7.5 5l-.5 1l4.5 15.5l8 3l4.5-1.5zM1598,973.5l12.5-4.5l-1-8l-13.5-6.5l-2.5 .5l-5 9zM1634.5,1003l-4.5 9.5l10.5 11l1 0l8.5-12l-10-9.5zM1684,1013l5-4.5l0-10l-12-7.5l-7.5 6.5l4 13zM2085.5,822.5l2.5 0l-1.5-4zM1614.5,972l8.5-.5l7-14l-14-4l-6.5 7.5l1 8zM1995,828.5l-9-9l-10.5 4.5l-.5 7.5l7.5 7.5l12.5-4zM2136,688l-3 9.5l4-9zM1854,978.5l3.5-8.5l-8.5-13l-10.5 2l-2.5 18l4.5 5zM1566,968.5l10-6l-4.5-15.5l-14 8l2 11z"/>
<path fill="#90c4dd" d="M986.5,616.5l-21.5 6l.5 20.5l23 3.5l2-1.5l3.5-21.5zM1155.5,736l1 21l12.5 4l9-4l1.5-17.5l-3-4l-20 0zM1291.5,899.5l-17.5-1l-2 1.5l-1.5 20l5 3.5l15.5-3.5zM1309,899.5l-16-1l-1.5 1l-.5 20.5l8 5.5l11-5l2-17zM1041.5,846.5l-.5 23l1.5 .5l18-1.5l2.5-19.5l-18.5-5zM1207.5,851l-16.5-1l-4.5 4l2 21l18.5-2l2-20.5zM1022.5,822.5l-25 0l-4.5 7l-.5 12l4.5 4l24.5 1l1-.5zM1205,827.5l4-20l-4.5-4l-16.5 2l1 22zM1168,805.5l.5 .5l19.5-.5l-2.5-21.5l-16-.5zM1385,974.5l2.5-2.5l-1-17l-16.5 2l-1 1l1.5 11zM1386.5,955l1 17l15.5-1l2-15l-17-2zM1476.5,951.5l-14.5-.5l-4 4l.5 10l6.5 5.5l12.5-7zM1331.5,937.5l-13.5 3.5l-3.5 3.5l9.5 13l8 1l3-2l-.5-16zM1335,956.5l5.5 1l11.5-8l0-8.5l-1.5-1.5l-16 1zM1401,937l-14 1.5l1 15.5l17 2l1.5-1l-1-15zM1423.5,952.5l16.5 3l2-2l0-16l-3-2l-14.5 2.5zM1512.5,947.5l15 .5l3-3l-.5-11.5l-4.5-4.5l-13.5 3zM1332.5,923l-1-1.5l-17 1l3.5 18.5l13.5-3.5zM1401,937l.5-17l-16.5 1.5l0 15.5l2 1.5zM1473.5,916.5l-17.5 2.5l0 15l1.5 1.5l17-3.5zM1366.5,920l18 .5l0-17.5l-.5-.5l-16.5 1zM1331.5,887.5l-2-1l-15.5 2l-5 11l3 4l18.5 2l1-1zM1445,973l2.5 13l19-1l-1.5-14.5l-6.5-5.5zM1466.5,985l0 .5l10-2l9-13l-8-7l-12.5 7zM1349.5,968.5l10-11l-7.5-8l-11.5 8zM1684.5,1031.5l1-.5l-1.5-18l-10.5-2.5l-10 7.5l.5 15l.5 .5zM660,904l-16.5 108l10.5 9.5l30.5-13l12.5-21.5l-2-51.5l-27.5-31zM699.5,813.5l-27.5-8l-32 29.5l-10.5 30.5l1 26.5l2 2.5l27.5 9.5l7.5 .5l11.5-9l22-46.5l.5-25zM759.5,985.5l-6-9l-56.5 10.5l-12.5 21.5l54.5 27.5l10-7.5l10.5-32.5zM802.5,1017l11-14.5l-14-22l-40 5l0 10.5zM332,369l5-1.5l11.5-34l-26.5-3.5l-2 4.5zM296.5,230l-4-2l-28 6.5l-4.5 7l3 12l7.5 9l24-11zM762.5,357.5l-8-6l-27 9l-8.5 25l31 8zM859,437.5l17-12.5l4-43.5l-5-9.5l-26.5 1.5l-3.5 52zM923,691.5l-26 5l-5.5 23l6 12.5l1.5 .5l19.5 1l22-27.5zM992.5,841.5l.5-12l-33.5-12l-8.5 7.5l.5 12.5l21 13.5zM944.5,904l1-16l-.5-1l-39-21l-3.5 1.5l-17.5 28l27.5 23l31.5-13.5zM2123,737.5l0-1.5l-3.5-10l-3 9zM1969,879.5l0-10.5l-1-.5l-15 1l-5 7.5l7.5 10l5 1zM2025,832l5.5 13.5l14.5-9.5l-5.5-11.5l-10 1zM1794,1018l-2.5 5l7.5 15l14-7l2.5-9.5l-2.5-4.5l-5.5-3zM1993.5,809l-6 3.5l-1.5 7l9 9l10-9l-2.5-8zM1955.5,887l-12 11l12.5 13l9.5-12.5l-5-10.5zM1573,984.5l-5-3l-13.5 4l-1.5 6l8 10.5l7.5-.5zM2110.5,791.5l1.5 2.5l.5-6zM1640,979.5l.5-19l-10-3.5l-.5 .5l-7 14l9.5 9.5l7-1zM1969,869l0 10.5l15.5 10.5l4.5-18l-17.5-4zM1744.5,1029.5l16.5 3.5l2-15l-8-8l-2-.5l-9.5 12zM1663.5,1018l10-7.5l-4-13l-9.5-1l-5.5 14.5zM1874,953l-7-4l-15 4l-3 4l8.5 13l15-2.5zM1639.5,980l-7 1l-8.5 11.5l10.5 10.5l5.5-1l5.5-9zM2011,822l3 10l11 0l4.5-6.5l-7.5-11zM2042.5,819l-3 5.5l5.5 11.5l6.5 2.5l3-.5l5-14l-7-6.5zM1580.5,983.5l-7.5 1l-4.5 17l6.5 5.5l13-9l-3.5-12zM1546.5,974l8 11.5l13.5-4l-2-13l-6.5-2.5l-13 7zM1947,858l6 11.5l15-1l-6.5-15l-10.5 0zM2110.5,749l3.5 5.5l10-1l1-2.5l-2-13.5l-6.5-2.5zM2005,819.5l-10 9l0 6.5l3 2.5l13-1l3-4.5l-3-10zM1985,891.5l-.5-1.5l-15.5-10.5l-8.5 8.5l5 10.5l12.5 1.5zM1948,877l-8.5 .5l-4.5 10.5l4.5 10l4 0l12-11zM1525.5,965.5l-12-3.5l-6 6l0 8.5l12 3.5l6.5-4zM1598,973.5l-9.5-9.5l-4.5 1.5l-3.5 18l4 2.5l12-5zM2109.5,806l2-7l.5-5l-1.5-2.5l-10 1l-.5 7l0 8z"/>
<path fill="#96c7df" d="M1010.5,649.5l4 14.5l18.5 1.5l.5-.5l1.5-20.5l-18-1.5zM1207,873l-18.5 2l-.5 .5l3 21.5l15.5 2.5l2-2l1-22.5zM1228.5,897.5l.5 1l19.5 2l3-3l.5-20.5l-2-1.5l-20 .5zM1147.5,875l19.5 .5l1-23.5l-1-1l-19.5-.5l-2 22.5zM1168,852l-1 23.5l1.5 1l19.5-1l.5-.5l-2-21zM1207,873l2.5 2l20.5 .5l-1.5-22.5l-1-1l-18.5 .5zM1344,977l5.5-7l0-1.5l-9-11l-5.5-1l-3 2l-.5 13.5zM1405,956l-2 15l2 2l18.5-1.5l-3.5-16l-13.5-.5zM1458,955l-16-1.5l-2 2l-.5 13l5.5 4.5l13.5-8zM1513.5,962l12 3.5l4.5-5l-2.5-12.5l-15-.5l-1.5 1.5zM1352,949.5l7.5 8l9.5 .5l1-1l0-17.5l-3.5-2.5l-14.5 4zM1387,938.5l-2-1.5l-15 2.5l0 17.5l16.5-2l1.5-1zM1405.5,940l1 15l13.5 .5l3.5-3l1-14.5l-5-4.5zM1442,953.5l16 1.5l4-4l-4.5-15.5l-1.5-1.5l-14 3.5zM1492,932l-14.5 3l-1 16.5l18.5-1l-1-17zM1350.5,939.5l-2.5-18l-15.5 1.5l-1 14.5l3 3zM1312,903.5l-2 17l4.5 2l17-1l-1-16zM1366,991l18.5-3l.5-13.5l-14.5-5.5l-6 7l0 13.5zM1387.5,972l-2.5 2.5l-.5 13.5l.5 .5l20.5 0l-.5-15.5l-2-2zM1500.5,983l7-6.5l0-8.5l-11.5-6l-8.5 8.5l11 12.5zM1650,1011.5l-8.5 12l9.5 9.5l13 0l-.5-15l-9-7zM377.5,710l-45-14l-33.5 25l-.5 1l31.5 31l45-21l9-14zM497.5,783l-7-22l-40.5-8l-41 77.5l64 18l23.5-40.5zM361.5,369l15.5 13l16-2.5l-1-43l-23.5-7.5zM260,241.5l4.5-7l-3.5-26l-21-13.5l-5.5-1l1 13l1.5 21.5l-1.5 6.5zM777.5,423.5l16 15.5l26.5-21.5l-5.5-23.5l-31 1l-9.5 10zM820,417.5l25 8l3.5-52l-17-5l-5 2.5l-12 23zM794,454.5l23 13l40.5-21l1.5-9l-14-12l-25-8l-26.5 21.5zM876,480.5l24 1.5l14.5-11l-2-40.5l-36.5-5.5l-17 12.5l-1.5 9zM922.5,805l-20.5-16.5l-12 6l-5.5 28l0 1l27 2l12-12zM923.5,813.5l-12 12l4.5 23l27.5-1l8-10l-.5-12.5zM1507.5,976.5l-7 6.5l9 12.5l9.5 0l.5-15.5zM1619,1015.5l11-3l4.5-9.5l-10.5-10.5l-3.5 .5l-6 9.5zM2077,828l2.5 0l3.5-2l-9-.5zM1658,993.5l1.5-12.5l-5.5-5l-14 3.5l-.5 .5l6 13zM2112.5,788l.5-7l-10-5.5l-1 4.5l-1 9.5l-.5 3l10-1zM1519.5,980l-.5 15.5l2 2l14.5-6l-.5-11.5l-9-4zM1554,1017.5l7 5l15.5-7.5l-1.5-8l-6.5-5.5l-7.5 .5l-8 10zM2054.5,838l9 4.5l2.5-.5l11-14l-3-2.5l-1-.5l-6.5-2.5l-7 1.5zM1597.5,1015.5l.5-13.5l-10-4l-13 9l1.5 8l3 3l17.5-2zM1598,1002l-.5 13.5l19.5 3l2-3l-4.5-13l-15-1.5zM1995,835l-12.5 4l-2.5 10.5l1 2.5l15 6.5l3-3.5l-1-17.5zM1791.5,1023l-11 2l-3.5 7l5.5 12.5l16-6l.5-.5zM1836,977l-15 0l-2 16.5l7.5 6l3 .5l9.5-7l1.5-11zM2014,832l-3 4.5l5.5 16l.5 0l12.5-4.5l1-2.5l-5.5-13.5zM1981,852l-1-2.5l-14-2l-4.5 6l6.5 15l1 .5l2.5-1zM1599.5,1001l15 1.5l6-9.5l-8.5-7.5l-8.5 2zM2114,754.5l-2 6l7.5 8.5l4.5-15.5zM1603.5,987.5l8.5-2l2.5-13.5l-4-3l-12.5 4.5l-1.5 7.5z"/>
<path fill="#9bc9e0" d="M938,620.5l-.5 22l25 3.5l3-3l-.5-20.5l-5.5-4.5zM1136,713.5l-.5 0l-2 23l22-.5l1-.5l-1-18zM1033,665.5l-.5 21.5l1.5 1l19.5-1.5l2-18.5l-1.5-1.5l-20.5-1.5zM1105,896l1-23l-.5-1l-20.5 2l-2 19l21 4zM1126,849.5l-22 .5l-.5 .5l2 21.5l.5 1l19.5-.5zM1147.5,850.5l0-.5l-21.5-.5l-.5 23l2.5 2.5l17.5-2zM1147,782l1 1l19.5-1l1.5-21l-12.5-4l-8 4zM1312,968.5l12-11l-9.5-13l-12 2l0 21zM1364.5,976l6-7l-1.5-11l-9.5-.5l-10 11l0 1.5zM1423.5,971.5l2 1.5l14-4.5l.5-13l-16.5-3l-3.5 3zM1684,1013l1.5 18l12.5-1.5l8.5-15l0-1.5l-17.5-4.5zM1717,1005.5l-7 2.5l-3.5 5l0 1.5l14.5 13l.5 0l8.5-12.5l-.5-2zM384,718l-9 14l1 78l28 22.5l5-2l41-77.5l-21.5-28l-20.5-7zM944,905l-31.5 13.5l-5.5 24l32.5 18.5l14-30.5zM694.5,1081l25.5 3l17-16.5l2-31.5l-54.5-27.5l-30.5 13l-.5 6zM287,328.5l4.5-13.5l-.5-.5l-27-3l-6 19l1 .5zM287,328.5l8 19l25-13l2-4.5l-4.5-17l-26 2zM377,382l-20 30.5l2.5 29.5l37.5 9l13-5.5l.5-50.5l-7.5-11l-10-4.5zM338,534.5l0 .5l50.5-6l8.5-78l-37.5-9l-21.5 11.5zM270.5,262.5l-8.5 16l7.5 16.5l16-.5l7.5-10.5zM899.5,1266.5l11.5-8l0-14.5l-31-24.5l-39 13l-3.5 4.5l3 2.5l5.5 16zM2016.5,852.5l-17.5 2.5l-3 3.5l0 9l8.5 6.5l15-4l-2.5-17.5zM2104,822.5l.5 0l0-1l5-15.5l-9.5 1.5l0 1.5l1.5 7zM2019.5,870l2.5 2l13.5-1l3.5-13l-9.5-10l-12.5 4.5zM1541.5,1006.5l-7.5 5l-.5 8l9 7l11.5-9l-1-5.5zM1706.5,1014.5l-8.5 15l10 9l13-11zM2030.5,845.5l-1 2.5l9.5 10l8-2.5l4.5-17l-6.5-2.5zM2078,849.5l8.5-7.5l-7-14l-2.5 0l-11 14zM1541.5,996l-6-4.5l-14.5 6l1.5 7l11.5 7l7.5-5zM1744.5,1029.5l-5.5 6.5l8.5 14.5l4 .5l9.5-9l.5-9l-.5 0zM1813,1017l2.5 4.5l13 .5l7.5-9l-6.5-13l-3-.5zM1487.5,970.5l-2 0l-9 13l12.5 9l9.5-9.5zM1916,930l-.5-5l-16-2.5l-6 10l9 11.5l.5 0z"/>
<path fill="#9dcbe1" d="M960.5,669.5l2-23.5l-25-3.5l-13.5 13.5l4 9.5zM985,673.5l2-1.5l1.5-25.5l-23-3.5l-3 3l-2 23.5zM1139.5,694l-2-2l-19.5-.5l-1 20.5l18.5 1.5l.5 0zM1076.5,669l-.5 21.5l19.5 0l0-21.5zM1095.5,690.5l2 1.5l17.5-3.5l1.5-18l-19.5-2.5l-1.5 1zM1250,921l3.5 2l17-3l1.5-20l-20.5-2.5l-3 3zM1128,875l-2.5-2.5l-19.5 .5l-1 23l18 3l3-2.5zM1186.5,900.5l4.5-3.5l-3-21.5l-19.5 1l-1 21.5zM1209.5,875l-1 22.5l20 0l1.5-21.5l0-.5zM1084,850l-2 21l3 3l20.5-2l-2-21.5l-18-1zM1045,826l-2.5-2.5l-19.5-1.5l-.5 .5l0 23.5l19 .5l3-2.5zM1171.5,830l-5-4.5l-19 2l0 22.5l0 .5l19.5 .5zM1299,1063l-18.5 3.5l2.5 20l14.5 3.5l4.5-2.5l2.5-20zM1323.5,1054l-5-12.5l-14.5-2l-5.5 4.5l.5 19l5.5 4.5l15-3.5zM1300,1018.5l4 21l14.5 2l5-7l-4.5-18zM1301,968.5l0 25l19 .5l3-3l-.5-12.5l-10.5-10l-9.5-1zM1314.5,944.5l3.5-3.5l-3.5-18.5l-4.5-2l-11 5l-.5 17.5l4 3.5zM1322.5,978.5l9-6.5l.5-13.5l-8-1l-12 11zM1476.5,983.5l-10 2l2.5 19.5l16 1l4-3.5l0-10zM1489,992.5l0 10l12 3l8.5-10l-9-12.5l-2 0zM1345.5,991l19-1.5l0-13.5l-15-6l-5.5 7l1 13.5zM1447.5,986l-2.5-13l-5.5-4.5l-14 4.5l-.5 14l2.5 2l20-2.5zM1628,1034l12.5-10.5l-10.5-11l-11 3l-2 3l.5 6.5zM749,1028.5l48 12.5l5.5-24l-43-21zM264,311.5l-1.5-7l-21-7l-1.5 1l-1.5 15l19 17l.5 0zM295,347.5l-4 12.5l39 11.5l2-2.5l-12-34.5zM281.5,366.5l0 .5l9.5-7l4-12.5l-8-19l-28 2.5zM263,253.5l-27.5 13.5l13 15.5l13.5-4l8.5-16zM285.5,294.5l-16 .5l-7 9.5l1.5 7l27 3zM783.5,395l-3-35.5l-18-2l-12.5 36l3 3.5l21 8zM814.5,394l12-23l-43-13l-3 1.5l3 35.5zM995.5,801.5l-30.5-2.5l-5.5 18.5l33.5 12l4.5-7zM1522.5,1004.5l-11 14l10.5 7.5l11.5-6.5l.5-8zM1956.5,915l-.5-4l-12.5-13l-4 0l-6 6l2 15.5l19-2zM1902.5,944l-9-11.5l-10 1l-3 16.5l12 4zM1809,1054l12-4.5l2-6.5l-10-12l-14 7l-.5 .5l6 14zM2011,836.5l-13 1l1 17.5l17.5-2.5zM1519,995.5l-9.5 0l-8.5 10l7.5 13l3 0l11-14l-1.5-7zM2104,822.5l-2.5-6.5l.5 2.5l1.5 4.5zM2103,836.5l1.5 .5l3-.5l0-1l-3.5-8.5l-3 1zM2004,885.5l.5-11.5l-8.5-6.5l-7 4.5l-4.5 18l.5 1.5l6.5 1.5zM1782.5,1044.5l-5.5-12.5l-15.5 1l-.5 9l11.5 7.5l9.5-4zM1721.5,1027.5l10 9.5l7.5-1l5.5-6.5l-1-8l-13.5-6.5zM2021,890.5l1-18.5l-2.5-2l-15 4l-.5 11.5l12.5 8.5zM1561,1002l-8-10.5l-11.5 4.5l0 10.5l11.5 5.5z"/>
<path fill="#a2cde3" d="M988.5,646.5l-1.5 25.5l21.5 .5l6-8.5l-4-14.5l-20-4.5zM1098,709.5l17 4l2-1.5l1-20.5l-3-3l-17.5 3.5zM994.5,888l-4.5 20.5l21 9l6-3.5l3-22.5zM1085,874l-3-3l-18.5 0l-1 21l18 3l2.5-2zM1125.5,828.5l-20-1.5l-1.5 23l22-.5zM1147.5,827.5l-1-.5l-20 .5l-1 1l.5 21l21.5 .5zM999,796.5l-3.5 5l2 21l25 0l.5-.5l.5-21.5zM1126.5,827.5l20-.5l-1-21.5l-19.5-1zM1146.5,827l1 .5l19-2l2-19.5l-.5-.5l-19.5-3l-3 3zM1168,805.5l1.5-22l-2-1.5l-19.5 1l.5 19.5zM1324,1010l-5 6.5l4.5 18l17.5-2.5l-.5-18.5zM1362,1013.5l5-5l-1-17.5l-1.5-1.5l-19 1.5l-.5 18.5zM1367,1008.5l16.5 3.5l4-4l-2.5-19.5l-.5-.5l-18.5 3zM1427.5,989l-2.5-2l-17.5 3.5l-1 16.5l18 4.5l5-4.5zM1323,991l22-.5l-1-13.5l-12.5-5l-9 6.5zM1405,973l.5 15.5l2 2l17.5-3.5l.5-14l-2-1.5zM1542.5,1026.5l.5 11l19.5 .5l-1.5-15.5l-7-5zM1687.5,1056l1.5-1.5l-4.5-23l-20 2l0 11.5l12 11.5zM320,672.5l3-30.5l-2.5-3.5l-32-5.5l-12.5 26.5l21 20.5zM797,1041l8.5 15l44-10.5l-6.5-43.5l-29.5 .5l-11 14.5zM281.5,619l18-48.5l-49-8l-11.5 31zM262.5,304.5l7-9.5l-7.5-16.5l-13.5 4l-7 15zM258,330.5l-.5 0l-12 10l-5 17l.5 .5l40.5 8.5l-22.5-35.5zM281.5,366.5l-40.5-8.5l-6 19l30.5 25l13-11.5l3-23.5zM357,412.5l20-30.5l-15.5-13l-24.5-1.5l-5 1.5l-2 2.5l-3 18.5zM260,241.5l-24.5-6.5l-5.5 28.5l-.5 2l6 1.5l27.5-13.5zM959.5,817.5l5.5-18.5l-8-21.5l-11.5-3.5l-23 31l1 8.5l27.5 11.5zM911.5,825.5l-27-2l-4 8l0 16.5l22 19.5l3.5-1.5l10-17.5zM2079.5,828l7 14l6 1l10.5-6.5l-2-8.5l-5 2.5l-5.5-2.5l-1.5-3l-.5 0l0 1l-5.5 0zM2039,858l-3.5 13l2 1.5l14.5 1l6.5-11.5l-11.5-6.5zM2060.5,861.5l5.5 1.5l12-9l0-4.5l-12-7.5l-2.5 .5zM1989,872l7-4.5l0-9l-15-6.5l-9.5 16zM1938,935l-11.5 7l-1 6l11 10l13-8.5l-.5-9.5zM1917,922.5l-1.5 2.5l.5 5l10.5 12l11.5-7l-3-15zM1973,919.5l7-8l-2-11.5l-12.5-1.5l-9.5 12.5l.5 4zM1628,1037.5l13.5 8l9.5-12.5l-9.5-9.5l-1 0l-12.5 10.5z"/>
<path fill="#a5cee3" d="M955,696l5.5-26.5l-32.5-4l-5 26l17.5 14.5l1 .5zM985.5,693.5l23.5 1l5-8l-5.5-14l-21.5-.5l-2 1.5zM1148.5,761l8-4l-1-21l-22 .5l0 .5l1.5 19zM1054,687.5l-.5-1l-19.5 1.5l-1 18l15.5 6l3.5-2zM1014.5,664l-6 8.5l5.5 14l18.5 .5l.5-21.5zM1074.5,667l-19 1l-2 18.5l.5 1l20.5 4l1.5-1l.5-21.5zM1206.5,899.5l1.5 19.5l6.5 4.5l12-2.5l2.5-22.5l-.5-1l-20 0zM1058.5,895l4-3l1-21l-3-2.5l-18 1.5l.5 23zM1063,849l-2.5 19.5l3 2.5l18.5 0l2-21l-18-2.5zM944.5,904l-.5 1l9.5 25.5l20 8.5l9.5-4l3.5-24zM1300.5,994l-3 22.5l2.5 2l19-2l5-6.5l-4-16l-19-.5zM1302.5,946.5l-4-3.5l-19.5 3l1 23.5l21-1l1.5-1zM1299,925.5l-8-5.5l-15.5 3.5l1.5 21l2 1.5l19.5-3zM1489,1002.5l-4 3.5l2.5 19.5l1 1l16.5-4l3.5-4l-7.5-13zM1320,994l4 16l16.5 3.5l4.5-4l.5-18.5l-.5-.5l-22 .5zM1447.5,986.5l-20 2.5l2 18l16.5 .5l1-1zM1466,1007.5l3-2.5l-2.5-19.5l0-.5l-19 1l0 .5l-.5 20zM1579.5,1018l1 17.5l17.5-.5l-1-19zM1664.5,1045l0-11.5l-.5-.5l-13 0l-9.5 12.5l2 12l1.5 1l6-.5zM1598,1035l3 2.5l3 0l13.5-12.5l-.5-6.5l-19.5-3l-.5 .5zM636,1054.5l21.5 67.5l3.5-1l33.5-40l-41-53.5zM551,835.5l-54.5-27.5l-23.5 40.5l14 23l48 16l7.5-5zM895.5,1003.5l4.5-9.5l-9-25l-43 4l-4 27.5zM864.5,1072l-14.5-26l-.5-.5l-44 10.5l-11 33.5l2 6.5l45.5 14.5zM241.5,542l9 20.5l49 8l30.5-13.5l8-22l0-.5l-57.5-29l-31 8.5zM257.5,330.5l-19-17l-19 12.5l26 14.5zM245.5,340.5l-26-14.5l-8.5 .5l9.5 23.5l20 7.5zM281.5,367l-3 23.5l32 11l16.5-11.5l3-18.5l-39-11.5zM997,772l-20.5-6l-19.5 11.5l8 21.5l30.5 2.5l3.5-5l0-21.5zM880.5,1178l-32.5-9.5l-7 64l39-13l7-26zM2104.5,837l7 16l0 .5l3.5-2.5l-7.5-14.5zM1886,975.5l9.5-6l1.5-3l-4.5-12.5l-12-4l-6.5 3l-1.5 14.5l5.5 6.5zM2014.5,901l2-7l-12.5-8.5l-12.5 7.5l9 13.5zM2000.5,906.5l-9-13.5l-6.5-1.5l-7 8.5l2 11.5l17 4zM1902.5,944l-10 10l4.5 12.5l16.5-4.5l1.5-8.5l-12-9.5zM1788.5,1059l4.5 1.5l11.5-8l-6-14l-16 6l-.5 1zM2051.5,838.5l-4.5 17l11.5 6.5l2-.5l3-19l-9-4.5zM1813,1031l10 12l13-6.5l.5-1l-8-13.5l-13-.5zM1915,953.5l10.5-5.5l1-6l-10.5-12l-13 14zM1618.5,1049.5l9.5-12l0-3.5l-10.5-9l-13.5 12.5zM2071.5,871.5l10-.5l5-9l-8.5-8l-12 9zM2096,858l15.5-5l-7-16l-1.5-.5l-10.5 6.5zM1676.5,1056.5l-12-11.5l-13.5 13l15.5 10.5z"/>
<path fill="#a9d1e5" d="M1133.5,736.5l2-23l-18.5-1.5l-2 1.5l-2 21l1.5 1.5l19 1zM1092.5,714l5.5-4.5l-.5-17.5l-2-1.5l-19.5 0l-1.5 1l-1 18zM1041,894l-20.5-2.5l-.5 0l-3 22.5l18.5 4.5l2.5-2zM1226.5,921l7 4l16.5-4l-1.5-20.5l-19.5-2zM1128,875l-2 21.5l19.5 3.5l2-1.5l0-23.5l-2-2zM1063.5,824l-18.5 2l-.5 18l18.5 5l3-1.5l1.5-21zM1085.5,849.5l18 1l.5-.5l1.5-23l-.5-1l-19-2zM1105,826l.5 1l20 1.5l1-1l-.5-23l-1-.5l-16 .5zM1126,804.5l19.5 1l3-3l-.5-19.5l-1-1l-18.5-.5l-1 1l-2.5 21.5zM1319.5,1064l-15 3.5l-2.5 20l13.5 4.5l7.5-3.5l1.5-18.5zM1277,1042.5l1 22l2.5 2l18.5-3.5l-.5-19l-19-3zM1281,1019l-1.5 22l19 3l5.5-4.5l-4-21l-2.5-2zM1485,1006l-16-1l-3 2.5l.5 20.5l21-2.5zM1405.5,988.5l-20.5 0l2.5 19.5l17.5 .5l1.5-1.5l1-16.5zM1576.5,1015l-15.5 7.5l1.5 15.5l16.5-1l1.5-1.5l-1-17.5zM1708.5,1051l.5-1l-1-11.5l-10-9l-12.5 1.5l-1 .5l4.5 23zM1708,1038.5l1 11.5l16-1.5l6.5-11.5l-10-9.5l-.5 0zM542.5,882.5l-7.5 5l-4.5 51.5l52.5 39.5l49.5-84l-2-2.5zM248.5,282.5l-13-15.5l-6-1.5l-6 17l-3 10l19.5 6l1.5-1zM240.5,357.5l-20-7.5l-32 34l9 7l37.5-14l6-19zM265.5,402l-10 31l33.5 19.5l25.5-6l-4-45l-32-11zM940.5,706l-22 27.5l19 23.5l20.5-28l-16.5-22.5zM977,732.5l-19-3.5l-20.5 28l0 2.5l2 6.5l6 8l11.5 3.5l19.5-11.5zM2037.5,904.5l-3-11.5l-13.5-2.5l-4.5 3.5l-2 7l9.5 13.5zM1809.5,1072l2.5-2l-3-16l-4.5-1.5l-11.5 8l3.5 10zM1731.5,1037l-6.5 11.5l7.5 10l6.5 1l8.5-9l-8.5-14.5zM2055.5,898.5l-.5-9l-16.5-1.5l-4 5l3 11.5l6 2zM1976.5,932l-3.5-12.5l-16.5-4.5l-2 2.5l0 17.5l16.5 2zM1935.5,919.5l-.5 .5l3 15l11 5l5.5-5l0-17.5z"/>
<path fill="#aed3e6" d="M981.5,699l4-5.5l-.5-20l-24.5-4l-5.5 26.5zM1067.5,826.5l-1.5 21l18 2.5l1.5-.5l.5-25.5l-1.5-1zM1128.5,781.5l18.5 .5l1.5-21l-13.5-5l-7.5 5zM1280,969.5l-1 1l1.5 20.5l20 3l.5-.5l0-25zM1343,1033.5l-2-1.5l-17.5 2.5l-5 7l5 12.5l20.5-1.5zM1340.5,1013.5l.5 18.5l2 1.5l19.5-2.5l-.5-17.5l-17-4zM1446,1007.5l.5 19.5l3 2.5l17-1.5l-.5-20.5l-19-1zM1533.5,1019.5l-11.5 6.5l1.5 11l3 2.5l15.5-.5l1-1.5l-.5-11zM1651,1058l-6 .5l-1 22.5l1 1l22-2l.5-.5l-1-11zM697,1139.5l31-22.5l-8-33l-25.5-3l-33.5 40zM842,1110.5l-45.5-14.5l-10.5 18.5l5.5 35l26.5 17l25-4l7.5-36zM220.5,292.5l-6.5 23l-4.5 10l1.5 1l8.5-.5l19-12.5l1.5-15zM265.5,402l-30.5-25l-37.5 14l1.5 3.5l53.5 39.5l3-1zM310.5,401.5l4 45l23.5 7l21.5-11.5l-2.5-29.5l-30-22.5zM338,534.5l0-81l-23.5-7l-25.5 6l-8.5 53zM958,729l19 3.5l7-22.5l-2.5-11l-26.5-3l-13.5 10.5zM984,710l25.5 2.5l3.5-4.5l-4-13.5l-23.5-1l-4 5.5zM899.5,1266.5l-53.5-11l4 11l6.5 27l19 19l8 5.5zM2078,854l8.5 8l8.5-2l1-2l-3.5-15l-6-1l-8.5 7.5zM1824,1071.5l-12-1.5l-2.5 2l-1.5 14l13.5 3l5.5-10zM1954.5,935l-5.5 5l.5 9.5l11 8l10.5-5l0-15.5zM1997,915.5l-17-4l-7 8l3.5 12.5l10.5 2l12-13.5zM1831,1061l-10-11.5l-12 4.5l3 16l12 1.5zM1872.5,967.5l-15 2.5l-3.5 8.5l10.5 13.5l2.5 0l11-18zM2021,918l3-2.5l0-1l-9.5-13.5l-14 5.5l-3.5 9l2 5l3 1.5zM2055,889.5l3-4.5l-6-11.5l-14.5-1l1 15.5zM1772.5,1049.5l-11.5-7.5l-9.5 9l9 12l8.5-2zM1777.5,1074l14 3l5-6.5l-3.5-10l-4.5-1.5l-12 9z"/>
<path fill="#b1d5e7" d="M1127.5,761l7.5-5l-1.5-19l-19-1l-2.5 22zM1029,732l-.5-23.5l-15.5-.5l-3.5 4.5l0 16.5l19 3zM1093,734l20 .5l2-21l-17-4l-5.5 4.5zM1073.5,709.5l1-18l-20.5-4l-2 22.5l18.5 2zM1080.5,895l-18-3l-4 3l2.5 24l2 2l16.5-5zM1206.5,899.5l-15.5-2.5l-4.5 3.5l0 20.5l3.5 2.5l18-4.5zM1147.5,898.5l18.5 .5l1.5-1l1-21.5l-1.5-1l-19.5-.5zM1023.5,800.5l-.5 21.5l19.5 1.5l4-22l-1.5-1.5zM999,775l0 21.5l24.5 4l3-23zM1109,804.5l16-.5l2.5-21.5l-19.5-2.5l-2 1.5l-.5 20zM1277,944.5l-1.5-21l-5-3.5l-17 3l2.5 24l.5 .5zM1345,1053.5l-1-1l-20.5 1.5l-4 10l5 6l21 2zM1466.5,1028l-17 1.5l-2.5 17.5l3 3l20-1.5zM1491,1046.5l1 .5l14-2l2-3l-3-19.5l-16.5 4zM1404,1029l1-20.5l-17.5-.5l-4 4l1 17.5l.5 .5zM1429.5,1007l-5 4.5l2 16.5l1 1l19-2l-.5-19.5zM1562.5,1038l-19.5-.5l-1 1.5l1.5 18.5l17.5-1zM1580.5,1035.5l-1.5 1.5l3.5 18.5l13.5-1l5-17l-3-2.5zM1505,1022.5l3 19.5l15.5-5l-1.5-11l-10.5-7.5l-3 0zM1643.5,1057.5l-2-12l-13.5-8l-9.5 12l.5 9.5l2.5 1.5zM299,721l33.5-25l-12.5-23.5l-23 7.5l-3 5l3.5 33.5zM913.5,1200.5l-26.5-7l-7 26l31 24.5l11-14zM1788.5,1059l-6.5-13.5l-9.5 4l-3.5 11.5l7.5 7zM2101,873l7-1l6-1.5l2.5-8l-5-9l0-.5l-15.5 5l-1 2zM1987,934l-10.5-2l-5.5 5l0 15.5l13 5.5l1.5-1l5-17zM2038.5,888l-1-15.5l-2-1.5l-13.5 1l-1 18.5l13.5 2.5zM2058.5,862l-6.5 11.5l6 11.5l9-1.5l4.5-12l-5.5-8.5l-5.5-1.5zM1791.5,1077l2.5 8l12 2.5l2-1.5l1.5-14l-13-1.5z"/>
<path fill="#b6d7e8" d="M1014,686.5l-5 8l4 13.5l15.5 .5l4.5-2.5l1-18l-1.5-1zM1058.5,895l-15.5-2l-2 1l-3 22.5l23 2.5zM1104,897l-21-4l-2.5 2l-1 21l6.5 3.5l14-3.5zM1042.5,823.5l2.5 2.5l18.5-2l-1-21.5l-16-1zM1063.5,824l4 2.5l17-3.5l0-20l-19.5-2.5l-2.5 2zM1084.5,803l0 20l1.5 1l19 2l4-21.5l-3.5-3zM1045,780l-18.5-3l0 .5l-3 23l21.5-.5zM1257,1041.5l20 1l2.5-1.5l1.5-22l-.5-.5l-21.5-.5zM1280.5,1018.5l.5 .5l16.5-2.5l3-22.5l-20-3l-4 3.5zM1257,969.5l22 1l1-1l-1-23.5l-2-1.5l-20.5 3zM971.5,960l2-21l-20-8.5l-14 30.5l1 2zM1487.5,1025.5l-21 2.5l3.5 20.5l1 1l20-3l-2.5-20zM1362.5,1031l2 2l20-3.5l-1-17.5l-16.5-3.5l-5 5zM1426.5,1028l-2-16.5l-18-4.5l-1.5 1.5l-1 20.5l3.5 4zM1562.5,1038l-1.5 18.5l3 3l17.5-3l1-1l-3.5-18.5zM1647,1103.5l2.5 2l19.5-2.5l-2-23l-22 2zM1711.5,1095l0-19l-20.5-1l-3 3.5l3 20l4.5 2.5zM1667.5,1079.5l20.5-1l3-3.5l-3.5-19l-11 .5l-10 12zM1691,1075l20.5 1l2.5-3l-5.5-22l-19.5 3.5l-1.5 1.5zM1720,1073l12.5-14.5l-7.5-10l-16 1.5l-.5 1l5.5 22zM939.5,961l-32.5-18.5l-11 8l-5 18.5l9 25l36-7l3-4.5l1.5-19.5zM898.5,1023l-3-19.5l-51.5-3l-1 1.5l6.5 43.5l.5 .5zM188.5,384l32-34l-9.5-23.5l-1.5-1l-9 22.5l-11 24l-5 10.5zM1009.5,729l0-16.5l-25.5-2.5l-7 22.5l24.5 3.5zM1008,753.5l-6.5-17.5l-24.5-3.5l-.5 33.5l20.5 6zM843,1162.5l-25 4l-18 32l18.5 22l19 16.5l3.5-4.5l7-64zM2021,918l-1.5 21.5l2 1l17-4.5l1-9l-15.5-11.5zM1744,1070.5l-5-11l-6.5-1l-12.5 14.5l12.5 7.5zM1777.5,1074l-4 6l11.5 12.5l2.5 0l6.5-7.5l-2.5-8zM1829.5,1000l6.5 13l10 2l9-9.5l0-3l-16-9.5zM1999,920.5l-12 13.5l3.5 6l15 3l5-3.5l-8.5-17.5zM2101,873l-6-13l-8.5 2l-5 9l1.5 2l2.5 0l2.5 7l7-2.5l4.5-1.5zM2039.5,927l9.5-7.5l-5.5-13l-6-2l-13.5 10l0 1zM1959,971l1.5-13.5l-11-8l-13 8.5l-1 5l12 13zM2081.5,871l-10 .5l-4.5 12l8.5 6.5l11.5-5l-2.5-1.5l-2-10.5l.5 0zM1844.5,1083l-17.5-4l-5.5 10l3 7.5l2.5 1l14.5-4.5l4-9zM1935.5,963l1-5l-11-10l-10.5 5.5l-1.5 8.5l8 10zM1839,993l16 9.5l9.5-10.5l-10.5-13.5l-13.5 3.5zM2010.5,939.5l9 0l1.5-21.5l-19 4zM1907.5,982.5l13.5-8l.5-2.5l-8-10l-16.5 4.5l-1.5 3zM2055.5,920.5l9-15l-9-7l-12 8l5.5 13zM1808,1086l-2 1.5l-1 13.5l9.5 3.5l10-8l-3-7.5zM1523.5,1037l-15.5 5l-2 3l9 13.5l10 1.5l1.5-20.5zM1844,1048.5l-11 12.5l11.5 8l11-7l-4.5-12z"/>
<path fill="#b8d8e9" d="M1033,706l-4.5 2.5l.5 23.5l17.5-2l2-18zM1075.5,735l17.5-1l-.5-20l-19-4.5l-3 2.5l-.5 19zM1046.5,801.5l16 1l2.5-2l0-23l-16.5-.5l-3.5 3l0 20zM1127.5,782.5l1-1l-1-20.5l-15.5-3l-3 2l-1 20zM1280.5,1066.5l-2.5-2l-17.5 3.5l0 22l11.5 3.5l11-7zM1253.5,923l-3.5-2l-16.5 4l0 21l1.5 1.5l21-.5zM1324.5,1070l-1.5 18.5l19.5 6l0-.5l4-20.5l-1-1.5zM1387.5,1051.5l-2.5-21.5l-.5-.5l-20 3.5l1.5 18l2.5 3zM1430,1050l-2.5-21l-1-1l-19 5l-.5 16l2.5 2.5zM1449.5,1029.5l-3-2.5l-19 2l2.5 21l17-3zM1581.5,1056.5l-17.5 3l0 16.5l18.5 1.5l2-2zM1604,1062.5l-8-8l-13.5 1l-1 1l3 19l15-1zM1525,1060l1 .5l17-2.5l.5-.5l-1.5-18.5l-15.5 .5zM1604,1115l4.5 17l19.5-2l-1.5-22.5l-17.5 1.5zM1626.5,1107.5l-4.5-23.5l-15 1.5l-5 8l7 15.5zM1669,1103l2 1.5l20-6l-3-20l-20.5 1l-.5 .5zM1622,1084l2-2l-2.5-21.5l-2.5-1.5l-15 3.5l-4.5 12l7.5 11zM1645,1058.5l-1.5-1l-22 3l2.5 21.5l20-1zM1604,1062.5l15-3.5l-.5-9.5l-14.5-12l-3 0l-5 17zM739,1036l-2 31.5l57.5 22l11-33.5l-8.5-15l-48-12.5zM249.5,514l31-8.5l8.5-53l-33.5-19.5l-3 1l-15.5 16l1.5 52.5zM1836,1036.5l-13 6.5l-2 6.5l10 11.5l2 0l11-12.5zM1983.5,967l.5-9l-13-5.5l-10.5 5l-1.5 13.5l8.5 6zM1889.5,990l10 3.5l6.5-4l1.5-7l-12-13l-9.5 6zM2064.5,905.5l10.5-.5l.5-15l-8.5-6.5l-9 1.5l-3 4.5l.5 9zM2111.5,853.5l5 9l4.5-.5l-5.5-9.5l-.5-1.5zM1985.5,957l18.5 0l1.5-14l-15-3zM1944.5,983l3-7l-12-13l-14 9l-.5 2.5l9 13zM2006.5,969l1-7l-3.5-5l-18.5 0l-1.5 1l-.5 9l9.5 10zM1747.5,1050.5l-8.5 9l5 11l10 3.5l6.5-11l-9-12zM1836,1013l-7.5 9l8 13.5l13-8l-3.5-12.5zM1755,1076l-1-2l-10-3.5l-11.5 10l2 7.5l15.5 1.5zM1844.5,1069l-11.5-8l-2 0l-7 10.5l3 7.5l17.5 4z"/>
<path fill="#bddbea" d="M1027.5,754l1-22l-19-3l-8 7l6.5 17.5zM1114.5,736l-1.5-1.5l-20-.5l0 22.5l16 3.5l3-2zM1070.5,712l-18.5-2l-3.5 2l-2 18l5.5 6l18-5zM1107.5,922l16-3l-.5-20l-18-3l-1 1l-4 19zM1169.5,922.5l17-1.5l0-20.5l-19-2.5l-1.5 1l.5 21zM1106,781.5l-18.5-2.5l-2 2l-1 22l21-1.5zM1028.5,754.5l-1-.5l-19.5-.5l-11 18.5l2 3l27.5 2.5l0-.5zM1237,1039l19 3.5l1-1l2-23.5l-4-4l-20.5 2.5zM1259,1018l21.5 .5l-4-24l-18 .5l-3.5 19zM1211,944.5l2.5 2.5l20-1l0-21l-7-4l-12 2.5zM1366,1051l-21 2.5l.5 18.5l1 1.5l20.5-1l1.5-18.5zM1450,1050l.5 18.5l2.5 2l17-3l1-18l-1-1zM1364.5,1033l-2-2l-19.5 2.5l1 19l1 1l21-2.5zM1407,1049l.5-16l-3.5-4l-19 1l2.5 21.5l.5 .5zM720,1084l8 33l13.5 8.5l44.5-11l10.5-18.5l-2-6.5l-57.5-22zM237.5,639.5l2 .5l45-11.5l-3-9.5l-42.5-25.5l-7.5 5l-2.5 6zM905.5,1157.5l-25 20.5l6.5 15.5l26.5 7l7-7.5l2.5-30.5l0-1zM945,1198.5l-.5-.5l-24-5l-7 7.5l8.5 29.5l17-6zM940.5,1275.5l-29.5-17l-11.5 8l-16 51.5l16.5 11l16.5 5.5l13.5-14l10.5-21.5l7-2.5zM2039.5,927l-1 9l5 5.5l18.5-5l2.5-6.5l-9-9.5l-6.5-1zM2043.5,949.5l0-8l-5-5.5l-17 4.5l3 17l4 3zM1769,1061l-8.5 2l-6.5 11l1 2l15 6l3.5-2l4-6l-1-6zM1814.5,1104.5l2 12.5l17-1.5l-6.5-18l-2.5-1zM1867,992l11 7l11.5-9l-3.5-14.5l-8-1.5zM2101,873l-1.5 3l6.5-3l2-1zM1856,1085l7.5-5l-1-15l-7-3l-11 7l0 14l1 1zM1794,1085l-6.5 7.5l9.5 12.5l8-4l1-13.5zM2043.5,949.5l8 7l12-3.5l2.5-5l-4-11.5l-18.5 5zM2005.5,943l-1.5 14l3.5 5l17-4.5l-3-17l-2-1l-9 0zM1797,1105l-9.5-12.5l-2.5 0l-8.5 8l1 7.5l6 4.5l12-3zM1773.5,1080l-3.5 2l-4 13l10.5 5.5l8.5-8z"/>
<path fill="#c2ddec" d="M1084.5,803l1-22l-20.5-3.5l0 23zM1045.5,755l-17-.5l-2 22.5l18.5 3l3.5-3zM1035.5,941.5l0-23l-18.5-4.5l-6 3.5l-1.5 19.5l9 6.5zM1236,1085.5l17 8l7.5-3.5l0-22l-6-5l-17 5zM1276.5,994.5l4-3.5l-1.5-20.5l-22-1l-1 1l1 23l1.5 1.5zM1302,1087.5l-4.5 2.5l-2.5 24l21.5 1.5l.5-.5l-1.5-23zM1315.5,1092l1.5 23l24-3.5l1.5-17l-19.5-6zM1450.5,1068.5l-.5-18.5l-3-3l-17 3l2 18.5zM1569,1156l-1-19l-1.5-1.5l-16.5 2.5l1.5 19l16 .5zM1568,1137l19.5-1l1-1l-3-17.5l-18-.5l-.5 .5l-.5 18zM1588,1114.5l-2.5 3l3 17.5l18.5-1.5l1.5-1.5l-4.5-17zM1567.5,1117l-.5-18.5l-1-1l-19.5 1.5l1 18l19.5 .5zM1583.5,1094.5l-16.5 4l.5 18.5l18 .5l2.5-3l-1.5-18zM1562,1077.5l-15.5 1.5l-2 2l0 16l2 2l19.5-1.5zM1564,1076l-2 1.5l4 20l1 1l16.5-4l-1-17zM1607,1085.5l-7.5-11l-15 1l-2 2l1 17l3 2l15.5-3zM1561,1056.5l-17.5 1l-.5 .5l3.5 21l15.5-1.5l2-1.5l0-16.5zM1691,1098.5l-20 6l3.5 20.5l.5 0l22-.5l2-2l-3.5-21.5zM1624,1082l-2 2l4.5 23.5l20.5-4l-2-21.5l-1-1zM908.5,1049l-3.5-18.5l-6.5-7.5l-48.5 23l14.5 26l29.5 4.5zM818,1166.5l-26.5-17l-27.5 19l7 .5l12 11l14 14.5l3 4zM923,1162.5l-2.5 30.5l24 5l.5-17zM939,1224l-17 6l-11 14l0 14.5l29.5 17l28-24.5l1.5-4l-2.5-9l-5-6zM2024.5,957.5l-17 4.5l-1 7l10.5 11.5l4.5-1.5l8-17l-1-1.5zM1760,1098l6-3l4-13l-15-6l-5 13.5l3.5 6zM1967.5,994l4-3.5l-4-13.5l-8.5-6l-11.5 5l-3 7l7 12zM1849.5,1027.5l-13 8l-.5 1l8 12l7 1.5l7-6.5l-4-14zM1924,1014.5l12-4.5l1-2.5l-9-15.5l-10.5 5l-2 11.5zM2094,884.5l1.5-3l-4 2.5zM2114,870.5l.5 0l11 2.5l1 3l3-1l-5.5-7l-3-6l-4.5 .5zM2079.5,912.5l0-3.5l-4.5-4l-10.5 .5l-9 15l9 9.5l3-1l10.5-14.5l-2-.5l0-1.5l3.5 .5zM2002.5,991.5l12-4.5l2.5-6.5l-10.5-11.5l-13.5 8l0 .5zM1993,977.5l0-.5l-9.5-10l-16 10l4 13.5l6.5 1.5zM1827,1097.5l6.5 18l.5 .5l5-.5l7.5-10.5l-5-12zM2029.5,962l10.5 7.5l9.5-3l2-10l-8-7l-15 11zM1928,992l2-4.5l-9-13l-13.5 8l-1.5 7l11.5 7.5zM2036.5,986l2.5-1.5l1-15l-10.5-7.5l-8 17z"/>
<path fill="#c5dfec" d="M1072.5,756l3-21l-5.5-4l-18 5l-.5 14l17 8zM1072.5,756l16 3.5l4.5-3l0-22.5l-17.5 1zM1126,896.5l-3 2.5l.5 20l4 3.5l17.5-4l.5-18.5zM1166,899l-18.5-.5l-2 1.5l-.5 18.5l5 4l16.5-2.5zM1065,777.5l20.5 3.5l2-2l1-19.5l-16-3.5l-4 2zM1109,760l-16-3.5l-4.5 3l-1 19.5l18.5 2.5l2-1.5zM1011,917.5l-21-9l-3.5 2.5l-3.5 24l12.5 6.5l14-4.5zM1063,921l-2-2l-23-2.5l-2.5 2l0 23l3 2l23-3zM1257,1041.5l-1 1l-1.5 20.5l6 5l17.5-3.5l-1-22zM1209.5,1045l6-4.5l-1.5-21l-2.5-1.5l-17.5 2.5l-1.5 17.5zM1235,947.5l-1.5-1.5l-20 1l-.5 21.5l3 2.5l18-.5zM1256,947l-21 .5l-1 23l.5 .5l21.5-.5l1-1l-.5-22zM1190,923.5l.5 20l1.5 1l19 0l3.5-21l-6.5-4.5zM1283,1086.5l-11 7l4.5 19.5l18.5 1l2.5-24zM961,1157l-4-3l-27 1.5l-7 6l0 1l22 18.5l16-7zM1409.5,1051.5l-2.5-2.5l-19 3l2 19.5l20 .5l.5-.5zM1494,1068l-2-21l-1-.5l-20 3l-1 18l2 2zM1505,1068l10-9.5l-9-13.5l-14 2l2 21l.5 1zM1588,1155.5l.5-1l-1-18.5l-19.5 1l1 19zM1587.5,1136l1 18.5l20 1l-1.5-22l-18.5 1.5zM1602,1093.5l-15.5 3l1.5 18l16 .5l5-6zM1544.5,1081l2-2l-3.5-21l-17 2.5l0 18zM1719.5,1133.5l2 11l15.5-2.5l3-16l-9.5-5zM1629,1131l21-2l-.5-23.5l-2.5-2l-20.5 4l1.5 22.5zM1699,1122.5l7 0l12.5-11.5l-2-12.5l-5-3.5l-16 6zM1730.5,1095l4-7l-2-7.5l-12.5-7.5l-6 0l-2.5 3l0 19l5 3.5zM606.5,1171l44 6.5l6-55l-60.5-1.5zM894,1076.5l-29.5-4.5l-22.5 38.5l8.5 16l43.5-3l17-22zM264,669l12-9.5l12.5-26.5l-4-4.5l-45 11.5zM199,394.5l-7.5 50l12 8l33.5-2.5l15.5-16zM1881,1078.5l1.5-13l-4-7l-3-1l-13 7.5l1 15l12 3zM1864.5,992l-9.5 10.5l0 3l13.5 12.5l13-7.5l-3.5-11.5l-11-7zM1816.5,1117l-2-12.5l-9.5-3.5l-8 4l-1.5 4.5l5 10l14.5-.5zM1948,1003l3.5-8l-7-12l-14.5 4.5l-2 4.5l9 15.5zM1766,1114l11.5-6l-1-7.5l-10.5-5.5l-6 3l2.5 15zM1898.5,1005.5l-14.5 6l6.5 14l14.5-3.5l2-10zM1851,1050l4.5 12l7 3l13-7.5l-5.5-12.5l-12-1.5zM2094,884.5l2.5 4.5l10 2.5l8.5-5l-1-7.5l3.5 0l0 6l1-.5l.5-5l-1.5-2l-8-1l-10.5 3.5l-3.5 1.5zM2075.5,890l-.5 15l4.5 4l12-4l5-16l-2.5-4.5l-2.5-.5l-3.5 1.5l-1-.5zM1924,1014.5l-8.5-6l-8.5 3.5l-2 10l7 9l10.5 1zM1846,1015l3.5 12.5l4.5 2l13-6l1.5-5.5l-13.5-12.5zM1917.5,997l-11.5-7.5l-6.5 4l-1 12l8.5 6.5l8.5-3.5zM2008.5,1009l-6.5-16l-15.5 8.5l0 6l17 6.5zM1961,1017.5l5-3l1.5-20.5l-16 1l-3.5 8z"/>
<path fill="#cae1ee" d="M1065,777.5l3.5-19.5l-17-8l-6 5l3 22zM1079.5,916l-16.5 5l-1.5 19.5l1 1l19 5.5l6.5-5.5l-2-22zM1208.5,1062.5l1-17.5l-17-7l-5 3.5l1.5 23.5l1.5 1zM1232,1063l5.5 5l17-5l1.5-20.5l-19-3.5l-4.5 4zM1234.5,1016.5l-20.5 3l1.5 21l17 2.5l4.5-4zM1170.5,1019l19-3l.5-22l-16-2.5l-7 5l-1 18.5zM1191.5,967l3 3l18.5-1.5l.5-21.5l-2.5-2.5l-19 0zM983,935l-9.5 4l-2 21l2 2l19 2l1.5-1l1.5-21.5zM1341,1111.5l2 3l22.5-1.5l1.5-18.5l-24.5-.5l0 .5zM1475,1110l17.5-4l.5-17l-19-2.5l-3.5 4zM1492.5,1106l2 1.5l14 .5l6-6.5l-7-13l-14-.5l-.5 1zM1342.5,1094l24.5 .5l.5-.5l0-20.5l-.5-1l-20.5 1zM1410,1072l-20-.5l-3 3.5l2.5 17.5l19 1zM1493,1089l.5-1l1-19l-.5-1l-22 1.5l2 17zM1367,1072.5l.5 1l19.5 1.5l3-3.5l-2-19.5l-.5-.5l-19 2.5zM1432,1068.5l-2-18.5l-20.5 1.5l1 20l18.5 1zM1590,1177.5l18-4.5l.5-17.5l-20-1l-.5 1l0 19.5zM1544.5,1119.5l-15-.5l-2 2l-1.5 16.5l6.5 4l15-5.5zM1566.5,1135.5l.5-18l-19.5-.5l-3 2.5l3 16.5l2.5 2zM1529.5,1119l-2.5-18.5l-1.5-.5l-11 1.5l-6 6.5l5.5 11.5l13.5 1.5zM1507.5,1088.5l7 13l11-1.5l-1-20l-9 .5zM1527,1100.5l17.5-3.5l0-16l-18.5-2.5l-1.5 1.5l1 20zM1654,1151.5l1-1.5l-4-20.5l-1-.5l-21 2l1 23zM1651,1129.5l4 20.5l8 0l12.5-12l-.5-13l-.5 0zM1675,1125l.5 13l12 10.5l10-1l-.5-23zM1671,1104.5l-2-1.5l-19.5 2.5l.5 23.5l1 .5l23.5-4.5zM1729,1117l9-11.5l-7.5-10.5l-14 3.5l2 12.5zM654,1021.5l-10.5-9.5l-58-25l-29.5 36.5l3 22l41.5 30.5l35.5-21.5l17.5-27zM600.5,1076l-5.5 43.5l1 1.5l60.5 1.5l1-.5l-21.5-67.5zM843,1162.5l5 6l32.5 9.5l25-20.5l-11.5-34l-43.5 3zM961,1174l-16 7l-.5 17l.5 .5l24.5 1l4-3l.5-11zM2003.5,1014l-17-6.5l-7 9l3 7.5l17.5 5.5l1 0l2-3zM1796,1131.5l-5 13.5l14 9l3-1l3-15.5zM2068.5,965l-5-12l-12 3.5l-2 10l10 9zM1986.5,1001.5l15.5-8.5l.5-1.5l-9.5-14l-15 14.5zM1961,1017.5l-13-14.5l-11 4.5l-1 2.5l6 12.5l16.5-.5zM1863.5,1080l-7.5 5l7.5 19.5l3-.5l10-11.5l-1-9.5zM1762.5,1113l-2.5-15l-6.5-2.5l-9.5 11l7.5 12zM1966,1014.5l13.5 2l7-9l0-6l-8.5-9.5l-6.5-1.5l-4 3.5zM1773.5,1129.5l-7.5-15.5l-3.5-1l-11 5.5l-1 4l6 9l14.5 2.5zM1867,1023.5l8.5 11.5l12-1.5l3-8l-6.5-14l-2.5-1l-13 7.5zM1923.5,1047l1.5-13l-2.5-2l-10.5-1l-12.5 14.5l4 5.5l11.5 2.5zM1881.5,1010.5l2.5 1l14.5-6l1-12l-10-3.5l-11.5 9zM1818,1134.5l-3-15.5l-14.5 .5l-4.5 11.5l0 .5l15 6zM1959.5,1029l-1-7l-16.5 .5l-6 10.5l11.5 10zM1912,1031l-7-9l-14.5 3.5l-3 8l8.5 11l3.5 1zM1858,1043.5l12 1.5l5.5-10l-8.5-11.5l-13 6zM1783.5,1112.5l-6-4.5l-11.5 6l7.5 15.5l8-3.5z"/>
<path fill="#cce2ef" d="M1051.5,750l.5-14l-5.5-6l-17.5 2l-.5 0l-1 22l1 .5l17 .5zM1212,1065.5l1.5 21.5l15 3l7.5-4.5l1.5-17.5l-5.5-5zM1194,1020.5l-4.5-4.5l-19 3l-1 21l18 1.5l5-3.5zM1211.5,1018l-.5-23l-19.5-2l-1.5 1l-.5 22l4.5 4.5zM1213,993l-2 2l.5 23l2.5 1.5l20.5-3l-3-20zM1231.5,996.5l3 20l20.5-2.5l3.5-19l-1.5-1.5l-21.5-1zM1257,993.5l-1-23l-21.5 .5l1 21.5zM1170.5,945.5l20-2l-.5-20l-3.5-2.5l-17 1.5l-1 22zM1009.5,937l-14 4.5l-1.5 21.5l20 3l4.5-22.5zM1061.5,940.5l-23 3l1 22.5l19 2l4-26.5zM1369.5,1117l17.5-4.5l-1.5-16.5l-18-2l-.5 .5l-1.5 18.5zM1389.5,1092.5l-4 3.5l1.5 16.5l3 3l19.5-3.5l0-17.5l-1-1zM1367.5,1073.5l0 20.5l18 2l4-3.5l-2.5-17.5zM1451.5,1091l1.5-20.5l-2.5-2l-18.5 0l-3 4l3.5 16.5zM1507.5,1088.5l8-8l-10.5-12.5l-10.5 1l-1 19zM1569.5,1175.5l18.5-.5l0-19.5l-19 .5l-1.5 1.5zM1547.5,1117l-1-18l-2-2l-17.5 3.5l2.5 18.5l15 .5zM1524.5,1080l1.5-1.5l0-18l-1-.5l-10-1.5l-10 9.5l10.5 12.5zM1697,1124.5l.5 23l2.5 1.5l21-4l.5-.5l-2-11l-13.5-11l-7 0zM330,753l-20.5 47.5l3 3l63.5 6.5l-1-78zM919,1102l7-4l12.5-15.5l0-25l-30-8.5l-14.5 27.5l17 25zM894,1123.5l11.5 34l17.5 4l7-6l6-27l-17-26.5l-8-.5zM697,1139.5l-36-18.5l-3.5 1l-1 .5l-6 55l44.5 6.5l2.5-23l4 .5zM237,450l-33.5 2.5l-9 44.5l44 5.5zM945,1198.5l-6 25.5l23.5 8l7-32.5zM1914,1076l14.5 8.5l8.5-6.5l-3-13.5l-15.5 3zM1841.5,1093l5 12l16 .5l1-1l-7.5-19.5l-10.5-1zM1903.5,1051l-4.5 15l4.5 7.5l10.5 2.5l4.5-8.5l-3.5-14zM1875.5,1057.5l3 1l17.5-14l-8.5-11l-12 1.5l-5.5 10zM1771.5,1137l-.5-3l-14.5-2.5l-9 17l.5 1l15.5 2zM1770,1161l13-6l2.5-7.5l-14-10.5l-8 14.5zM1823.5,1136.5l6.5-3l4-17.5l-.5-.5l-17 1.5l-1.5 2l3 15.5zM1832,1156.5l-5-.5l-4.5 2.5l-3 11l8.5 10.5l14-3.5zM2034,996.5l2.5-10.5l-15-7l-4.5 1.5l-2.5 6.5l7.5 11.5zM2119,879.5l3-1.5l-4-.5l-.5 0zM1738,1105.5l6 1l9.5-11l-3.5-6l-15.5-1.5l-4 7zM2041,1007l14-9.5l-4.5-11.5l-11.5-1.5l-2.5 1.5l-2.5 10.5zM1894,1083l2.5 12l5.5 2.5l6.5-2l5.5-19.5l-10.5-2.5zM1959.5,1068l7-10l-3.5-7l-15-4l-6.5 10l12 12zM1808,1153l-3 1l-6 12.5l7.5 9l13-6l3-11zM1936,1033l6-10.5l-6-12.5l-12 4.5l-1.5 17.5l2.5 2zM1795.5,1109.5l-12 3l-2 13.5l14.5 5l4.5-11.5zM1730.5,1121l9.5 5l10.5-3.5l1-4l-7.5-12l-6-1l-9 11.5zM2067.5,929l-3 1l-2.5 6.5l4 11.5l13.5 .5l7-10.5l-4.5-3.5zM2041,1007.5l0-.5l-7-10.5l-12 2l-5 9.5l8 8.5l9-5.5l4-1zM1677.5,1161l10-12.5l-12-10.5l-12.5 12zM1846.5,1105l-7.5 10.5l9 7.5l12.5-3.5l2-14zM2090.5,927l-9-11.5l-3.5-1l-10.5 14.5l14.5 5.5l-2.5-1.5l2.5 0l5 3.5l.5 0l1 0zM1828,1180l-5 12l17.5 11l.5-.5l3.5-4.5l-2.5-21.5zM2079.5,948.5l-13.5-.5l-2.5 5l5 12l5 .5l6-7.5l3.5-1.5zM2017,1008l5-9.5l-7.5-11.5l-12 4.5l-.5 1.5l6.5 16zM1719.5,1133.5l11-12.5l-1.5-4l-10.5-6l-12.5 11.5zM1783,1155l9.5 11.5l6.5 0l6-12.5l-14-9l-5.5 2.5z"/>
<path fill="#d1e5f0" d="M1189,1065l-20.5-.5l0 23l18 3.5l3.5-2l.5-23zM1187.5,1041.5l-18-1.5l-2.5 2l-.5 20.5l2 2l20.5 .5zM1212,1065.5l20-2.5l.5-20l-17-2.5l-6 4.5l-1 17.5zM1234.5,971l-.5-.5l-18 .5l-3 22l18.5 3.5l4-4zM1190.5,943.5l-20 2l0 22.5l21-1l.5-22.5zM1105,942.5l2.5-20.5l-7.5-6l-14 3.5l2 22zM973.5,962l-2-2l-31 3l-1.5 19.5l32 3.5zM1260.5,1090l-7.5 3.5l-4 18.5l3 4l23-1.5l1.5-1.5l-4.5-19.5zM985,1175.5l-3.5-21.5l-20.5 3l0 17l13 11.5zM1475,1110l-1.5 1.5l1.5 10l15 6.5l5-5.5l-.5-15l-2-1.5zM1495,1122.5l13 4.5l6-7.5l-5.5-11.5l-14-.5zM1409.5,1094.5l0 17.5l1 .5l21.5 1.5l-3-21.5zM1429,1072.5l-18.5-1l-.5 .5l-1.5 21.5l1 1l19.5-2l3.5-3.5zM1474,1086.5l-2-17l-2-2l-17 3l-1.5 20.5l19-.5zM1569.5,1175.5l-1 1l1.5 17l4.5 2.5l16-4.5l-.5-14l-2-2.5zM1551.5,1157l-3.5 3l2 18l18.5-1.5l1-1l-2-18zM1492,1161l.5-17.5l-2.5-2l-21.5 1l-3.5 9.5l3.5 11l22-.5zM1475,1121.5l-8.5 15.5l2 5.5l21.5-1l0-13.5zM1490,1128l0 13.5l2.5 2l17.5-2.5l-2-14l-13-4.5zM1527.5,1121l-13.5-1.5l-6 7.5l2 14l1.5 1l14.5-4.5zM1630,1154l3 21.5l22.5-2l-1.5-22zM1607,1133.5l1.5 22l21.5-1.5l-1-23l-1-1l-19.5 2zM294,685l3-5l-21-20.5l-12 9.5l-1 8.5l3.5 11.5l1.5 .5zM294,685l-26 4.5l29.5 29zM943.5,1005.5l-7.5-18.5l-36 7l-4.5 9.5l3 19.5l6.5 7.5l33-7.5zM181,446l10.5-1.5l7.5-50l-1.5-3.5l-9-7l-4-1.5l-6 11.5l-13.5 19l-12 18.5zM1859,1193l-14.5 5l-3.5 4.5l16 13l11.5-12.5zM1899.5,1045.5l-3.5-1l-17.5 14l4 7l16.5 .5l4.5-15zM2090.5,927l9-5l-5.5-4l-12.5-2.5zM2099,909.5l-7.5-4.5l-12 4l0 3.5l.5 .5l15 3l4.5-.5zM2059.5,976l-9 10l4.5 11.5l.5 .5l1.5-4l7-14.5zM2041,1007.5l-3 2.5l4.5-1zM2015.5,1027l4-7l5.5-3.5l-8-8.5l-8.5 1l-5 5l-.5 12.5zM1932,1096.5l18.5-2.5l1-4.5l-5-9l-9.5-2.5l-8.5 6.5l.5 9.5zM1882.5,1065.5l-1.5 13l13 4.5l9.5-9.5l-4.5-7.5zM1902,1114l0-16.5l-5.5-2.5l-7.5 3.5l-5 16.5l.5 0zM1971,1038l-11.5-9l-12 14l.5 4l15 4zM1775,1175l7 3l10.5-11.5l-9.5-11.5l-13 6l-1 3.5zM1971,1038l5-1l6.5-13l-3-7.5l-13.5-2l-5 3l-2.5 4.5l1 7zM1848,1174.5l-6 2l2.5 21.5l14.5-5l2.5-10.5zM2090.5,927l-2 9.5l.5 0l5-1.5l5-7l4.5 0l-2.5-5l-1.5-1zM1781.5,1126l-8 3.5l-2.5 4.5l.5 3l14 10.5l5.5-2.5l5-13.5l0-.5zM1761,1189l10.5 8.5l9.5-3l4-10l-3-6.5l-7-3l-14 13zM2055,997.5l-14 9.5l0 .5l1.5 1.5l9.5-1.5l3.5-9.5zM2049.5,966.5l-9.5 3l-1 15l11.5 1.5l9-10l0-.5zM1894,1083l-13-4.5l-5.5 4.5l1 9.5l12.5 6l7.5-3.5zM1966.5,1058l12 2l4.5-16l-7-7l-5 1l-8 13zM1740,1126l-3 16l10.5 6.5l9-17l-6-9zM1866.5,1104l17.5 11l5-16.5l-12.5-6z"/>
<path fill="#d4e6f1" d="M1148.5,1018l-1.5 20l20 4l2.5-2l1-21l-4.5-4zM1170.5,968l-.5 0l4 23.5l16 2.5l1.5-1l3-23l-3-3zM1191.5,993l19.5 2l2-2l3-22l-3-2.5l-18.5 1.5zM1149,944l19.5 .5l1-22l-3-2.5l-16.5 2.5l-1.5 21zM971.5,986l19.5 0l1.5-22l-19-2l-2.5 24zM1038.5,943.5l-3-2l-17 2l-4.5 22.5l.5 .5l23.5 1l1.5-1.5zM1294.5,1136l3 3l19.5-2.5l.5-1l-1-20l-21.5-1.5zM1317.5,1135.5l25.5 .5l1.5-1l-1.5-20.5l-2-3l-24 3.5l-.5 .5zM1184.5,1113l21.5 2l3-3l-2-20l-17-3l-3.5 2zM959.5,1131.5l-1.5-2l-22-1l-6 27l27-1.5zM981.5,1154l2-2.5l-1.5-20l-22.5 0l-2.5 22.5l4 3zM936,1128.5l22 1l2-21l-34-10.5l-7 4zM982,1131.5l1-1l-1-21.5l-16.5-4l-5.5 3.5l-2 21l1.5 2zM1432.5,1114.5l-.5-.5l-21.5-1.5l.5 17l10 6l12-5zM1440,1135l14.5-5l0-18l-3-3l-19 5.5l.5 16zM1454.5,1130l12 7l8.5-15.5l-1.5-10l-19 .5zM1451.5,1091l-19-2l-3.5 3.5l3 21.5l.5 .5l19-5.5zM1451.5,1091l0 18l3 3l19-.5l1.5-1.5l-4.5-19.5zM1594,1195l-3.5-3.5l-16 4.5l1 18l17.5 0l1-1zM1550,1178l-18.5 3l0 16l4 3l17-3zM1554.5,1198.5l15.5-5l-1.5-17l-18.5 1.5l2.5 19zM1614.5,1179.5l-6.5-6.5l-18 4.5l.5 14l3.5 3.5l17-2zM1491.5,1182l-1-19.5l-22 .5l-3 9l3.5 10.5zM1528,1162l-13.5-3.5l-6 5l0 16l3 2l17.5-3.5zM1550,1178l-2-18l-14.5-2l-5.5 4l1 16l2.5 3zM1511.5,1142l-1.5-1l-17.5 2.5l-.5 17.5l16.5 2.5l6-5zM1532.5,1141.5l-6.5-4l-14.5 4.5l3 16.5l13.5 3.5l5.5-4zM1550,1138l-2.5-2l-15 5.5l1 16.5l14.5 2l3.5-3zM1750,1212.5l1.5-17.5l-14-7l-10.5 3.5l1 7.5l13.5 13.5zM1608.5,1155.5l-.5 17.5l6.5 6.5l18-3.5l.5-.5l-3-21.5zM1678,1172l-.5-11l-14.5-11l-8 0l-1 1.5l1.5 22l0 .5zM1679,1172.5l22.5-1.5l.5-.5l-2-21.5l-2.5-1.5l-10 1l-10 12.5l.5 11zM1748,1149.5l-.5-1l-10.5-6.5l-15.5 2.5l-.5 .5l4 19.5l18.5 1.5zM969.5,1199.5l-7 32.5l5 6l19.5-15l-4-22l-9.5-4.5zM1992,1043.5l8-14l-17.5-5.5l-6.5 13l7 7zM1843,1150.5l2-11.5l-15-5.5l-6.5 3l3.5 19.5l5 .5zM1855.5,1160.5l-7.5 14l13.5 8l7-3l4-10.5l-15-9zM1923.5,1047l15 11l3-1l6.5-10l-.5-4l-11.5-10l-11 1zM1751.5,1171.5l17.5-7l1-3.5l-6.5-9.5l-15.5-2l-4.5 16.5l2.5 3.5zM1980,1076l-9 7l1.5 5.5l12-10.5l.5-.5zM2097.5,941.5l-5-2.5l-4.5 0l-1.5-1l-7 10.5l3.5 8l11-5l7 .5zM1801.5,1187l3.5-3l1.5-8.5l-7.5-9l-6.5 0l-10.5 11.5l3 6.5zM1442.5,1151.5l22.5 .5l3.5-9.5l-2-5.5l-12-7l-14.5 5zM2099,909.5l13-4l-5.5-14l-10-2.5l-5 16zM1999,1053.5l-7-10l-9 .5l-4.5 16l1 1l15-.5zM1829,1220l11.5-17l-17.5-11l-2 .5l-8 15.5l2.5 6.5zM1946.5,1080.5l5 9l18.5-7l-10.5-14.5l-6 1zM1839,1115.5l-5 .5l-4 17.5l15 5.5l1.5-.5l1.5-15.5zM1819.5,1169.5l-13 6l-1.5 8.5l16 8.5l2-.5l5-12zM1843,1150.5l-11 6l10 20l6-2l7.5-14zM2059.5,976l4.5 3.5l2.5-6l7-8l-5-.5l-9 10.5zM1937,1078l9.5 2.5l7-11.5l-12-12l-3 1l-4.5 6.5zM1737.5,1188l14 7l9.5-6l0-1l-9.5-16.5l-5.5-2zM2119,879.5l-.5 5l5 5.5l5.5-.5l0-10.5l7 10.5l2.5 0l-3.5-7l-5.5-7.5l-3 1l1 3l-5.5-1zM1918.5,1067.5l15.5-3l4.5-6.5l-15-11l-8.5 6.5zM2123.5,890l-5-5.5l-1 .5l.5 9.5l-2.5 0l-.5-8l-8.5 5l5.5 14l1.5 .5l9-3.5z"/>
<path fill="#d5e7f1" d="M1122.5,1063.5l.5 24l17.5 2.5l4.5-3l2-21.5l-2-2zM1190,1089l17 3l6.5-5l-1.5-21.5l-3.5-3l-18 3.5zM1145,1063.5l2 2l19.5-3l.5-20.5l-20-4l-3.5 2.5zM1143.5,1014l5 4l17.5-3l1-18.5l-18-5.5l-3 2.5zM994,963l-1.5 1l-1.5 22l4 4l18.5-1l1-22.5l-.5-.5zM1023.5,1227.5l2-2l-1-23.5l-1.5-1.5l-18.5 1.5l-2 20.5zM1001.5,1177.5l0 22l3 2.5l18.5-1.5l.5-22l-18.5-3.5zM1115.5,1206.5l2-2l.5-21l-18-4l-7 5.5l-1.5 19l1.5 1zM1005,1154l-21.5-2.5l-2 2.5l3.5 21.5l16.5 2l3.5-2.5zM1023.5,1178.5l3-2l2.5-21l-2.5-2.5l-19.5-.5l-2 1.5l0 21zM1006.5,1129l.5-21.5l-1-1l-20-1l-4 3.5l1 21.5zM1168.5,1087.5l-6.5 4l1 22.5l21.5-1l2-22zM1213.5,1087l-6.5 5l2 20l18.5 3l2-1.5l-1-23.5zM1229.5,1113.5l19.5-1.5l4-18.5l-17-8l-7.5 4.5zM960,1108.5l5.5-3.5l0-22l-2.5-2l-24.5 1.5l-12.5 15.5zM982,1109l4-3.5l0-24l-20.5 1.5l0 22zM963,1081l1.5-23l-21-4l-5 3.5l0 25zM1390,1115.5l-3-3l-17.5 4.5l-1.5 19l9.5 3l13-7.5zM1410.5,1112.5l-1-.5l-19.5 3.5l.5 16l8 4l12.5-6zM1536.5,1217.5l-1-17.5l-4-3l-15 4l0 16.5l18.5 2zM1557,1215.5l17 0l1.5-1.5l-1-18l-4.5-2.5l-15.5 5zM1511.5,1181.5l-3-2l-15.5 4l1 15l3 2.5l17-1.5zM1529,1178l-17.5 3.5l2.5 18l2.5 1.5l15-4l0-16zM1493,1183.5l15.5-4l0-16l-16.5-2.5l-1.5 1.5l1 19.5zM1636,1197.5l21 .5l.5-1l-2-23l0-.5l-22.5 2l-.5 .5zM1657.5,1197l22-2.5l-.5-22l-1-.5l-22.5 2zM1702,1170.5l-.5 .5l3 20l22 0l-4-23.5zM1743.5,1166l-18.5-1.5l-2.5 3l4 23.5l.5 .5l10.5-3.5l8.5-18.5zM1725,1164.5l-4-19.5l-21 4l2 21.5l20.5-3zM701.5,1161.5l44 5l-4-41l-13.5-8.5l-31 22.5zM194.5,497l-4.5 2l-14 30l21.5 19l44-6l8-28l-11-11.5zM203.5,452.5l-12-8l-10.5 1.5l-17.5 31.5l26.5 21.5l4.5-2zM974.5,1290.5l8-23.5l-14-16l-28 24.5l7 21l12-4.5l8.5 1.5zM1423.5,1180l-1.5 18.5l15 7l9.5-6.5l1-3l-8.5-17zM1761,1188l14-13l-6-10.5l-17.5 7zM1970,1082.5l1 .5l9-7l-.5-15l-1-1l-12-2l-7 10zM1821,1192.5l-16-8.5l-3.5 3l-2 15.5l13.5 5.5zM1884.5,1115l-.5 0l-17.5-11l-3 .5l-1 1l-2 14l6.5 7.5l15.5-3.5zM1468,1185.5l-20.5 10.5l-1 3l13.5 13.5l15.5-8zM1915.5,1099l3 16l14.5-3.5l-1-15l-3-2.5zM1443.5,1172l22 0l3-9l-3.5-11l-22.5-.5l-3 3.5zM1994.5,1060.5l-15 .5l.5 15l5 1.5l11.5-13zM1848,1123l-1.5 15.5l17 1l3.5-12.5l-6.5-7.5zM2001,1029.5l7 10l1-2l6.5-10.5l-12.5-.5zM1917,1117l1.5-2l-3-16l-7-3.5l-6.5 2l0 16.5l5 4.5zM2097.5,941.5l11.5-7.5l-4-1l-5 0l-5 6l-2.5 0zM1907,1118.5l-5-4.5l-17.5 1l-2 8.5l2 3.5l18 2.5zM1808,1153l14.5 5.5l4.5-2.5l-3.5-19.5l-5.5-2l-7 3zM1750,1212.5l2 1.5l16.5-.5l3-16l-10.5-8.5l-9.5 6zM1789,1213.5l12.5 14l14-13l-2.5-6.5l-13.5-5.5l-8 4zM2001,1029.5l-1 0l-8 14l7 10l5.5-.5l3.5-13.5zM1799.5,1202.5l2-15.5l-16.5-2.5l-4 10l10.5 12zM1861.5,1182.5l-2.5 10.5l9.5 10l3-.5l8.5-12l-11.5-11z"/>
<path fill="#d8e9f1" d="M1168.5,1064.5l-2-2l-19.5 3l-2 21.5l17 4.5l6.5-4zM946,1033.5l-2.5 20.5l21 4l4-2l2-21l-4.5-4zM939,982.5l-3 4.5l7.5 18.5l24 5l3.5-2.5l.5-22l-.5 0zM1014.5,966.5l-1 22.5l2 2l21-2.5l1.5-21zM1061,970.5l-2.5-2.5l-19-2l-1.5 1.5l-1.5 21l0 .5l22.5 1zM1083.5,965.5l-2-18.5l-19-5.5l-4 26.5l2.5 2.5l19.5-1.5zM1001.5,1223.5l-14.5-.5l-19.5 15l2.5 9l30-1zM1004.5,1202l-3-2.5l-18.5 1.5l4 22l14.5 .5l1-1zM1048,1225l.5 0l22.5 1l2-20.5l-4-3.5l-20 2zM985,1175.5l-11 10l-.5 11l9.5 4.5l18.5-1.5l0-22zM1047.5,1180.5l-21-4l-3 2l-.5 22l1.5 1.5l21-1.5zM1140,1183.5l-22 0l-.5 21l21 3.5l1.5-2zM1072.5,1179.5l4-20l-5.5-5l-20.5 2l.5 21l19 3.5zM1006.5,1129l-23.5 1.5l-1 1l1.5 20l21.5 2.5l2-1.5zM1026.5,1153l2-21.5l-.5-1l-21.5-1.5l.5 23.5zM1164,1136.5l-2-22l-20.5 .5l-3.5 20l1.5 2l23 1zM1363.5,1138.5l4.5-2.5l1.5-19l-4-4l-22.5 1.5l1.5 20.5zM1535.5,1200l1 17.5l20.5-1.5l0-.5l-2.5-17l-2-1.5zM1611,1193l-17 2l0 18l20-.5l4-10zM1494,1198.5l-1-15l-1.5-1.5l-22.5 .5l-1 3l7.5 19l.5 0zM1614.5,1179.5l-3.5 13.5l7 9.5l17-3.5l1-1.5l-3.5-21.5zM1704.5,1191l-3-20l-22.5 1.5l.5 22l.5 .5l23-2zM938.5,1057.5l5-3.5l2.5-20.5l-8-10.5l-33 7.5l3.5 18.5zM1999,1053.5l-4.5 7l2 4l7-8l1-3.5zM1465.5,1172l-22 0l-4.5 7l8.5 17l20.5-10.5l1-3zM1768.5,1213.5l6 5.5l14.5-5.5l2.5-7l-10.5-12l-9.5 3zM1841,1202.5l-.5 .5l-11.5 17l.5 1.5l12.5 8.5l15.5-9.5l-.5-5zM1421,1135.5l-10-6l-12.5 6l3.5 17.5l16.5-3zM1928.5,1084.5l-14.5-8.5l-5.5 19.5l7 3.5l13.5-5zM1419,1176l4.5 4l15.5-1l4.5-7l-4-17l-14.5 1zM1421,1135.5l-2.5 14.5l6.5 6l14.5-1l3-3.5l-2.5-16.5l-7-4.5zM1954.5,1104l-17.5 10l3.5 11.5l1.5 0l4.5-12l8.5-9zM1408.5,1175.5l-13.5 14l1.5 5.5l16.5 8l9-4.5l1.5-18.5l-4.5-4zM1402,1153l-3.5-17.5l-8-4l-13 7.5l8.5 20l12.5-1.5zM1418.5,1150l-16.5 3l-3.5 4.5l10 18l10.5 .5l6-20zM2113.5,906l-1.5-.5l-13 4l.5 6l5.5-.5l9.5-3zM1950.5,1094l-18.5 2.5l1 15l4 2.5l17.5-10z"/>
<path fill="#dae9f2" d="M1121.5,1062l1 1.5l22.5 0l-1.5-23l-17.5-2l-1 1zM1124.5,1015.5l1.5 23l17.5 2l3.5-2.5l1.5-20l-5-4zM1149,991l18 5.5l7-5l-4-23.5l-20 2.5zM1150,970.5l20-2.5l.5 0l0-22.5l-2-1l-19.5-.5zM1048,1250l-1 21l21.5 3.5l2-2l1.5-23l-23-.5zM1026.5,1248.5l21.5 1.5l1-1l-.5-24l-.5 0l-22.5 .5l-2 2l-1 16.5zM1072,1249.5l.5-1l-.5-21l-1-1.5l-22.5-1l.5 24zM1096,1229l-3-3l-21 1.5l.5 21l21.5 1.5zM1073,1205.5l18.5-1.5l1.5-19l-20.5-5.5l-2.5 1.5l-1 21zM1050.5,1156.5l-2-1.5l-19.5 .5l-2.5 21l21 4l3.5-3zM1165,1160l-2.5-2.5l-20.5 3.5l1 20l17.5 4l3-2.5zM1206,1115l-1 21.5l2 1.5l21.5-2l-1-21l-18.5-3zM986,1105.5l20 1l1.5-21l-18.5-7l-3 3zM968.5,1056l-4 2l-1.5 23l2.5 2l20.5-1.5l3-3l.5-17zM1555,1237.5l1-1l1-20.5l-20.5 1.5l-1.5 2l2 16zM1556,1236.5l19-.5l.5-.5l-1.5-20l-17 0l0 .5zM1495,1221.5l3-2.5l-1-18l-3-2.5l-18 6l6.5 16.5zM1727,1191.5l-.5-.5l-22 0l-1.5 2l2.5 23l1 .5l10.5-2l11-15.5zM250.5,562.5l-9-20.5l-44 6l-4.5 29.5l38.5 21l7.5-5zM163.5,477.5l17.5-31.5l-28-14.5l0 .5l-4 35l-.5 10.5zM1940.5,1125.5l-7.5 7l2.5 11.5l0-1l6.5-17.5zM1971,1083l-1-.5l-18.5 7l-1 4.5l4 10l.5 .5l7.5-7.5l10-8.5zM1882.5,1123.5l-15.5 3.5l-3.5 12.5l3 5l11.5 3l6.5-6l0-14.5zM2123.5,890l-1 12.5l.5 0l6-11.5l0-1.5zM2136,889.5l3 5l.5 5l2-1l-1.5-5.5l-1.5-3.5zM1866.5,1144.5l-3-5l-17-1l-1.5 .5l-2 11.5l12.5 10l2-.5zM1933,1132.5l7.5-7l-3.5-11.5l-4-2.5l-14.5 3.5l-1.5 2l6 14zM1917,1117l-10 1.5l-4.5 11l1.5 5l12 3.5l7-7zM1902.5,1129.5l-18-2.5l0 14.5l13.5 2.5l6-9.5zM1891,1178.5l11-13l-1.5-6.5l-19 0l-4 7.5zM1829.5,1221.5l-.5-1.5l-13.5-5.5l-14 13l-.5 3l16 13.5zM1872.5,1169l5-2.5l4-7.5l-3.5-11.5l-11.5-3l-9 15.5z"/>
<path fill="#ddebf2" d="M1123.5,1015l1 .5l19-1.5l2.5-20.5l-20-2.5l-1.5 1zM1146,993.5l3-2.5l1-20.5l-21.5-3l-2.5 23.5zM1088,941.5l-6.5 5.5l2 18.5l19 2l2.5-25zM1148.5,943.5l1.5-21l-5-4l-17.5 4l.5 21.5zM943.5,1005.5l-5.5 17.5l8 10.5l20-2.5l1.5-20.5zM971,1008l-3.5 2.5l-1.5 20.5l4.5 4l16.5-2l1-22.5zM1080.5,969l-19.5 1.5l-2 19.5l1.5 2l23-1.5zM1000,1246l-30 1l-1.5 4l14 16l17.5 6l4-3l0-21zM1026.5,1248.5l-3 23l20 3l3.5-3.5l1-21zM1022.5,1244l1-16.5l-21-5l-1 1l-1.5 22.5l4 3zM1096,1229l-2 21l22 .5l3.5-20l-4.5-4.5zM1024.5,1202l1 23.5l22.5-.5l1-21l-3.5-3.5zM1093,1205l-1.5-1l-18.5 1.5l-2 20.5l1 1.5l21-1.5zM1115.5,1206.5l-22.5-1.5l0 21l3 3l19-3zM1049,1204l20-2l1-21l-19-3.5l-3.5 3l-2 20zM1140,1159l-17.5 1.5l-4.5 23l22 0l3-2.5l-1-20zM1048.5,1155l1.5-22l-21.5-1.5l-2 21.5l2.5 2.5zM1138,1135l-19 1l-2.5 2.5l-.5 15.5l6.5 6.5l17.5-1.5l-.5-22zM1165,1160l19.5 0l0-23.5l-20.5 0l-1.5 1.5l0 19.5zM1162,1114.5l2 22l20.5 0l1-.5l-1-23l-21.5 1zM1184.5,1113l1 23l19.5 .5l1-21.5zM1229,1136.5l21 1.5l2-2l0-20l-3-4l-19.5 1.5l-2 1.5l1 21zM1276.5,1113l-1.5 1.5l-1.5 22.5l21-1l.5-22zM1028,1106.5l2.5 3l19 1.5l3.5-3l-2-21l-16-1.5l-4 2.5zM1145,1087l-4.5 3l0 24l1 1l20.5-.5l1-.5l-1-22.5zM1474.5,1230.5l3.5 11.5l19-2.5l-2-18l-12.5-.5zM1498,1219l-3 2.5l2 18l1 .5l17.5-.5l-1.5-19.5zM1537,1235.5l-2-16l-18.5-2l-2.5 2.5l1.5 19.5l20-2.5zM1516.5,1201l-2.5-1.5l-17 1.5l1 18l16 1l2.5-2.5zM1717,1214.5l-10.5 2l3 23l1.5 1l19.5-2.5l.5-.5l-1-14zM1635,1199l-17 3.5l-4 10l4.5 10.5l20 1.5l0-.5zM1703,1193l-23 2l3 22l2 2l20.5-3zM268,689.5l-1.5-.5l-11.5 17l0 6.5l1.5 4l29 14l13-8.5l.5-1l-1.5-2.5zM2122.5,902.5l-9 3.5l1 6l3.5-1l5-8l0-.5zM1386,1159l-9 10l3 12.5l15 8l13.5-14l-10-18zM1377.5,1139l-9.5-3l-4.5 2.5l-2 25l15.5 5.5l9-10zM1897.5,1207.5l0-.5l-12.5-17.5l-5 1l-8.5 12l12.5 13zM1422,1198.5l-9 4.5l-1 17l16.5 4l6.5-5.5l2-13zM2115,937l9-11.5l1-1l0-.5l-7 6.5l-5.5 4.5zM2112.5,935l-.5 0l-3-1l-11.5 7.5l3.5 10.5l5 0l6-12l3-3zM1774.5,1219l-.5 8l13 14l14-10.5l.5-3l-12.5-14zM2141.5,898.5l0 .5l-.5-4.5l-1-1.5zM1352,1167l9.5-3.5l2-25l-19-3.5l-1.5 1l-3.5 20.5zM1884.5,1141.5l-6.5 6l3.5 11.5l19 0l2-4l-4.5-11zM2133,917l-3 2.5l-5 4.5l0 .5l8.5-7.5zM1916,1138l2.5 12.5l3.5 2l13-6.5l.5-2l-2.5-11.5l-10-1.5zM1871.5,1202.5l-3 .5l-11.5 12.5l.5 5l7.5 5.5l18-8l1-2.5zM1728,1199l-11 15.5l13 9l11.5-11zM2133.5,917l2.5-2l6.5-3l-1-13l0-.5l-2 1l1.5 11l-8 6.5z"/>
<path fill="#e0ecf3" d="M1104,1015.5l-2.5 22l23.5 2l1-1l-1.5-23l-1-.5zM1104.5,989l-3 3l1 22l1.5 1.5l19.5-.5l1-23zM1102.5,967.5l-19-2l-3 3.5l3 21.5l18 1.5l3-3l.5-19zM1104.5,989l20 3l1.5-1l2.5-23.5l-2.5-2l-21 4.5zM1126,965.5l2.5 2l21.5 3l-1-26.5l-.5-.5l-20.5 .5l-1.5 2zM1126.5,946l1.5-2l-.5-21.5l-4-3.5l-16 3l-2.5 20.5zM971,1008l17 2.5l2.5-1.5l4.5-19l-4-4l-19.5 0zM1015.5,991l1 19.5l15 5.5l7.5-4l-2.5-23l0-.5zM1043.5,1274.5l1 20.5l23 0l1-20.5l-21.5-3.5zM1004,1270l18.5 2.5l1-1l3-23l-4-4.5l-18.5 5zM1118.5,1253.5l-2.5-3l-22-.5l.5 22l18 3l3.5-3zM1117.5,1204.5l-2 2l-.5 19.5l4.5 4.5l19-1.5l1-.5l-1-20.5zM1160,1205.5l.5-20.5l-17.5-4l-3 2.5l0 22.5zM1093,1185l7-5.5l-3-18.5l-4-3l-16.5 1.5l-4 20zM1187,1183.5l-.5-22l-2-1.5l-19.5 0l-1.5 22.5l21 2.5zM1071,1154.5l2-20l-2.5-2.5l-19-.5l-1.5 1.5l-1.5 22l2 1.5zM1093,1158l1-23l-1-1l-20 .5l-2 20l5.5 5zM1162.5,1138l-23-1l.5 22l2 2l20.5-3.5zM1185.5,1136l-1 .5l0 23.5l2 1.5l19.5-3.5l1-20l-2-1.5zM1272.5,1137.5l2.5 21l2.5 2l18-2l2-19.5l-3-3l-21 1zM1317,1136.5l-19.5 2.5l-2 19.5l5.5 4.5l19-3.5zM1322.5,1161.5l17-5l3.5-20.5l-25.5-.5l-.5 1l3 23zM1028,1130.5l2.5-21l-2.5-3l-21 1l-.5 21.5zM1050,1133l1.5-1.5l-2-20.5l-19-1.5l-2.5 21l.5 1zM1073.5,1110.5l-3 21.5l2.5 2.5l20-.5l3.5-21l-1.5-1.5zM1007.5,1085.5l-1.5 21l1 1l21-1l3-18.5l-16.5-6.5zM1140.5,1114l0-24l-17.5-2.5l-3 2l-3 22zM1014.5,1081.5l16.5 6.5l4-2.5l.5-25l-19.5 .5zM1555.5,1257l-19 1l-1 1l1 14.5l12 4.5l8.5 2zM1515.5,1239.5l1.5 19l18.5 .5l1-1l-1-21zM1591.5,1235l3.5-4l-2-17l-17.5 0l-1.5 1.5l1.5 20zM1730,1223.5l1 14l20-3l1-20.5l-2-1.5l-8.5 0zM1636,1197.5l-1 1.5l3.5 25l20-4l-1.5-22zM235,744.5l-2.5 9.5l4.5 16.5l43.5-2.5l-3-16.5l-40-8zM1458.5,1225l-4.5 3l-3 11l6 10.5l18-1l3-6.5l-3.5-11.5zM1880,1190.5l5-1l6.5-8l-.5-3l-13.5-12l-5 2.5l-4 10.5zM1842,1230l2.5 16.5l22-8l-1.5-12.5l-7.5-5.5zM1460,1212.5l-13.5-13.5l-9.5 6.5l-2 13l19 9.5l4.5-3zM1476,1204.5l-.5 0l-15.5 8l-1.5 12.5l16 5.5l8-9.5z"/>
<path fill="#e1edf3" d="M1102.5,1061.5l-.5 24.5l18 3.5l3-2l-.5-24l-1-1.5zM1100.5,1038.5l-.5 21l2.5 2l19 .5l3.5-22.5l-23.5-2zM1083.5,990.5l-3.5 24.5l22.5-1l-1-22zM1102.5,967.5l2.5 2.5l21-4.5l.5-19.5l-21.5-3.5zM987,1033l-16.5 2l-2 21l21 5.5l1.5-1.5l.5-24zM991.5,1036l-.5 24l21.5-1.5l2-20l-7-6zM1058,1040l-5-4l-16 3.5l-1.5 21l19.5 2.5l4-3.5zM990.5,1009l-2.5 1.5l-1 22.5l4.5 3l16-3.5l2-17zM995,990l-4.5 19l19 6.5l7-5l-1-19.5l-2-2zM1059,990l-22.5-1l2.5 23l16.5 3l4.5-3l.5-20zM1067.5,1295l.5 0l20.5 4l2.5-2l0-22l-20.5-2.5l-2 2zM1094.5,1272l-3.5 3l0 22l21 2l2-2l-1.5-22zM1091,1275l3.5-3l-.5-22l-21.5-1.5l-.5 1l-1.5 23zM1140.5,1253.5l-2-24.5l-19 1.5l-3.5 20l2.5 3l21.5 .5zM1255.5,1231l17 0l4-24l-1-1l-21.5 1zM1185.5,1209l21.5-3l-3-20l-17-2.5l-2.5 1.5l-2 20zM1208.5,1183l2.5-20.5l-5-4.5l-19.5 3.5l.5 22l17 2.5zM1277.5,1183l21.5 1.5l0-.5l2-21l-5.5-4.5l-18 2zM1325.5,1181.5l20.5 3.5l.5-.5l5.5-17.5l-12.5-10.5l-17 5zM1094,1135l-1 23l4 3l19-7l.5-15.5zM1206,1158l5 4.5l16.5-2l1.5-24l-.5-.5l-21.5 2zM1229,1136.5l-1.5 24l3.5 3l19.5-4l-.5-21.5zM1252,1136l-2 2l.5 21.5l4.5 3l20-4l-2.5-21zM1072.5,1109l-19.5-1l-3.5 3l2 20.5l19 .5l3-21.5zM1096.5,1113l-3.5 21l1 1l22.5 3.5l2.5-2.5l-3.5-23zM1115.5,1113l3.5 23l19-1l3.5-20l-1-1l-23.5-2.5zM1275,1114.5l-23 1.5l0 20l20.5 1.5l1-.5zM1012.5,1058.5l-21.5 1.5l-1.5 1.5l-.5 17l18.5 7l7-4l1.5-20.5zM1614,1212.5l-20 .5l-1 1l2 17l18 2l5.5-10zM1685,1219l1 23l23.5-2.5l-3-23l-1-.5zM1657,1198l1.5 22l2 1.5l22.5-4.5l-3-22l-.5-.5l-22 2.5zM384,883.5l50.5 55l52.5-67l-14-23l-64-18l-5 2zM791.5,1149.5l-5.5-35l-44.5 11l4 41l18.5 2zM163.5,477.5l-15 0l-1 17l-6 27.5l28.5 8.5l6-1.5l14-30zM285.5,730.5l-8 21l3 16.5l17 27.5l3.5 3.5l8.5 1.5l20.5-47.5l-31.5-31zM1819,1248.5l25.5-2l-2.5-16.5l-12.5-8.5l-12.5 22.5l1 4.5zM1916,1138l-12-3.5l-6 9.5l4.5 11l16-4.5zM1883,1218l-18 8l1.5 12.5l2.5 2l18-2l3-4.5zM1916,1219l7.5-12.5l-5.5-10.5l-9.5-2l-11 13l0 .5l12.5 11.5zM1771,1250l15.5-6l.5-3l-13-14l-16 12.5zM1918.5,1150.5l-16 4.5l-2 4l1.5 6.5l12 8l2-.5l8.5-10l-2.5-10.5zM1361.5,1163.5l-9.5 3.5l-5.5 17.5l20 9l13.5-12l-3-12.5zM1910,1219l-12.5-11.5l-13.5 8l-1 2.5l7 16l11-1zM1757.5,1239.5l.5 0l16-12.5l.5-8l-6-5.5l-16.5 .5l-1 20.5zM1413.5,1245l16-4.5l-1-16.5l-16.5-4l-8.5 6l-.5 4zM1902,1165.5l-11 13l.5 3l15 6.5l7.5-14.5zM1924.5,1163l-8.5 10l12.5 12l-.5-2.5l2-10.5l1.5-6.5zM1908.5,1194l-2-6l-15-6.5l-6.5 8l12.5 17.5z"/>
<path fill="#e4eef4" d="M1009.5,1015.5l-2 17l7 6l16-3.5l1-19l-15-5.5zM1030.5,1035l6.5 4.5l16-3.5l2.5-21l-16.5-3l-7.5 4zM1060,1012l-4.5 3l-2.5 21l5 4l20.5-3l1.5-1.5l-2.5-18.5zM1083.5,990.5l-23 1.5l-.5 20l17.5 5l2.5-2zM1043.5,1319l1.5-1.5l-1.5-21.5l-22 1l-.5 0l-3 19.5l.5 .5l2 2zM1043.5,1296l1.5 21.5l19 2l4-24.5l-.5 0l-23 0zM1043.5,1274.5l-20-3l-1 1l-1 24.5l22-1l1-1zM1138.5,1208l1 20.5l22.5 0l0-21.5l-2-1.5l-20 .5zM1186.5,1229l21.5 1l2-21.5l-3-2.5l-21.5 3l0 19.5zM1255.5,1231l-1.5-24l-2.5-2.5l-19 5l.5 20.5zM1227.5,1205l.5-18.5l-19.5-3.5l-4.5 3l3 20l3 2.5zM1275.5,1206l-.5-21l-19.5-2.5l-4 3.5l0 18.5l2.5 2.5zM1097,1161l3 18.5l18 4l4.5-23l-6.5-6.5zM1275,1158.5l-20 4l.5 20l19.5 2.5l2.5-2l0-22.5zM1095.5,1089l-16-5.5l-5 3l-2 22.5l1 1.5l21.5 1zM1120,1089.5l-18-3.5l-6.5 3l-.5 22.5l1.5 1.5l19 0l1.5-1.5zM1055,1063l1 20l18.5 3.5l5-3l1.5-20.5l-2-1.5l-20-2zM1495.5,1275.5l-.5-14l-16-3.5l-6.5 12l6 12.5l2 1zM1509.5,1284l6-1l0-23l-17.5-.5l-3 2l.5 14zM1516.5,1283.5l8.5 0l11.5-10l-1-14.5l-18.5-.5l-1.5 1.5l0 23zM1557,1280l1 0l.5 1l6 2l1-1l-8-7l13.5-11l4-1l-.5-7l-18.5 .5l-.5 .5zM1595,1258.5l23 2.5l-2.5-9.5l-19.5 3l-1 1zM1495,1261.5l3-2l0-19.5l-1-.5l-19 2.5l-3 6.5l4 9.5zM1517,1258.5l-1.5-19l-17.5 .5l0 19.5l17.5 .5zM1536.5,1258l19-1l.5-.5l-1-19l-18-2l-1.5 1.5zM1556,1256.5l18.5-.5l.5-.5l0-19.5l-19 .5l-1 1zM1575,1255.5l20 0l1-1l-4.5-19.5l-16 .5l-.5 .5zM1615.5,1251.5l2-3.5l-4.5-15l-18-2l-3.5 4l4.5 19.5zM1730.5,1238l-19.5 2.5l0 12.5l12 1.5l10 6l2.5-5zM1731,1237.5l-.5 .5l5 17.5l15-.5l7-15.5l-6.5-5zM1638.5,1244.5l0-20l-20-1.5l-5.5 10l4.5 15l5.5-1l0-4l5 0l1.5 3zM239.5,640l-2-.5l-1 1l-5 25l32.5 3.5zM256.5,716.5l-19 27l40 8l8-21zM297.5,795.5l-17-27.5l-43.5 2.5l-4.5 20zM1479,1258l-4-9.5l-18 1l-6 13.5l4 6l17.5 1zM1928.5,1185l-12.5-12l-2 .5l-7.5 14.5l2 6l9.5 2zM1366.5,1193.5l1.5 17.5l9.5 3.5l9-2.5l10-17l-1.5-5.5l-15-8zM1451,1239l3-11l-19-9.5l-6.5 5.5l1 16.5l3 2.5zM1413,1203l-16.5-8l-10 17l17 14l8.5-6zM1516.5,1283.5l2 22.5l13.5 3.5l10-9.5l0-1.5l-17-15zM1817,1244l-16-13.5l-14 10.5l-.5 3l6 12l11 2l4-2.5l10.5-7zM1922,1152.5l2.5 10.5l7 2.5l3.5-19.5zM1935,1224.5l-5-18l-6.5 0l-7.5 12.5l6 6.5zM1918,1196l5.5 10.5l6.5 0l-.5-2.5l-1-19zM1491,1301l3 .5l15.5-17.5l-14-8.5l-15 8zM1750.5,1255l6 9l12.5-2l2-12l-13-10.5l-.5 0z"/>
<path fill="#e6eff4" d="M1077.5,1017l2.5 18.5l20.5 3l1-1l2.5-22l-1.5-1.5l-22.5 1zM996.5,1292l-22-1.5l-6.5 3l24 4l3.5 2zM1068,1295l-4 24.5l1 1.5l22 0l1.5-22zM1112,1299l-21-2l-2.5 2l-1.5 22l.5 .5l25 0l.5-.5zM1000,1273l-17.5-6l-8 23.5l22 1.5l1-1zM1022.5,1272.5l-18.5-2.5l-4 3l-2.5 18l23.5 6l.5 0zM1140,1274.5l0-20.5l-21.5-.5l-2.5 18.5l21 5zM1138.5,1229l2 24.5l21.5-1.5l.5-22.5l-.5-1l-22.5 0zM1301,1253.5l-3-22.5l-21.5 3l0 20l4 3.5zM1208,1230l.5 0l23.5 1l1-1l-.5-20.5l-5-4.5l-17.5 3.5zM1182.5,1205l2-20l-21-2.5l-3 2.5l-.5 20.5l2 1.5zM1227.5,1205l5 4.5l19-5l0-18.5l-19-3.5l-4.5 4zM1277.5,1183l-2.5 2l.5 21l1 1l21 2l1.5-24.5zM1228,1186.5l4.5-4l-1.5-19l-3.5-3l-16.5 2l-2.5 20.5zM1056,1083l-5 4l2 21l19.5 1l2-22.5zM1035.5,1060.5l-.5 25l16 1.5l5-4l-1-20zM1595,1255.5l-20 0l-.5 .5l.5 7l18-4.5l2 0zM1617.5,1248l-2 3.5l2.5 9.5l5 0l0-14zM1664,1242l-1.5 2.5l2 10.5l22.5-3.5l-1-9.5zM1686,1242l1 9.5l6.5-1l17.5 2.5l0-12.5l-1.5-1zM1638.5,1224.5l0 20l3.5 3.5l20.5-3.5l1.5-2.5l-3.5-20.5l-2-1.5l-20 4zM1685,1219l-2-2l-22.5 4.5l3.5 20.5l22 0zM376,810l-63.5-6.5l1 68.5l19 28l51.5-16.5l20-51zM1380,1242l-2.5-27.5l-9.5-3.5l-1 .5l-9.5 20.5l15 13zM1432.5,1243l-3-2.5l-16 4.5l-5.5 14l1.5 1.5l21.5 5l4-3.5zM1542,1298.5l0 1.5l15 11l7.5-6.5l-4.5-2.5l.5-12l4.5-5l-.5-2l-6-2l1.5 6l-10 2l-.5 0zM1557,1319l0-8l-15-11l-10 9.5l2.5 13.5l5 2.5l9.5-1zM1735.5,1255.5l-2.5 5l14.5 9l5 4.5l4-10l-6-9zM1844.5,1246.5l2.5 8.5l19.5 9l4-2l-1.5-21.5l-2.5-2zM1403,1230l.5-4l-17-14l-9 2.5l2.5 27.5l4.5 1zM1457,1249.5l-6-10.5l-18.5 4l2.5 19l16 1zM1887,1238.5l-18 2l1.5 21.5l1 .5l18.5-8z"/>
<path fill="#e9f0f4" d="M1100,1059.5l-19 3.5l-1.5 20.5l16 5.5l6.5-3l.5-24.5zM1080,1035.5l-1.5 1.5l.5 24.5l2 1.5l19-3.5l.5-21zM1014.5,1038.5l-2 20l3.5 2.5l19.5-.5l1.5-21l-6.5-4.5zM1079,1061.5l-.5-24.5l-20.5 3l1 19.5zM1020.5,1319l9.5 10l7 13.5l5 .5l1.5-24zM1134,1296.5l-20 .5l-2 2l1 22l21 1l.5-.5l3-21.5zM1231.5,1254.5l.5-23.5l-23.5-1l0 23l1.5 2zM1162,1228.5l.5 1l23-1l0-19.5l-3-4l-20.5 2zM1298.5,1230l-1-21l-21-2l-4 24l4 3l21.5-3zM1299,1184.5l-1.5 24.5l24-2l-1-21l-21.5-2zM1232.5,1182.5l19 3.5l4-3.5l-.5-20l-4.5-3l-19.5 4zM1301,1163l-2 21l21.5 2l5-4.5l-3-20l-2.5-2zM1642,1248l-3.5-3.5l-9 1.5l7 12.5l6-.5zM487,871.5l-52.5 67l4 19.5l40 12l52-31l4.5-51.5zM530.5,939l-52 31l22 45l55.5 8.5l29.5-36.5l-2.5-8.5zM596,1121l-1-1.5l-17 2.5l-32 32.5l17.5 10.5l43 6zM236.5,640.5l1-1l-8.5-35l-26.5 15l-3 19l3.5 6.5l2.5 1zM231.5,665.5l-10 12l-.5 1.5l5.5 7l36.5-8.5l1-8.5zM266.5,689l-3.5-11.5l-36.5 8.5l.5 2.5l28 17.5zM220,713.5l-.5 .5l3.5 19l12 11.5l2.5-1l19-27l-1.5-4zM1494,1301.5l13.5 13l11-8.5l-2-22.5l-1-.5l-6 1zM1409.5,1260.5l-1 23l0 .5l21.5-3.5l1-15zM1819,1248.5l-1 0l-10.5 7l4-2.5l10.5 3.5zM1472.5,1270l-17.5-1l-4 16.5l8.5 10.5l1 0l18-13.5zM1792.5,1256l-6-12l-15.5 6l-2 12l10.5 9.5l3-1.5zM1901,1233l-11 1l-3 4.5l3 16l6 3l12.5-4l1.5-9zM1564.5,1283l.5 2l2-2l-1.5-1zM1847,1255l-2.5-8.5l-25.5 2l3 8l6 2l12 10zM1346.5,1184.5l-.5 .5l-5 21l3.5 4.5l22.5 1l1-.5l-1.5-17.5zM1396,1258l12 1l5.5-14l-10.5-15l-18.5 13zM1922,1225.5l-6-6.5l-6 0l-9 14l9 11.5l12-5.5zM1536.5,1273.5l-11.5 10l17 15l7.5-9.5l-7.5-2l-2-5l8-4l.5 0z"/>
<path fill="#ecf2f5" d="M1043.5,1319l-1.5 24l21.5 0l1.5-22l-1-1.5l-19-2zM996.5,1292l-1 7.5l13 7.5l9.5 9.5l3-19.5l-23.5-6zM1116,1272l-3.5 3l1.5 22l20-.5l3-19.5zM1163,1276.5l1-22.5l-2-2l-21.5 1.5l-.5 .5l0 20.5l20.5 4zM1162.5,1229.5l-.5 22.5l2 2l20.5-.5l2-24.5l-1-.5zM1208.5,1230l-.5 0l-21.5-1l-2 24.5l1 1l23-1.5zM1231.5,1254.5l.5 .5l21.5-1l2-23l-22.5-1l-1 1zM1276.5,1254l0-20l-4-3l-17 0l-2 23l2 1.5zM1302,1254.5l21-2l0-22l-24.5-.5l-.5 1l3 22.5zM1323.5,1230.5l-1-22.5l-1-1l-24 2l1 21l24.5 .5zM1322.5,1208l1 22.5l18-.5l3-19.5l-3.5-4.5zM1346,1185l-20.5-3.5l-5 4.5l1 21l1 1l18.5-2zM1662.5,1244.5l-20.5 3.5l.5 10l18-2l4-1zM255,706l-28-17.5l-7 25l35-1zM223.5,800.5l9-10l4.5-20l-4.5-16.5l-36 10l-3.5 9.5zM313.5,872l-1-68.5l-3-3l-8.5-1.5l-40 30l-3 33zM1347,1256l1 11.5l15 9l10.5-5.5l-4.5-20zM1367,1211.5l-22.5-1l-3 19.5l4.5 4l11.5-2zM1477,1312.5l0 1.5l15 15l15-9l.5-5.5l-13.5-13l-3-.5zM1792.5,1256l-10 14l15.5-9l5.5-3zM1478.5,1282.5l-18 13.5l16.5 16.5l14-11.5l-10.5-17.5z"/>
<path fill="#edf2f5" d="M1042,1343l-5-.5l4 8l.5 1.5zM1065,1321l-1.5 22l4 4.5l21-4.5l-1-21.5l-.5-.5zM1159,1299.5l1.5-21l-20.5-4l-3 2.5l-3 19.5l3.5 3.5l21 .5zM1210,1255l-1.5-2l-23 1.5l1.5 19.5l20.5 4l.5-.5zM1298,1280l6-4.5l-2-21l-1-1l-20.5 4l-2 18.5zM1321,1279l3.5-3l-.5-22.5l-1-1l-21 2l2 21zM1344.5,1253l-20.5 .5l.5 22.5l14 1l9.5-9.5l-1-11.5zM1341.5,1230l-18 .5l-.5 0l0 22l1 1l20.5-.5l1.5-19zM146.5,587.5l23.5-57l-28.5-8.5l-1 5l-16 27l-7 7.5l8.5 24.5l0 1zM193.5,713l-4 15l3 12.5l30.5-7.5l-3.5-19l-22.5-3.5zM192.5,740.5l-1.5 4l5.5 19.5l36-10l2.5-9.5l-12-11.5zM1577.5,1323.5l3.5 4l1-1l-3-6zM1446.5,1312l1 1l4.5-.5l18 8.5l7-7l0-1.5l-16.5-16.5l-1 0zM1567,1326.5l-10-7.5l-8 5.5l6-1l11 9.5zM1412.5,1302l-4-18l0-.5l-20 1l-5 13l8.5 9l8 2zM1492,1329l-.5 2l9 5l18-1.5l0-2l-11.5-12.5zM1380,1242l-7.5 3l-3.5 6l4.5 20l9.5 3.5l13-16.5l-11.5-15zM1507.5,1314.5l-.5 5.5l11.5 12.5l16-9.5l-2.5-13.5l-13.5-3.5zM1534.5,1323l-16 9.5l0 2l4 0l11-8l6-1zM1373.5,1271l-10.5 5.5l-3.5 13.5l13.5 11l10.5-3.5l5-13l-5.5-10zM1557,1311l0 8l10 7.5l10.5-3l1.5-3l-5-10.5l-9.5-5.5zM1444,1312l-1.5 1.5l5-.5l-1-1zM1769,1262l-12.5 2l-4 10l7.5 7.5l16.5-8l3-2zM1435,1262l-4 3.5l-1 15l5 5.5l16-.5l4-16.5l-4-6zM1492,1329l-15-15l-7 7l6.5 2.5l15 7.5zM1408.5,1284l4 18l6 3l12-4l4.5-15l-5-5.5zM1357.5,1232l-11.5 2l-1.5 19l2.5 3l22-5l3.5-6z"/>
<path fill="#f0f4f6" d="M1309,1324l-3 6l-1-5.5l-4 .5l0 11l15.5-12.5l.5 0zM1321.5,1299l-.5-20l-17-3.5l-6 4.5l.5 22zM1232,1255l-.5-.5l-21.5 .5l-2 22.5l23 1.5l2-2.5zM1254,1277.5l2-2l-.5-20l-2-1.5l-21.5 1l1 21.5zM1277,1277.5l1.5-1.5l2-18.5l-4-3.5l-21 1.5l.5 20zM170,530.5l-23.5 57l19 9.5l27.5-19.5l4.5-29.5l-21.5-19zM261,829l40-30l-3.5-3.5l-65-5l-9 10l-1 9.5zM1871.5,1262.5l12.5 16l11.5-3.5l.5-17.5l-6-3zM1359.5,1290l-13 4.5l-3.5 5.5l3.5 10l3.5 1l20-4l3-6zM1847,1255l-7 13.5l4 3.5l11 9.5l3-1l8.5-16.5zM1383,1274.5l5.5 10l20-1l1-23l-1.5-1.5l-12-1zM1896,1257.5l-.5 17.5l7.5 5l13-4.5l1-14l-8.5-8zM1346.5,1310l-1 2l4.5-1zM1577.5,1323.5l-10.5 3l-1 6.5l5 4l10-9.5zM1338.5,1277l8 17.5l13-4.5l3.5-13.5l-15-9z"/>
<path fill="#f2f5f6" d="M1042,1343l-.5 9l5.5 14.5l15.5 .5l3.5-3l1.5-16.5l-4-4.5zM1182,1323l-1.5 1l5 23l17-2l3.5-21.5l-.5-.5zM1274.5,1323.5l-23 1l-.5 .5l-1 19l4.5 4l22-2l-.5-21zM1137.5,1300l-3 21.5l25 4l-1-25zM1205,1299.5l-21 0l-2 1.5l0 22l23.5 0zM1322,1300l-.5-1l-23 3l2 22.5l.5 .5l4-.5l-1-6.5l6-10l6-3l2 7l-8 10l-1 2l8-.5l5.5-2.5zM1275.5,1300.5l1.5 1.5l21.5 0l-.5-22l-19.5-4l-1.5 1.5zM1322,1300l21 0l3.5-5.5l-8-17.5l-14-1l-3.5 3l.5 20zM1185.5,1254.5l-1-1l-20.5 .5l-1 22.5l19 2l5-4.5zM1870.5,1262l-4 2l-8.5 16.5l19 12l7-14l-12.5-16zM1435,1286l-4.5 15l13.5 11l2.5 0l13-16l-8.5-10.5zM1932,1245l9-4l.5-1l-5-11.5l-1.5-4l-13 1l0 13.5zM1444,1312l-13.5-11l-12 4l1 8l16 1l7-.5zM1910,1244.5l-1.5 9l8.5 8l12.5-4.5l2.5-12l-10-6z"/>
<path fill="#f5f6f7" d="M1090.5,1344.5l-2-1.5l-21 4.5l-1.5 16.5l20 7l5.5-5zM1230,1349.5l0 20l19 2l7-3.5l-1.5-20l-4.5-4zM1278,1347.5l-1.5 8.5l12-8zM1087.5,1321.5l1 21.5l2 1.5l20.5-1l1.5-22zM1134.5,1321.5l-.5 .5l-.5 22l2.5 2.5l21-2.5l3-18l-.5-.5zM1301,1325l-.5-.5l-24.5 .5l.5 21l1.5 1.5l10.5 .5l5-3l6.5-8l1-1zM1159.5,1325.5l.5 .5l20.5-2l1.5-1l0-22l-23-1.5l-.5 1zM1277,1302l-1.5-1.5l-21-1l-3 2.5l0 22.5l23-1zM1300.5,1324.5l-2-22.5l-21.5 0l-2.5 21.5l1.5 1.5zM1187,1274l-5 4.5l2 21l21 0l2.5-21.5zM1231,1279l1 19.5l19.5 3.5l3-2.5l-.5-22l-21-1zM229,604.5l2.5-6l-38.5-21l-27.5 19.5l.5 2l36.5 20.5zM172.5,664.5l2-26.5l-10.5-11l-30 23.5l30 16zM221.5,677.5l-16-31.5l-2.5-1l-14 19l18.5 17l13.5-2zM231.5,665.5l5-25l-31 5.5l16 31.5zM227,688.5l-.5-2.5l-5.5-7l-13.5 2l-12 12l1.5 17.5l22.5 3.5l.5-.5zM326.5,911.5l6-11.5l-19-28l-55.5-10l-18.5 13l-2.5 9.5l4 13.5l33 21zM1400,1308.5l16.5 4l3 .5l-1-8l-6-3z"/>
<path fill="#f7f6f6" d="M1062.5,1367l-15.5-.5l5 14l10.5 13.5zM1183.5,1349l0 20l20 2.5l1-1.5l2.5-20.5l-4.5-4.5l-17 2zM1256,1368l13-6.5l7.5-5.5l1.5-8.5l-1.5-1.5l-22 2zM1157,1344l2 3l24.5 2l2-2l-5-23l-20.5 2zM1206,1323.5l-3.5 21.5l4.5 4.5l20.5-1.5l-3.5-23zM1251,1325l-23-3.5l-4 3.5l3.5 23l2.5 1.5l20-5.5zM1228.5,1301.5l-23.5-2l.5 23.5l.5 .5l18 1.5l4-3.5zM1251.5,1324.5l0-22.5l-19.5-3.5l-3.5 3l-.5 20l23 3.5zM1346.5,1310l-3.5-10l-21 0l.5 21l18-8.5l5-.5zM1182,1301l2-1.5l-2-21l-19-2l-2.5 2l-1.5 21zM1208,1277.5l-.5 .5l-2.5 21.5l23.5 2l3.5-3l-1-19.5zM1254.5,1299.5l21 1l1.5-23l-21-2l-2 2zM156.5,689l7.5-22.5l-30-16l-7.5 1l6 18.5l4 18.5zM193.5,713l3.5-2.5l-1.5-17.5l-13.5-5l-16.5 12l0 5.5zM1383.5,1297.5l-10.5 3.5l-3 6l14-2.5l8 2zM1877,1292.5l.5 2l4 4l20.5 0l1-18.5l-7.5-5l-11.5 3.5zM1881.5,1298.5l-4-4l-2 1l4 2.5l2 7z"/>
<path fill="#f7f5f4" d="M1082.5,1397.5l3.5-5l0-21.5l-20-7l-3.5 3l0 27l3.5 5zM1158.5,1367.5l-23 1l1 22l11 4l11.5-8.5l0-17.5zM1183.5,1369l-24.5-.5l0 17.5l18.5 9l2.5-1.5zM1206,1397.5l14-11.5l5.5-3l-3.5-7l7-1.5l.5-4l-25-.5l-1 1.5zM1229,1379l-2 3.5l2-1zM1229,1381.5l13-6.5l7-3.5l-19-2l-.5 1l-.5 4l3-.5l-3 5zM1111,1343.5l-20.5 1l1 21.5l21.5 2.5l.5-.5l-1-23zM1112.5,1345l1 23l21.5 0l1-21.5l-2.5-2.5zM1159,1347l-.5 20.5l.5 1l24.5 .5l0-20zM1207,1349.5l-2.5 20.5l25 .5l.5-1l0-20l-2.5-1.5zM1134,1322l-21-1l-.5 .5l-1.5 22l1.5 1.5l21-1zM134,650.5l30-23.5l2-28l-.5-2l-19-9.5l-20.5-.5l2.5 23.5l-5.5 30l3.5 11zM199.5,638.5l-25-.5l-2 26.5l5 2l11.5-2.5l14-19zM165,706.5l.5-1l0-5.5l-9-11l-20-.5l1.5 6l13.5 11l0 6l1-.5l-.5-11l8-3l4 9l-1 1.5zM329.5,953l-3-41.5l-52.5 7.5l-18 38.5l6.5 5.5l6.5 9.5zM1943,1243.5l-1.5-3.5l-.5 1zM1877.5,1294.5l-.5-2l-19-12l-3 1l8 7l12.5 7z"/>
<path fill="#f8f3f0" d="M1113,1368.5l-2 19l10.5 10.5l15-7.5l-1-22l-.5-.5l-21.5 0zM1203.5,1371.5l-20-2.5l-3.5 24.5l25.5 4.5l.5-.5zM1136,1346.5l-1 21.5l.5 .5l23-1l.5-20.5l-2-3zM182,688l-4.5-21.5l-5-2l-8.5 2l-7.5 22.5l9 11zM195.5,693l12-12l-18.5-17l-11.5 2.5l4.5 21.5zM211,822l-5.5 13.5l34 39.5l18.5-13l3-33l-38.5-19zM1147.5,1394.5l4 15.5l21 1l5-16l-18.5-9z"/>
<path fill="#f8f2ef" d="M1091.5,1366l-5.5 5l0 21.5l25-5l2-19zM202.5,619.5l-36.5-20.5l-2 28l10.5 11l25 .5zM165,706.5l1.5 18l23 3.5l4-15l-28-7.5zM1902,1298.5l3 3l18-4l2-16l-9-6l-13 4.5zM1180,1393.5l-2.5 1.5l-5 16l8 16.5l1.5 .5l9.5-5l6-13.5l-1.5-1.5l4-4l1-2l4.5-4zM1898.5,1324l6-3.5l.5-19l-3-3l-20.5 0l0 6.5l4.5 12.5zM1917,1261.5l-1 14l9 6l15-4.5l1.5-9l-12-11zM1941,1241l-9 4l-2.5 12l12 11l10-8l-4.5-7l-4-9.5z"/>
<path fill="#f9f0eb" d="M151.5,711.5l-1 18.5l5.5 0l-3-10l-.5-9zM191,744.5l1.5-4l-3-12.5l-23-3.5l-3.5 6l4.5 15zM1182,1428l1.5 6l4.5 3.5l2-11l1.5-3.5zM1180.5,1427.5l-8-16.5l-21-1l-9.5 14.5l6.5 12z"/>
<path fill="#f9eee7" d="M529.5,1087.5l48.5 34.5l17-2.5l5.5-43.5l-41.5-30.5zM163,707.5l-5 8.5l4 14.5l1 0l3.5-6l-1.5-18zM1894,1335.5l4.5-11.5l-12.5-6.5l0 .5l1 19z"/>
<path fill="#f9ede5" d="M1093.5,1414.5l-11-17l-16.5 1.5l2 3l16.5 19l2.5 12zM1123,1420l19 4.5l9.5-14.5l-4-15.5l-11-4l-15 7.5l-2.5 16zM1923,1297.5l-18 4l-.5 19l12.5 4.5l17.5-12l1-3.5zM1121.5,1398l-10.5-10.5l-25 5l-3.5 5l11 17l25.5-.5z"/>
<path fill="#faeae1" d="M165,749l12 31l16-6.5l3.5-9.5l-5.5-19.5l-23.5 1zM329.5,953l8 15l85 6.5l16-16.5l-4-19.5l-50.5-55l-51.5 16.5l-6 11.5zM1174.5,1455.5l9-21.5l-1.5-6l-1.5-.5l-32 9l-1.5 13.5l12.5 9zM1093.5,1414.5l-6.5 18.5l1 4l22.5 10l12.5-27l-4-6zM1941.5,1268l-1.5 9l7.5 8l8.5 1l7.5-7.5l-3-3.5l-9-15z"/>
<path fill="#fae9df" d="M163,730.5l-1 0l1 4.5l-5 2l-2-7l-5.5 0l-.5 10.5l4 12l11-3.5l2.5-3.5zM223.5,800.5l-30.5-27l-16 6.5l-12 11l46 31l11.5-12zM274,919l-33-21l-16 28.5l2.5 1.5l19 21.5l9.5 8zM1947.5,1285l-7.5-8l-15 4.5l-2 16l12.5 12l2.5-1.5z"/>
<path fill="#fae7dc" d="M1147,1450l1.5-13.5l-6.5-12l-19-4.5l-12.5 27l2 4.5l17.5 7.5zM1917,1325l4.5 16l19.5 .5l4.5-8l-11-20.5z"/>
<path fill="#fbe5d8" d="M1159.5,1480l24.5 2.5l1-18l-10.5-9l-15 3.5zM1147,1450l-17 9l1.5 21l23 5.5l5-5.5l0-21zM1112.5,1451.5l-2-4.5l-22.5-10l2 8.5l8 24.5l.5 1zM1895,1355.5l-2-3.5l5.5 0l2-2.5l-6.5-14l-7 1.5l.5 8.5l2.5 15.5zM1183.5,1434l-9 21.5l10.5 9l1.5-.5l-1.5-10.5l3-16zM1900.5,1349.5l14.5 1.5l6.5-10l-4.5-16l-12.5-4.5l-6 3.5l-4.5 11.5z"/>
<path fill="#fbe4d6" d="M177,848l1.5 4l8.5 29.5l-2.5 10.5l52.5-7.5l2.5-9.5l-34-39.5zM1188,1488l0 8.5l9 11l.5 0l-6.5-21zM1122.5,1489.5l9-9.5l-1.5-21l-17.5-7.5l-14 19.5l7.5 15l8.5 4zM1185,1464.5l-1 18l4 5.5l3-1.5l-1-3l-3.5-19.5z"/>
<path fill="#fce2d2" d="M1947.5,1285l-9.5 23l20.5 2l6-12l-8.5-12zM1154.5,1485.5l1.5 14.5l9.5 7l22.5-10.5l0-8.5l-4-5.5l-24.5-2.5z"/>
<path fill="#fce0d0" d="M154,752.5l4.5 12.5l-3 27l1 2.5l8.5-3.5l12-11l-12-31zM165,791l-8.5 3.5l10 27.5l10.5 26l28.5-12.5l5.5-13.5zM1890,1361l0 .5l3 12l2 .5l4-8l-3-8l-1-2.5zM1958.5,1310l-20.5-2l-2.5 1.5l-1 3.5l11 20.5l14-3.5l4-11.5zM1956,1286l8.5 12l11-1.5l-12-18z"/>
<path fill="#fcdecd" d="M478.5,970l-40-12l-16 16.5l-6.5 31.5l12 35.5l54.5 7l18-33.5zM241,898l-4-13.5l-52.5 7.5l-3 11.5l27 13.5l16.5 9.5zM337.5,968l-4.5 23l28.5 39.5l54.5-24.5l6.5-31.5zM303,1015l1.5 3.5l1.5 28.5l50.5 6.5l5-23l-28.5-39.5zM1921,1366l-6-15l-14.5-1.5l-2 2.5l.5 0l6 6l2 10l-6 7l12.5 2zM1941,1341.5l-19.5-.5l-6.5 10l6 15l18.5 .5l7-10.5z"/>
<path fill="#fddcc9" d="M578,1122l-48.5-34.5l-33.5 9.5l-12 20l62 37.5zM1893,1373.5l2.5 10l14.5 14l7-6.5l-3.5-14l-12.5-2l-3 3l-4-2l1-2zM1197,1507.5l-9-11l-22.5 10.5l.5 2l8 1.5l12 7l10-5.5zM1114.5,1490l12 6l-4-6.5zM1963.5,1318.5l-4 11.5l9.5 11.5l8.5-.5l10-18.5l-3.5-5.5zM1148,1505l4.5 1.5l13.5 2.5l-.5-2l-9.5-7zM1959.5,1330l-14 3.5l-4.5 8l5.5 14.5l14 0l8.5-14.5zM1156,1500l-1.5-14.5l-23-5.5l-9 9.5l4 6.5l1.5 1l20 8z"/>
<path fill="#fddbc7" d="M556,1023.5l-55.5-8.5l-18 33.5l13.5 48.5l33.5-9.5l29.5-42zM1939.5,1366.5l-18.5-.5l-7.5 11l3.5 14l13.5 5l16.5-13zM1197,1507.5l-1 4.5l2.5-1.5l-1-3zM1964.5,1298l-6 12l5 8.5l20.5-1.5l.5-9l-7.5-9l-1.5-2.5z"/>
<path fill="#fcd5bf" d="M1984,1317l3.5 5.5l1.5 0l0-8.5l-4.5-6z"/>
<path fill="#fbd0b9" d="M496,1097l-13.5-48.5l-54.5-7l-14.5 33l70.5 42.5zM1976,1372.5l6.5-4l4-18.5l-9-9l-8.5 .5l-8.5 14.5l12.5 16zM1960.5,1356l-14 0l-7 10.5l7.5 16.5l6.5 2l19.5-13zM1987.5,1322.5l-10 18.5l9 9l13-3l-1-1.5l-9.5-19l0-4z"/>
<path fill="#fbccb4" d="M220,935l-6 1l2 5l.5 0zM216.5,941l11.5-2l-2-5l-6 1zM333,991l4.5-23l-8-15l-60.5 19.5l4.5 7l13.5 12.5l8 3.5l8 19.5z"/>
<path fill="#facab1" d="M1983.5,1395l15-1l8.5-17l-3-4.5l-21.5-4l-6.5 4zM2004,1372.5l3 4.5l12 3l-7-10.5l-4.5-8.5zM2004,1372.5l3.5-11.5l-8-14l-13 3l-4 18.5zM1953.5,1385l9 20l16-2.5l5-7.5l-7.5-22.5l-3-.5zM1930.5,1396l5 15l22 1.5l5-7.5l-9-20l-6.5-2z"/>
<path fill="#f9c6ac" d="M196,932l3 5l11-2l-4-5zM1935.5,1411l-5-15l-13.5-5l-7 6.5l2 2l13.5 19l2.5 3l-1-1.5l-1-12l5 0l1 9zM1987.5,1418.5l-9-16l-16 2.5l-5 7.5l3 13l19.5 7zM2007,1377l-8.5 17l11 14l10.5-3.5l4-16.5l-5-8z"/>
<path fill="#f9c4a9" d="M361.5,1030.5l-5 23l58 7l-5.5 11l4.5 3l14.5-33l-12-35.5zM2005,1417l4.5-9l-11-14l-15 1l-5 7.5l9 16z"/>
<path fill="#f8bfa4" d="M2020,1404.5l11.5 7l-.5-6.5l-6.5-16.5l-.5-.5zM2024,1433.5l8-8l-.5-14l-11.5-7l-10.5 3.5l-4.5 9l5.5 13z"/>
<path fill="#f8bb9e" d="M1932,1417l0 3l6 10l-2.5 1l1 1l6.5 8.5l5.5 0l12-15l-3-13l-22-1.5zM1997,1446l13.5-16l-5.5-13l-17.5 1.5l-7.5 14l2.5 7z"/>
<path fill="#f7b99c" d="M2024,1433.5l5 16.5l4.5 1.5l-1-16.5l-.5-9.5zM1980,1432.5l-19.5-7l-12 15l15 19.5l1.5-.5l17.5-20zM1968.5,1527.5l-5 5l8-1zM1963.5,1460l-15-19.5l-5.5 0l4 5l13.5 16.5l1 .5z"/>
<path fill="#f7b596" d="M2004,1462.5l6 1l19-13.5l-5-16.5l-13.5-3.5l-13.5 16zM1965,1459.5l25.5 15l13.5-12l-7-16.5l-14.5-6.5z"/>
<path fill="#f6b394" d="M1987.5,1483l.5 .5l5.5 12.5l5.5-1.5l-9.5-13zM1971.5,1531.5l3.5-.5l10-6.5l-8-5.5l-8.5 8.5zM2029,1450l-19 13.5l13 16.5l5.5 .5l5.5-21.5l-.5-7.5z"/>
<path fill="#f6af8e" d="M1965,1459.5l-1.5 .5l-2 2.5l15.5 7.5l10.5 13l2-1.5l1-7zM2023,1480l-4.5 8.5l2-1l8-6.5l0-.5z"/>
<path fill="#f5a886" d="M2023,1480l-13-16.5l-6-1l-13.5 12l-1 7l9.5 13l5-1.5l14.5-4.5z"/></g><path d="M293.9,197.3L290.6,204.9L283.9,209.1L276.3,218.3L278.8,219.6L286.4,217.9" fill="none" stroke="#000" stroke-width="1.3"/>
<path d="M356.8,1611.8L270.8,1634.6999999999998L356.8,1657.6Z" fill="#053061"/><rect x="356.8" y="1611.8" width="250.0" height="45.8" fill="#195696"/><rect x="606.3" y="1611.8" width="250.0" height="45.8" fill="#4c99c6"/><rect x="855.8" y="1611.8" width="250.0" height="45.8" fill="#b6d7e8"/><rect x="1105.3" y="1611.8" width="250.0" height="45.8" fill="#f7f6f6"/><rect x="1354.7" y="1611.8" width="250.0" height="45.8" fill="#f9c4a9"/><rect x="1604.2" y="1611.8" width="250.0" height="45.8" fill="#da6853"/><rect x="1853.7" y="1611.8" width="250.0" height="45.8" fill="#9c1127"/><path d="M2103.2,1611.8L2189.7,1634.6999999999998L2103.2,1657.6Z" fill="#67001f"/><path d="M356.8,1611.8L2103.2,1611.8L2189.7,1634.6999999999998L2103.2,1657.6L356.8,1657.6L270.8,1634.6999999999998Z" fill="none" stroke="#fff" stroke-width="2.2" stroke-linejoin="miter"/><rect x="355.7" y="1657.6" width="2.2" height="15" fill="#fff"/><rect x="605.2" y="1657.6" width="2.2" height="15" fill="#fff"/><rect x="854.7" y="1657.6" width="2.2" height="15" fill="#fff"/><rect x="1104.2" y="1657.6" width="2.2" height="15" fill="#fff"/><rect x="1353.6" y="1657.6" width="2.2" height="15" fill="#fff"/><rect x="1603.1" y="1657.6" width="2.2" height="15" fill="#fff"/><rect x="1852.6" y="1657.6" width="2.2" height="15" fill="#fff"/><rect x="2102.1" y="1657.6" width="2.2" height="15" fill="#fff"/>
<text x="192.24" y="84.1" font-size="73" textLength="250.26" lengthAdjust="spacingAndGlyphs">County</text><text x="468.0" y="84.1" font-size="73" textLength="334.57" lengthAdjust="spacingAndGlyphs">Averaged</text><text x="823.37" y="84.1" font-size="73" textLength="202.66" lengthAdjust="spacingAndGlyphs">TMAX</text><text x="1049.83" y="84.1" font-size="73" textLength="162.31" lengthAdjust="spacingAndGlyphs">Data</text><text x="1241.24" y="84.1" font-size="73" textLength="164.41" lengthAdjust="spacingAndGlyphs">from</text><text x="1428.59" y="84.1" font-size="73" textLength="358.28" lengthAdjust="spacingAndGlyphs">20260111</text><text x="1812.1" y="84.1" font-size="73" textLength="70.52" lengthAdjust="spacingAndGlyphs">to</text><text x="1906.2" y="84.1" font-size="73" textLength="358.8" lengthAdjust="spacingAndGlyphs">20260117</text><text x="318.42" y="1735.1" font-size="64.5" textLength="77.16" lengthAdjust="spacingAndGlyphs">30</text><text x="567.77" y="1735.1" font-size="64.5" textLength="76.68" lengthAdjust="spacingAndGlyphs">40</text><text x="817.82" y="1735.1" font-size="64.5" textLength="75.62" lengthAdjust="spacingAndGlyphs">50</text><text x="1065.53" y="1735.1" font-size="64.5" textLength="77.32" lengthAdjust="spacingAndGlyphs">60</text><text x="1315.06" y="1735.1" font-size="64.5" textLength="77.73" lengthAdjust="spacingAndGlyphs">70</text><text x="1564.96" y="1735.1" font-size="64.5" textLength="78.53" lengthAdjust="spacingAndGlyphs">80</text><text x="1814.54" y="1735.1" font-size="64.5" textLength="78.72" lengthAdjust="spacingAndGlyphs">90</text><text x="2042.5" y="1735.1" font-size="64.5" textLength="119.16" lengthAdjust="spacingAndGlyphs">100</text><text x="1172.97" y="1810.8" font-size="64.5" textLength="113.09" lengthAdjust="spacingAndGlyphs">(°F)</text><text x="1739.59" y="1809.1" font-size="29.7" textLength="111.38" lengthAdjust="spacingAndGlyphs">Source:</text><text x="1858.45" y="1809.1" font-size="29.7" textLength="84.9" lengthAdjust="spacingAndGlyphs">NCEIs</text><text x="1952.32" y="1809.1" font-size="29.7" textLength="145.15" lengthAdjust="spacingAndGlyphs">nClimGrid</text><text x="2106.87" y="1809.1" font-size="29.7" textLength="72.21" lengthAdjust="spacingAndGlyphs">Daily</text>
</svg></body></html>
